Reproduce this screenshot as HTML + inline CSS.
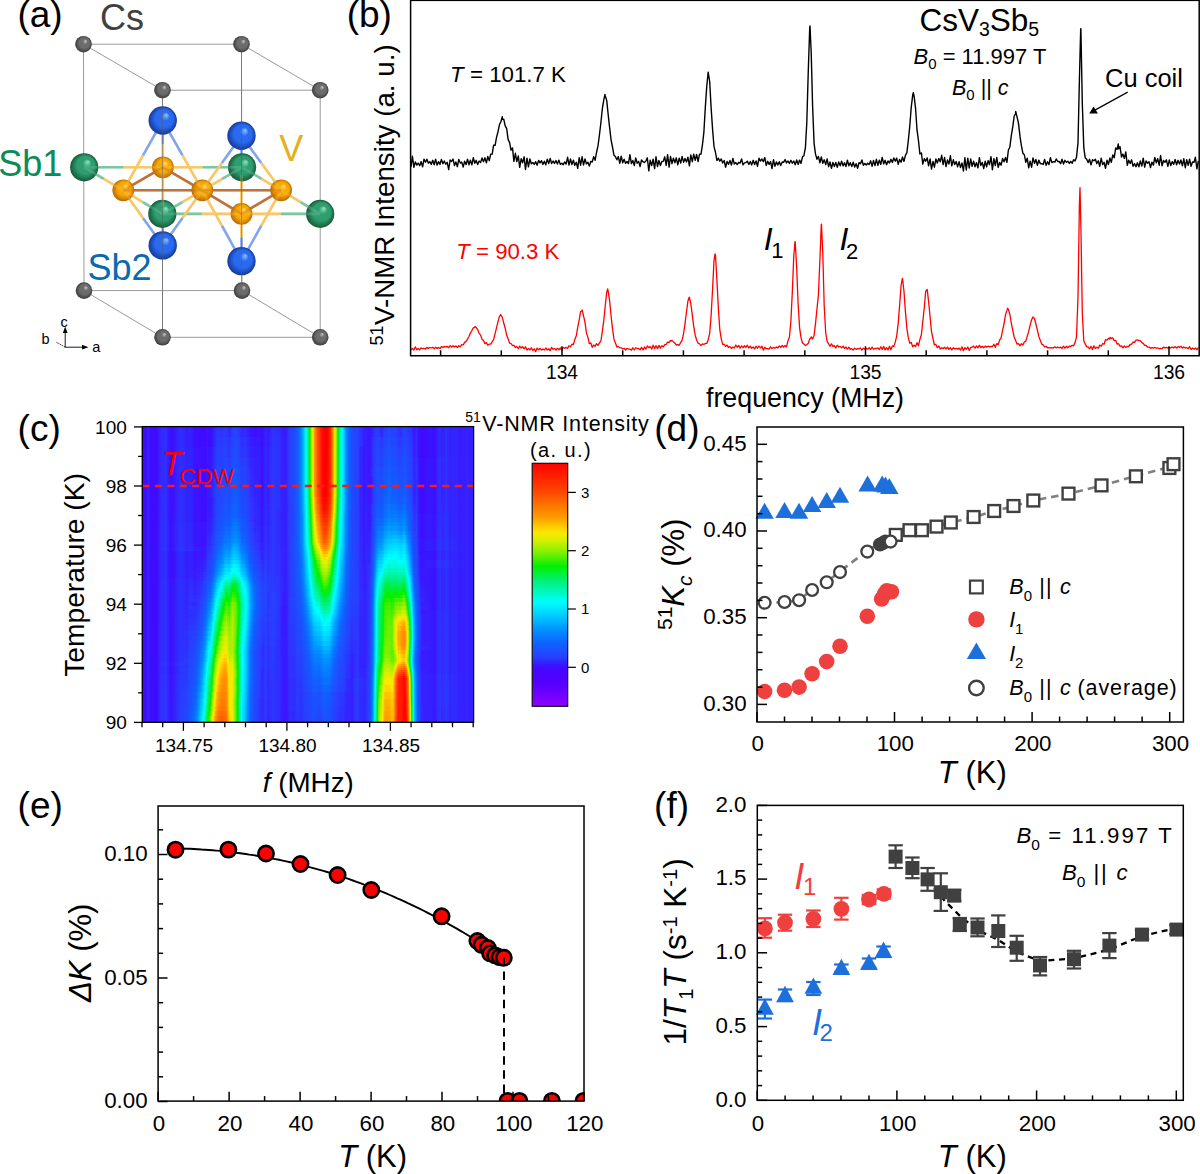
<!DOCTYPE html><html><head><meta charset="utf-8"><style>html,body{margin:0;padding:0;background:#fff;overflow:hidden;}svg{display:block;}</style></head><body><svg width="1200" height="1174" viewBox="0 0 1200 1174" font-family='"Liberation Sans", sans-serif'><rect width="1200" height="1174" fill="#fff"/><defs><radialGradient id="gCs" cx="0.5" cy="0.5" r="0.5" fx="0.64" fy="0.3"><stop offset="0" stop-color="#c8c8c8"/><stop offset="0.3" stop-color="#6c6c6c"/><stop offset="0.62" stop-color="#6c6c6c"/><stop offset="1" stop-color="#3c3c3c"/></radialGradient><radialGradient id="gB" cx="0.5" cy="0.5" r="0.5" fx="0.64" fy="0.3"><stop offset="0" stop-color="#8cc4ff"/><stop offset="0.3" stop-color="#2a6af0"/><stop offset="0.62" stop-color="#2a6af0"/><stop offset="1" stop-color="#163a98"/></radialGradient><radialGradient id="gG" cx="0.5" cy="0.5" r="0.5" fx="0.64" fy="0.3"><stop offset="0" stop-color="#90e8c0"/><stop offset="0.3" stop-color="#2e9e6e"/><stop offset="0.62" stop-color="#2e9e6e"/><stop offset="1" stop-color="#165a3a"/></radialGradient><radialGradient id="gO" cx="0.5" cy="0.5" r="0.5" fx="0.64" fy="0.3"><stop offset="0" stop-color="#ffe070"/><stop offset="0.3" stop-color="#f8a800"/><stop offset="0.62" stop-color="#f8a800"/><stop offset="1" stop-color="#b86a00"/></radialGradient><linearGradient id="h0"><stop offset="0.000" stop-color="#2c2c2c"/><stop offset="0.200" stop-color="#2c2c2c"/><stop offset="0.282" stop-color="#343434"/><stop offset="0.345" stop-color="#2d2d2d"/><stop offset="0.391" stop-color="#2c2c2c"/><stop offset="0.430" stop-color="#2e2e2e"/><stop offset="0.452" stop-color="#333333"/><stop offset="0.464" stop-color="#393939"/><stop offset="0.473" stop-color="#424242"/><stop offset="0.488" stop-color="#5d5d5d"/><stop offset="0.494" stop-color="#6c6c6c"/><stop offset="0.503" stop-color="#888888"/><stop offset="0.521" stop-color="#cacaca"/><stop offset="0.530" stop-color="#e9e9e9"/><stop offset="0.539" stop-color="#fefefe"/><stop offset="0.542" stop-color="#ffffff"/><stop offset="0.558" stop-color="#ffffff"/><stop offset="0.561" stop-color="#fbfbfb"/><stop offset="0.570" stop-color="#e4e4e4"/><stop offset="0.597" stop-color="#838383"/><stop offset="0.609" stop-color="#606060"/><stop offset="0.615" stop-color="#535353"/><stop offset="0.624" stop-color="#444444"/><stop offset="0.642" stop-color="#353535"/><stop offset="0.679" stop-color="#2e2e2e"/><stop offset="0.742" stop-color="#343434"/><stop offset="0.788" stop-color="#333333"/><stop offset="0.836" stop-color="#2c2c2c"/><stop offset="1.000" stop-color="#2c2c2c"/></linearGradient><linearGradient id="h1"><stop offset="0.000" stop-color="#2c2c2c"/><stop offset="0.200" stop-color="#2c2c2c"/><stop offset="0.279" stop-color="#363636"/><stop offset="0.370" stop-color="#2c2c2c"/><stop offset="0.424" stop-color="#2e2e2e"/><stop offset="0.452" stop-color="#333333"/><stop offset="0.464" stop-color="#393939"/><stop offset="0.473" stop-color="#424242"/><stop offset="0.488" stop-color="#5c5c5c"/><stop offset="0.494" stop-color="#6c6c6c"/><stop offset="0.503" stop-color="#888888"/><stop offset="0.521" stop-color="#cacaca"/><stop offset="0.530" stop-color="#e8e8e8"/><stop offset="0.539" stop-color="#fefefe"/><stop offset="0.542" stop-color="#ffffff"/><stop offset="0.558" stop-color="#ffffff"/><stop offset="0.561" stop-color="#fbfbfb"/><stop offset="0.570" stop-color="#e4e4e4"/><stop offset="0.597" stop-color="#838383"/><stop offset="0.609" stop-color="#606060"/><stop offset="0.615" stop-color="#535353"/><stop offset="0.624" stop-color="#444444"/><stop offset="0.642" stop-color="#353535"/><stop offset="0.679" stop-color="#2e2e2e"/><stop offset="0.721" stop-color="#363636"/><stop offset="0.742" stop-color="#363636"/><stop offset="0.788" stop-color="#353535"/><stop offset="0.836" stop-color="#2c2c2c"/><stop offset="1.000" stop-color="#2c2c2c"/></linearGradient><linearGradient id="h2"><stop offset="0.000" stop-color="#2c2c2c"/><stop offset="0.200" stop-color="#2d2d2d"/><stop offset="0.279" stop-color="#373737"/><stop offset="0.367" stop-color="#2d2d2d"/><stop offset="0.424" stop-color="#2e2e2e"/><stop offset="0.452" stop-color="#333333"/><stop offset="0.464" stop-color="#393939"/><stop offset="0.473" stop-color="#424242"/><stop offset="0.488" stop-color="#5c5c5c"/><stop offset="0.494" stop-color="#6c6c6c"/><stop offset="0.503" stop-color="#888888"/><stop offset="0.521" stop-color="#cacaca"/><stop offset="0.530" stop-color="#e8e8e8"/><stop offset="0.539" stop-color="#fdfdfd"/><stop offset="0.542" stop-color="#ffffff"/><stop offset="0.558" stop-color="#ffffff"/><stop offset="0.561" stop-color="#fafafa"/><stop offset="0.570" stop-color="#e3e3e3"/><stop offset="0.597" stop-color="#838383"/><stop offset="0.609" stop-color="#606060"/><stop offset="0.615" stop-color="#535353"/><stop offset="0.624" stop-color="#444444"/><stop offset="0.642" stop-color="#353535"/><stop offset="0.658" stop-color="#303030"/><stop offset="0.682" stop-color="#2e2e2e"/><stop offset="0.721" stop-color="#383838"/><stop offset="0.745" stop-color="#383838"/><stop offset="0.788" stop-color="#373737"/><stop offset="0.836" stop-color="#2c2c2c"/><stop offset="1.000" stop-color="#2c2c2c"/></linearGradient><linearGradient id="h3"><stop offset="0.000" stop-color="#2c2c2c"/><stop offset="0.197" stop-color="#2d2d2d"/><stop offset="0.279" stop-color="#393939"/><stop offset="0.367" stop-color="#2d2d2d"/><stop offset="0.424" stop-color="#2e2e2e"/><stop offset="0.452" stop-color="#333333"/><stop offset="0.464" stop-color="#393939"/><stop offset="0.473" stop-color="#424242"/><stop offset="0.488" stop-color="#5c5c5c"/><stop offset="0.494" stop-color="#6b6b6b"/><stop offset="0.503" stop-color="#878787"/><stop offset="0.521" stop-color="#cacaca"/><stop offset="0.530" stop-color="#e8e8e8"/><stop offset="0.536" stop-color="#f7f7f7"/><stop offset="0.542" stop-color="#ffffff"/><stop offset="0.558" stop-color="#ffffff"/><stop offset="0.561" stop-color="#fafafa"/><stop offset="0.570" stop-color="#e3e3e3"/><stop offset="0.597" stop-color="#828282"/><stop offset="0.609" stop-color="#606060"/><stop offset="0.615" stop-color="#535353"/><stop offset="0.624" stop-color="#444444"/><stop offset="0.642" stop-color="#353535"/><stop offset="0.661" stop-color="#2f2f2f"/><stop offset="0.685" stop-color="#2e2e2e"/><stop offset="0.721" stop-color="#393939"/><stop offset="0.745" stop-color="#3a3a3a"/><stop offset="0.788" stop-color="#393939"/><stop offset="0.836" stop-color="#2d2d2d"/><stop offset="1.000" stop-color="#2c2c2c"/></linearGradient><linearGradient id="h4"><stop offset="0.000" stop-color="#2c2c2c"/><stop offset="0.197" stop-color="#2d2d2d"/><stop offset="0.279" stop-color="#3b3b3b"/><stop offset="0.364" stop-color="#2d2d2d"/><stop offset="0.421" stop-color="#2e2e2e"/><stop offset="0.452" stop-color="#333333"/><stop offset="0.464" stop-color="#393939"/><stop offset="0.473" stop-color="#424242"/><stop offset="0.488" stop-color="#5c5c5c"/><stop offset="0.494" stop-color="#6b6b6b"/><stop offset="0.503" stop-color="#878787"/><stop offset="0.521" stop-color="#c9c9c9"/><stop offset="0.530" stop-color="#e7e7e7"/><stop offset="0.536" stop-color="#f7f7f7"/><stop offset="0.542" stop-color="#ffffff"/><stop offset="0.558" stop-color="#ffffff"/><stop offset="0.561" stop-color="#fafafa"/><stop offset="0.570" stop-color="#e3e3e3"/><stop offset="0.597" stop-color="#828282"/><stop offset="0.609" stop-color="#606060"/><stop offset="0.615" stop-color="#535353"/><stop offset="0.624" stop-color="#444444"/><stop offset="0.642" stop-color="#353535"/><stop offset="0.661" stop-color="#2f2f2f"/><stop offset="0.682" stop-color="#2e2e2e"/><stop offset="0.724" stop-color="#3c3c3c"/><stop offset="0.779" stop-color="#3c3c3c"/><stop offset="0.836" stop-color="#2d2d2d"/><stop offset="1.000" stop-color="#2c2c2c"/></linearGradient><linearGradient id="h5"><stop offset="0.000" stop-color="#2c2c2c"/><stop offset="0.197" stop-color="#2d2d2d"/><stop offset="0.279" stop-color="#3c3c3c"/><stop offset="0.364" stop-color="#2d2d2d"/><stop offset="0.421" stop-color="#2e2e2e"/><stop offset="0.452" stop-color="#333333"/><stop offset="0.464" stop-color="#393939"/><stop offset="0.473" stop-color="#424242"/><stop offset="0.488" stop-color="#5c5c5c"/><stop offset="0.494" stop-color="#6b6b6b"/><stop offset="0.503" stop-color="#878787"/><stop offset="0.521" stop-color="#c9c9c9"/><stop offset="0.530" stop-color="#e7e7e7"/><stop offset="0.536" stop-color="#f6f6f6"/><stop offset="0.542" stop-color="#ffffff"/><stop offset="0.558" stop-color="#fefefe"/><stop offset="0.561" stop-color="#f9f9f9"/><stop offset="0.570" stop-color="#e2e2e2"/><stop offset="0.597" stop-color="#828282"/><stop offset="0.609" stop-color="#606060"/><stop offset="0.615" stop-color="#535353"/><stop offset="0.624" stop-color="#444444"/><stop offset="0.642" stop-color="#353535"/><stop offset="0.661" stop-color="#2f2f2f"/><stop offset="0.682" stop-color="#2e2e2e"/><stop offset="0.694" stop-color="#303030"/><stop offset="0.724" stop-color="#3e3e3e"/><stop offset="0.779" stop-color="#3e3e3e"/><stop offset="0.836" stop-color="#2d2d2d"/><stop offset="1.000" stop-color="#2c2c2c"/></linearGradient><linearGradient id="h6"><stop offset="0.000" stop-color="#2c2c2c"/><stop offset="0.194" stop-color="#2d2d2d"/><stop offset="0.279" stop-color="#3e3e3e"/><stop offset="0.364" stop-color="#2d2d2d"/><stop offset="0.421" stop-color="#2e2e2e"/><stop offset="0.452" stop-color="#333333"/><stop offset="0.464" stop-color="#393939"/><stop offset="0.473" stop-color="#424242"/><stop offset="0.488" stop-color="#5c5c5c"/><stop offset="0.494" stop-color="#6b6b6b"/><stop offset="0.503" stop-color="#878787"/><stop offset="0.521" stop-color="#c8c8c8"/><stop offset="0.530" stop-color="#e6e6e6"/><stop offset="0.539" stop-color="#fbfbfb"/><stop offset="0.545" stop-color="#ffffff"/><stop offset="0.558" stop-color="#fdfdfd"/><stop offset="0.564" stop-color="#f2f2f2"/><stop offset="0.573" stop-color="#d8d8d8"/><stop offset="0.597" stop-color="#828282"/><stop offset="0.606" stop-color="#676767"/><stop offset="0.612" stop-color="#595959"/><stop offset="0.627" stop-color="#404040"/><stop offset="0.642" stop-color="#353535"/><stop offset="0.661" stop-color="#2f2f2f"/><stop offset="0.682" stop-color="#2e2e2e"/><stop offset="0.694" stop-color="#313131"/><stop offset="0.724" stop-color="#404040"/><stop offset="0.779" stop-color="#404040"/><stop offset="0.791" stop-color="#3e3e3e"/><stop offset="0.818" stop-color="#313131"/><stop offset="0.836" stop-color="#2d2d2d"/><stop offset="1.000" stop-color="#2c2c2c"/></linearGradient><linearGradient id="h7"><stop offset="0.000" stop-color="#2c2c2c"/><stop offset="0.194" stop-color="#2d2d2d"/><stop offset="0.218" stop-color="#303030"/><stop offset="0.279" stop-color="#404040"/><stop offset="0.364" stop-color="#2d2d2d"/><stop offset="0.421" stop-color="#2e2e2e"/><stop offset="0.452" stop-color="#333333"/><stop offset="0.464" stop-color="#393939"/><stop offset="0.473" stop-color="#424242"/><stop offset="0.488" stop-color="#5b5b5b"/><stop offset="0.503" stop-color="#858585"/><stop offset="0.530" stop-color="#e2e2e2"/><stop offset="0.539" stop-color="#f7f7f7"/><stop offset="0.548" stop-color="#fefefe"/><stop offset="0.558" stop-color="#f9f9f9"/><stop offset="0.567" stop-color="#e6e6e6"/><stop offset="0.576" stop-color="#cacaca"/><stop offset="0.597" stop-color="#808080"/><stop offset="0.606" stop-color="#666666"/><stop offset="0.612" stop-color="#585858"/><stop offset="0.627" stop-color="#404040"/><stop offset="0.642" stop-color="#353535"/><stop offset="0.661" stop-color="#2f2f2f"/><stop offset="0.682" stop-color="#2e2e2e"/><stop offset="0.694" stop-color="#313131"/><stop offset="0.724" stop-color="#414141"/><stop offset="0.779" stop-color="#424242"/><stop offset="0.791" stop-color="#404040"/><stop offset="0.818" stop-color="#323232"/><stop offset="0.836" stop-color="#2d2d2d"/><stop offset="1.000" stop-color="#2c2c2c"/></linearGradient><linearGradient id="h8"><stop offset="0.000" stop-color="#2c2c2c"/><stop offset="0.194" stop-color="#2d2d2d"/><stop offset="0.218" stop-color="#313131"/><stop offset="0.261" stop-color="#3e3e3e"/><stop offset="0.279" stop-color="#414141"/><stop offset="0.364" stop-color="#2d2d2d"/><stop offset="0.421" stop-color="#2e2e2e"/><stop offset="0.452" stop-color="#323232"/><stop offset="0.464" stop-color="#393939"/><stop offset="0.473" stop-color="#414141"/><stop offset="0.488" stop-color="#5a5a5a"/><stop offset="0.503" stop-color="#838383"/><stop offset="0.530" stop-color="#dedede"/><stop offset="0.539" stop-color="#f2f2f2"/><stop offset="0.548" stop-color="#fbfbfb"/><stop offset="0.558" stop-color="#f5f5f5"/><stop offset="0.567" stop-color="#e2e2e2"/><stop offset="0.576" stop-color="#c7c7c7"/><stop offset="0.597" stop-color="#7e7e7e"/><stop offset="0.612" stop-color="#575757"/><stop offset="0.627" stop-color="#404040"/><stop offset="0.642" stop-color="#343434"/><stop offset="0.661" stop-color="#2f2f2f"/><stop offset="0.685" stop-color="#2f2f2f"/><stop offset="0.724" stop-color="#434343"/><stop offset="0.779" stop-color="#464646"/><stop offset="0.791" stop-color="#434343"/><stop offset="0.818" stop-color="#333333"/><stop offset="0.836" stop-color="#2d2d2d"/><stop offset="1.000" stop-color="#2c2c2c"/></linearGradient><linearGradient id="h9"><stop offset="0.000" stop-color="#2c2c2c"/><stop offset="0.191" stop-color="#2d2d2d"/><stop offset="0.218" stop-color="#313131"/><stop offset="0.261" stop-color="#3f3f3f"/><stop offset="0.279" stop-color="#414141"/><stop offset="0.361" stop-color="#2e2e2e"/><stop offset="0.418" stop-color="#2d2d2d"/><stop offset="0.452" stop-color="#323232"/><stop offset="0.464" stop-color="#383838"/><stop offset="0.473" stop-color="#414141"/><stop offset="0.488" stop-color="#595959"/><stop offset="0.503" stop-color="#818181"/><stop offset="0.530" stop-color="#dbdbdb"/><stop offset="0.539" stop-color="#efefef"/><stop offset="0.548" stop-color="#f6f6f6"/><stop offset="0.558" stop-color="#f1f1f1"/><stop offset="0.567" stop-color="#dfdfdf"/><stop offset="0.576" stop-color="#c4c4c4"/><stop offset="0.597" stop-color="#7d7d7d"/><stop offset="0.612" stop-color="#565656"/><stop offset="0.627" stop-color="#3f3f3f"/><stop offset="0.642" stop-color="#343434"/><stop offset="0.661" stop-color="#2f2f2f"/><stop offset="0.685" stop-color="#2f2f2f"/><stop offset="0.724" stop-color="#444444"/><stop offset="0.779" stop-color="#494949"/><stop offset="0.791" stop-color="#464646"/><stop offset="0.818" stop-color="#343434"/><stop offset="0.836" stop-color="#2d2d2d"/><stop offset="1.000" stop-color="#2c2c2c"/></linearGradient><linearGradient id="h10"><stop offset="0.000" stop-color="#2c2c2c"/><stop offset="0.191" stop-color="#2d2d2d"/><stop offset="0.218" stop-color="#313131"/><stop offset="0.261" stop-color="#404040"/><stop offset="0.279" stop-color="#424242"/><stop offset="0.361" stop-color="#2e2e2e"/><stop offset="0.418" stop-color="#2d2d2d"/><stop offset="0.452" stop-color="#323232"/><stop offset="0.464" stop-color="#383838"/><stop offset="0.473" stop-color="#404040"/><stop offset="0.488" stop-color="#585858"/><stop offset="0.503" stop-color="#7f7f7f"/><stop offset="0.530" stop-color="#d7d7d7"/><stop offset="0.539" stop-color="#eaeaea"/><stop offset="0.548" stop-color="#f2f2f2"/><stop offset="0.558" stop-color="#ededed"/><stop offset="0.567" stop-color="#dbdbdb"/><stop offset="0.576" stop-color="#c1c1c1"/><stop offset="0.597" stop-color="#7b7b7b"/><stop offset="0.612" stop-color="#555555"/><stop offset="0.627" stop-color="#3f3f3f"/><stop offset="0.642" stop-color="#343434"/><stop offset="0.664" stop-color="#2f2f2f"/><stop offset="0.685" stop-color="#2f2f2f"/><stop offset="0.697" stop-color="#343434"/><stop offset="0.721" stop-color="#444444"/><stop offset="0.779" stop-color="#4c4c4c"/><stop offset="0.791" stop-color="#494949"/><stop offset="0.818" stop-color="#343434"/><stop offset="0.836" stop-color="#2e2e2e"/><stop offset="1.000" stop-color="#2c2c2c"/></linearGradient><linearGradient id="h11"><stop offset="0.000" stop-color="#2c2c2c"/><stop offset="0.191" stop-color="#2d2d2d"/><stop offset="0.218" stop-color="#323232"/><stop offset="0.261" stop-color="#414141"/><stop offset="0.279" stop-color="#444444"/><stop offset="0.294" stop-color="#424242"/><stop offset="0.336" stop-color="#333333"/><stop offset="0.361" stop-color="#2e2e2e"/><stop offset="0.418" stop-color="#2d2d2d"/><stop offset="0.452" stop-color="#323232"/><stop offset="0.470" stop-color="#3d3d3d"/><stop offset="0.485" stop-color="#525252"/><stop offset="0.500" stop-color="#767676"/><stop offset="0.530" stop-color="#d4d4d4"/><stop offset="0.539" stop-color="#e6e6e6"/><stop offset="0.548" stop-color="#eeeeee"/><stop offset="0.558" stop-color="#e8e8e8"/><stop offset="0.567" stop-color="#d7d7d7"/><stop offset="0.576" stop-color="#bebebe"/><stop offset="0.597" stop-color="#7a7a7a"/><stop offset="0.612" stop-color="#555555"/><stop offset="0.627" stop-color="#3f3f3f"/><stop offset="0.642" stop-color="#343434"/><stop offset="0.664" stop-color="#2f2f2f"/><stop offset="0.685" stop-color="#2f2f2f"/><stop offset="0.694" stop-color="#333333"/><stop offset="0.715" stop-color="#434343"/><stop offset="0.724" stop-color="#474747"/><stop offset="0.779" stop-color="#4e4e4e"/><stop offset="0.791" stop-color="#4b4b4b"/><stop offset="0.818" stop-color="#353535"/><stop offset="0.836" stop-color="#2e2e2e"/><stop offset="1.000" stop-color="#2c2c2c"/></linearGradient><linearGradient id="h12"><stop offset="0.000" stop-color="#2c2c2c"/><stop offset="0.191" stop-color="#2e2e2e"/><stop offset="0.215" stop-color="#323232"/><stop offset="0.261" stop-color="#434343"/><stop offset="0.279" stop-color="#464646"/><stop offset="0.294" stop-color="#444444"/><stop offset="0.336" stop-color="#343434"/><stop offset="0.361" stop-color="#2e2e2e"/><stop offset="0.415" stop-color="#2d2d2d"/><stop offset="0.452" stop-color="#323232"/><stop offset="0.470" stop-color="#3d3d3d"/><stop offset="0.485" stop-color="#525252"/><stop offset="0.500" stop-color="#757575"/><stop offset="0.530" stop-color="#d0d0d0"/><stop offset="0.539" stop-color="#e2e2e2"/><stop offset="0.548" stop-color="#e9e9e9"/><stop offset="0.558" stop-color="#e4e4e4"/><stop offset="0.567" stop-color="#d4d4d4"/><stop offset="0.576" stop-color="#bbbbbb"/><stop offset="0.597" stop-color="#797979"/><stop offset="0.612" stop-color="#555555"/><stop offset="0.627" stop-color="#3f3f3f"/><stop offset="0.642" stop-color="#343434"/><stop offset="0.664" stop-color="#2f2f2f"/><stop offset="0.685" stop-color="#2f2f2f"/><stop offset="0.694" stop-color="#333333"/><stop offset="0.721" stop-color="#494949"/><stop offset="0.776" stop-color="#515151"/><stop offset="0.791" stop-color="#4d4d4d"/><stop offset="0.818" stop-color="#363636"/><stop offset="0.836" stop-color="#2e2e2e"/><stop offset="1.000" stop-color="#2c2c2c"/></linearGradient><linearGradient id="h13"><stop offset="0.000" stop-color="#2c2c2c"/><stop offset="0.191" stop-color="#2e2e2e"/><stop offset="0.215" stop-color="#323232"/><stop offset="0.261" stop-color="#464646"/><stop offset="0.279" stop-color="#494949"/><stop offset="0.294" stop-color="#464646"/><stop offset="0.336" stop-color="#343434"/><stop offset="0.361" stop-color="#2f2f2f"/><stop offset="0.415" stop-color="#2d2d2d"/><stop offset="0.452" stop-color="#323232"/><stop offset="0.470" stop-color="#3d3d3d"/><stop offset="0.485" stop-color="#525252"/><stop offset="0.500" stop-color="#747474"/><stop offset="0.530" stop-color="#cdcdcd"/><stop offset="0.539" stop-color="#dedede"/><stop offset="0.548" stop-color="#e5e5e5"/><stop offset="0.558" stop-color="#e0e0e0"/><stop offset="0.567" stop-color="#d0d0d0"/><stop offset="0.576" stop-color="#b8b8b8"/><stop offset="0.597" stop-color="#787878"/><stop offset="0.612" stop-color="#555555"/><stop offset="0.627" stop-color="#3f3f3f"/><stop offset="0.645" stop-color="#333333"/><stop offset="0.667" stop-color="#2f2f2f"/><stop offset="0.685" stop-color="#2f2f2f"/><stop offset="0.694" stop-color="#343434"/><stop offset="0.715" stop-color="#484848"/><stop offset="0.724" stop-color="#4d4d4d"/><stop offset="0.776" stop-color="#545454"/><stop offset="0.791" stop-color="#505050"/><stop offset="0.818" stop-color="#363636"/><stop offset="0.836" stop-color="#2e2e2e"/><stop offset="1.000" stop-color="#2c2c2c"/></linearGradient><linearGradient id="h14"><stop offset="0.000" stop-color="#2c2c2c"/><stop offset="0.191" stop-color="#2e2e2e"/><stop offset="0.215" stop-color="#333333"/><stop offset="0.261" stop-color="#484848"/><stop offset="0.279" stop-color="#4b4b4b"/><stop offset="0.294" stop-color="#494949"/><stop offset="0.336" stop-color="#353535"/><stop offset="0.361" stop-color="#2f2f2f"/><stop offset="0.415" stop-color="#2d2d2d"/><stop offset="0.452" stop-color="#323232"/><stop offset="0.470" stop-color="#3d3d3d"/><stop offset="0.485" stop-color="#525252"/><stop offset="0.500" stop-color="#737373"/><stop offset="0.530" stop-color="#cacaca"/><stop offset="0.539" stop-color="#dadada"/><stop offset="0.548" stop-color="#e1e1e1"/><stop offset="0.558" stop-color="#dcdcdc"/><stop offset="0.567" stop-color="#cdcdcd"/><stop offset="0.576" stop-color="#b6b6b6"/><stop offset="0.597" stop-color="#777777"/><stop offset="0.612" stop-color="#545454"/><stop offset="0.627" stop-color="#3f3f3f"/><stop offset="0.645" stop-color="#333333"/><stop offset="0.667" stop-color="#2f2f2f"/><stop offset="0.685" stop-color="#303030"/><stop offset="0.694" stop-color="#343434"/><stop offset="0.715" stop-color="#4b4b4b"/><stop offset="0.724" stop-color="#515151"/><stop offset="0.776" stop-color="#585858"/><stop offset="0.791" stop-color="#545454"/><stop offset="0.818" stop-color="#383838"/><stop offset="0.836" stop-color="#2e2e2e"/><stop offset="1.000" stop-color="#2c2c2c"/></linearGradient><linearGradient id="h15"><stop offset="0.000" stop-color="#2c2c2c"/><stop offset="0.191" stop-color="#2e2e2e"/><stop offset="0.215" stop-color="#343434"/><stop offset="0.261" stop-color="#4a4a4a"/><stop offset="0.279" stop-color="#4d4d4d"/><stop offset="0.294" stop-color="#4a4a4a"/><stop offset="0.336" stop-color="#363636"/><stop offset="0.361" stop-color="#2f2f2f"/><stop offset="0.412" stop-color="#2d2d2d"/><stop offset="0.448" stop-color="#313131"/><stop offset="0.470" stop-color="#3d3d3d"/><stop offset="0.485" stop-color="#525252"/><stop offset="0.500" stop-color="#737373"/><stop offset="0.530" stop-color="#c7c7c7"/><stop offset="0.539" stop-color="#d7d7d7"/><stop offset="0.548" stop-color="#dedede"/><stop offset="0.558" stop-color="#d9d9d9"/><stop offset="0.567" stop-color="#cacaca"/><stop offset="0.576" stop-color="#b4b4b4"/><stop offset="0.600" stop-color="#6f6f6f"/><stop offset="0.612" stop-color="#545454"/><stop offset="0.627" stop-color="#3f3f3f"/><stop offset="0.645" stop-color="#333333"/><stop offset="0.667" stop-color="#2f2f2f"/><stop offset="0.685" stop-color="#303030"/><stop offset="0.694" stop-color="#353535"/><stop offset="0.721" stop-color="#525252"/><stop offset="0.776" stop-color="#5d5d5d"/><stop offset="0.791" stop-color="#595959"/><stop offset="0.818" stop-color="#393939"/><stop offset="0.836" stop-color="#2e2e2e"/><stop offset="1.000" stop-color="#2c2c2c"/></linearGradient><linearGradient id="h16"><stop offset="0.000" stop-color="#2c2c2c"/><stop offset="0.188" stop-color="#2e2e2e"/><stop offset="0.215" stop-color="#353535"/><stop offset="0.261" stop-color="#4c4c4c"/><stop offset="0.279" stop-color="#505050"/><stop offset="0.294" stop-color="#4d4d4d"/><stop offset="0.336" stop-color="#363636"/><stop offset="0.361" stop-color="#2f2f2f"/><stop offset="0.409" stop-color="#2d2d2d"/><stop offset="0.448" stop-color="#313131"/><stop offset="0.470" stop-color="#3e3e3e"/><stop offset="0.485" stop-color="#515151"/><stop offset="0.500" stop-color="#727272"/><stop offset="0.530" stop-color="#c4c4c4"/><stop offset="0.539" stop-color="#d4d4d4"/><stop offset="0.548" stop-color="#dadada"/><stop offset="0.558" stop-color="#d5d5d5"/><stop offset="0.567" stop-color="#c7c7c7"/><stop offset="0.576" stop-color="#b1b1b1"/><stop offset="0.600" stop-color="#6e6e6e"/><stop offset="0.612" stop-color="#545454"/><stop offset="0.627" stop-color="#3f3f3f"/><stop offset="0.645" stop-color="#333333"/><stop offset="0.667" stop-color="#2f2f2f"/><stop offset="0.685" stop-color="#303030"/><stop offset="0.694" stop-color="#363636"/><stop offset="0.721" stop-color="#555555"/><stop offset="0.776" stop-color="#626262"/><stop offset="0.791" stop-color="#5d5d5d"/><stop offset="0.818" stop-color="#3a3a3a"/><stop offset="0.836" stop-color="#2f2f2f"/><stop offset="1.000" stop-color="#2c2c2c"/></linearGradient><linearGradient id="h17"><stop offset="0.000" stop-color="#2c2c2c"/><stop offset="0.188" stop-color="#2e2e2e"/><stop offset="0.215" stop-color="#353535"/><stop offset="0.261" stop-color="#4f4f4f"/><stop offset="0.279" stop-color="#535353"/><stop offset="0.294" stop-color="#4f4f4f"/><stop offset="0.336" stop-color="#373737"/><stop offset="0.361" stop-color="#303030"/><stop offset="0.409" stop-color="#2d2d2d"/><stop offset="0.448" stop-color="#313131"/><stop offset="0.470" stop-color="#3d3d3d"/><stop offset="0.485" stop-color="#515151"/><stop offset="0.500" stop-color="#717171"/><stop offset="0.530" stop-color="#c0c0c0"/><stop offset="0.539" stop-color="#cfcfcf"/><stop offset="0.548" stop-color="#d5d5d5"/><stop offset="0.558" stop-color="#d1d1d1"/><stop offset="0.567" stop-color="#c3c3c3"/><stop offset="0.576" stop-color="#aeaeae"/><stop offset="0.600" stop-color="#6d6d6d"/><stop offset="0.615" stop-color="#4f4f4f"/><stop offset="0.630" stop-color="#3c3c3c"/><stop offset="0.645" stop-color="#333333"/><stop offset="0.667" stop-color="#2f2f2f"/><stop offset="0.685" stop-color="#303030"/><stop offset="0.694" stop-color="#363636"/><stop offset="0.712" stop-color="#4e4e4e"/><stop offset="0.721" stop-color="#575757"/><stop offset="0.776" stop-color="#666666"/><stop offset="0.791" stop-color="#616161"/><stop offset="0.818" stop-color="#3b3b3b"/><stop offset="0.827" stop-color="#333333"/><stop offset="0.836" stop-color="#2f2f2f"/><stop offset="1.000" stop-color="#2c2c2c"/></linearGradient><linearGradient id="h18"><stop offset="0.000" stop-color="#2c2c2c"/><stop offset="0.188" stop-color="#2e2e2e"/><stop offset="0.215" stop-color="#363636"/><stop offset="0.261" stop-color="#515151"/><stop offset="0.279" stop-color="#555555"/><stop offset="0.294" stop-color="#515151"/><stop offset="0.336" stop-color="#383838"/><stop offset="0.361" stop-color="#303030"/><stop offset="0.409" stop-color="#2d2d2d"/><stop offset="0.448" stop-color="#313131"/><stop offset="0.470" stop-color="#3d3d3d"/><stop offset="0.485" stop-color="#505050"/><stop offset="0.500" stop-color="#6f6f6f"/><stop offset="0.530" stop-color="#bcbcbc"/><stop offset="0.539" stop-color="#cbcbcb"/><stop offset="0.548" stop-color="#d1d1d1"/><stop offset="0.558" stop-color="#cdcdcd"/><stop offset="0.567" stop-color="#bfbfbf"/><stop offset="0.576" stop-color="#ababab"/><stop offset="0.600" stop-color="#6c6c6c"/><stop offset="0.615" stop-color="#4e4e4e"/><stop offset="0.630" stop-color="#3c3c3c"/><stop offset="0.645" stop-color="#333333"/><stop offset="0.667" stop-color="#2f2f2f"/><stop offset="0.685" stop-color="#303030"/><stop offset="0.694" stop-color="#373737"/><stop offset="0.712" stop-color="#4f4f4f"/><stop offset="0.721" stop-color="#595959"/><stop offset="0.776" stop-color="#686868"/><stop offset="0.791" stop-color="#636363"/><stop offset="0.818" stop-color="#3c3c3c"/><stop offset="0.827" stop-color="#333333"/><stop offset="0.836" stop-color="#2f2f2f"/><stop offset="1.000" stop-color="#2c2c2c"/></linearGradient><linearGradient id="h19"><stop offset="0.000" stop-color="#2c2c2c"/><stop offset="0.188" stop-color="#2f2f2f"/><stop offset="0.215" stop-color="#373737"/><stop offset="0.258" stop-color="#515151"/><stop offset="0.276" stop-color="#575757"/><stop offset="0.294" stop-color="#535353"/><stop offset="0.336" stop-color="#383838"/><stop offset="0.361" stop-color="#303030"/><stop offset="0.406" stop-color="#2d2d2d"/><stop offset="0.448" stop-color="#313131"/><stop offset="0.470" stop-color="#3d3d3d"/><stop offset="0.485" stop-color="#505050"/><stop offset="0.500" stop-color="#6e6e6e"/><stop offset="0.530" stop-color="#b9b9b9"/><stop offset="0.539" stop-color="#c7c7c7"/><stop offset="0.548" stop-color="#cdcdcd"/><stop offset="0.558" stop-color="#c9c9c9"/><stop offset="0.567" stop-color="#bcbcbc"/><stop offset="0.576" stop-color="#a8a8a8"/><stop offset="0.600" stop-color="#6a6a6a"/><stop offset="0.615" stop-color="#4d4d4d"/><stop offset="0.630" stop-color="#3c3c3c"/><stop offset="0.645" stop-color="#333333"/><stop offset="0.667" stop-color="#2f2f2f"/><stop offset="0.685" stop-color="#313131"/><stop offset="0.694" stop-color="#373737"/><stop offset="0.712" stop-color="#515151"/><stop offset="0.721" stop-color="#5a5a5a"/><stop offset="0.776" stop-color="#6a6a6a"/><stop offset="0.791" stop-color="#646464"/><stop offset="0.821" stop-color="#393939"/><stop offset="0.836" stop-color="#2f2f2f"/><stop offset="1.000" stop-color="#2c2c2c"/></linearGradient><linearGradient id="h20"><stop offset="0.000" stop-color="#2c2c2c"/><stop offset="0.188" stop-color="#2f2f2f"/><stop offset="0.215" stop-color="#373737"/><stop offset="0.258" stop-color="#535353"/><stop offset="0.276" stop-color="#585858"/><stop offset="0.294" stop-color="#545454"/><stop offset="0.336" stop-color="#393939"/><stop offset="0.361" stop-color="#303030"/><stop offset="0.406" stop-color="#2d2d2d"/><stop offset="0.448" stop-color="#313131"/><stop offset="0.470" stop-color="#3d3d3d"/><stop offset="0.485" stop-color="#4f4f4f"/><stop offset="0.500" stop-color="#6c6c6c"/><stop offset="0.530" stop-color="#b5b5b5"/><stop offset="0.539" stop-color="#c3c3c3"/><stop offset="0.548" stop-color="#c8c8c8"/><stop offset="0.558" stop-color="#c5c5c5"/><stop offset="0.567" stop-color="#b8b8b8"/><stop offset="0.576" stop-color="#a5a5a5"/><stop offset="0.600" stop-color="#696969"/><stop offset="0.615" stop-color="#4d4d4d"/><stop offset="0.630" stop-color="#3c3c3c"/><stop offset="0.645" stop-color="#333333"/><stop offset="0.667" stop-color="#2f2f2f"/><stop offset="0.685" stop-color="#313131"/><stop offset="0.694" stop-color="#373737"/><stop offset="0.712" stop-color="#525252"/><stop offset="0.721" stop-color="#5c5c5c"/><stop offset="0.776" stop-color="#6b6b6b"/><stop offset="0.791" stop-color="#656565"/><stop offset="0.821" stop-color="#393939"/><stop offset="0.836" stop-color="#2f2f2f"/><stop offset="1.000" stop-color="#2c2c2c"/></linearGradient><linearGradient id="h21"><stop offset="0.000" stop-color="#2c2c2c"/><stop offset="0.145" stop-color="#2c2c2c"/><stop offset="0.188" stop-color="#2f2f2f"/><stop offset="0.215" stop-color="#383838"/><stop offset="0.258" stop-color="#555555"/><stop offset="0.276" stop-color="#5b5b5b"/><stop offset="0.294" stop-color="#565656"/><stop offset="0.336" stop-color="#3a3a3a"/><stop offset="0.361" stop-color="#313131"/><stop offset="0.406" stop-color="#2d2d2d"/><stop offset="0.448" stop-color="#313131"/><stop offset="0.470" stop-color="#3c3c3c"/><stop offset="0.485" stop-color="#4e4e4e"/><stop offset="0.500" stop-color="#6b6b6b"/><stop offset="0.530" stop-color="#b1b1b1"/><stop offset="0.539" stop-color="#bebebe"/><stop offset="0.548" stop-color="#c3c3c3"/><stop offset="0.558" stop-color="#c0c0c0"/><stop offset="0.567" stop-color="#b3b3b3"/><stop offset="0.576" stop-color="#a1a1a1"/><stop offset="0.600" stop-color="#686868"/><stop offset="0.615" stop-color="#4c4c4c"/><stop offset="0.630" stop-color="#3b3b3b"/><stop offset="0.645" stop-color="#333333"/><stop offset="0.670" stop-color="#2f2f2f"/><stop offset="0.685" stop-color="#313131"/><stop offset="0.694" stop-color="#383838"/><stop offset="0.712" stop-color="#545454"/><stop offset="0.721" stop-color="#5f5f5f"/><stop offset="0.776" stop-color="#6d6d6d"/><stop offset="0.791" stop-color="#676767"/><stop offset="0.821" stop-color="#3a3a3a"/><stop offset="0.836" stop-color="#2f2f2f"/><stop offset="0.864" stop-color="#2d2d2d"/><stop offset="1.000" stop-color="#2c2c2c"/></linearGradient><linearGradient id="h22"><stop offset="0.000" stop-color="#2c2c2c"/><stop offset="0.145" stop-color="#2c2c2c"/><stop offset="0.188" stop-color="#2f2f2f"/><stop offset="0.212" stop-color="#383838"/><stop offset="0.258" stop-color="#575757"/><stop offset="0.276" stop-color="#5d5d5d"/><stop offset="0.294" stop-color="#595959"/><stop offset="0.336" stop-color="#3b3b3b"/><stop offset="0.361" stop-color="#313131"/><stop offset="0.403" stop-color="#2d2d2d"/><stop offset="0.448" stop-color="#313131"/><stop offset="0.467" stop-color="#3a3a3a"/><stop offset="0.482" stop-color="#494949"/><stop offset="0.497" stop-color="#636363"/><stop offset="0.530" stop-color="#acacac"/><stop offset="0.539" stop-color="#b9b9b9"/><stop offset="0.548" stop-color="#bebebe"/><stop offset="0.558" stop-color="#bababa"/><stop offset="0.567" stop-color="#afafaf"/><stop offset="0.576" stop-color="#9d9d9d"/><stop offset="0.600" stop-color="#666666"/><stop offset="0.615" stop-color="#4b4b4b"/><stop offset="0.630" stop-color="#3b3b3b"/><stop offset="0.645" stop-color="#333333"/><stop offset="0.670" stop-color="#2f2f2f"/><stop offset="0.685" stop-color="#313131"/><stop offset="0.694" stop-color="#393939"/><stop offset="0.715" stop-color="#5b5b5b"/><stop offset="0.724" stop-color="#646464"/><stop offset="0.776" stop-color="#6f6f6f"/><stop offset="0.791" stop-color="#696969"/><stop offset="0.800" stop-color="#5d5d5d"/><stop offset="0.821" stop-color="#3b3b3b"/><stop offset="0.836" stop-color="#303030"/><stop offset="0.864" stop-color="#2d2d2d"/><stop offset="1.000" stop-color="#2c2c2c"/></linearGradient><linearGradient id="h23"><stop offset="0.000" stop-color="#2c2c2c"/><stop offset="0.142" stop-color="#2c2c2c"/><stop offset="0.185" stop-color="#2f2f2f"/><stop offset="0.212" stop-color="#383838"/><stop offset="0.258" stop-color="#5a5a5a"/><stop offset="0.276" stop-color="#606060"/><stop offset="0.294" stop-color="#5b5b5b"/><stop offset="0.336" stop-color="#3c3c3c"/><stop offset="0.361" stop-color="#313131"/><stop offset="0.403" stop-color="#2d2d2d"/><stop offset="0.448" stop-color="#313131"/><stop offset="0.467" stop-color="#393939"/><stop offset="0.482" stop-color="#484848"/><stop offset="0.497" stop-color="#616161"/><stop offset="0.530" stop-color="#a8a8a8"/><stop offset="0.539" stop-color="#b4b4b4"/><stop offset="0.548" stop-color="#b9b9b9"/><stop offset="0.558" stop-color="#b5b5b5"/><stop offset="0.567" stop-color="#aaaaaa"/><stop offset="0.576" stop-color="#999999"/><stop offset="0.600" stop-color="#646464"/><stop offset="0.615" stop-color="#4b4b4b"/><stop offset="0.630" stop-color="#3b3b3b"/><stop offset="0.645" stop-color="#333333"/><stop offset="0.670" stop-color="#2f2f2f"/><stop offset="0.685" stop-color="#313131"/><stop offset="0.694" stop-color="#393939"/><stop offset="0.715" stop-color="#5e5e5e"/><stop offset="0.724" stop-color="#676767"/><stop offset="0.776" stop-color="#717171"/><stop offset="0.791" stop-color="#6b6b6b"/><stop offset="0.800" stop-color="#5f5f5f"/><stop offset="0.821" stop-color="#3b3b3b"/><stop offset="0.836" stop-color="#303030"/><stop offset="0.864" stop-color="#2d2d2d"/><stop offset="1.000" stop-color="#2c2c2c"/></linearGradient><linearGradient id="h24"><stop offset="0.000" stop-color="#2c2c2c"/><stop offset="0.142" stop-color="#2c2c2c"/><stop offset="0.185" stop-color="#303030"/><stop offset="0.212" stop-color="#3a3a3a"/><stop offset="0.258" stop-color="#5d5d5d"/><stop offset="0.276" stop-color="#646464"/><stop offset="0.294" stop-color="#5f5f5f"/><stop offset="0.336" stop-color="#3d3d3d"/><stop offset="0.361" stop-color="#323232"/><stop offset="0.403" stop-color="#2d2d2d"/><stop offset="0.448" stop-color="#313131"/><stop offset="0.467" stop-color="#393939"/><stop offset="0.482" stop-color="#484848"/><stop offset="0.497" stop-color="#606060"/><stop offset="0.530" stop-color="#a3a3a3"/><stop offset="0.539" stop-color="#afafaf"/><stop offset="0.548" stop-color="#b4b4b4"/><stop offset="0.558" stop-color="#b0b0b0"/><stop offset="0.567" stop-color="#a6a6a6"/><stop offset="0.576" stop-color="#969696"/><stop offset="0.600" stop-color="#636363"/><stop offset="0.615" stop-color="#4a4a4a"/><stop offset="0.630" stop-color="#3b3b3b"/><stop offset="0.648" stop-color="#323232"/><stop offset="0.670" stop-color="#2f2f2f"/><stop offset="0.685" stop-color="#313131"/><stop offset="0.694" stop-color="#3a3a3a"/><stop offset="0.715" stop-color="#616161"/><stop offset="0.724" stop-color="#6a6a6a"/><stop offset="0.776" stop-color="#747474"/><stop offset="0.791" stop-color="#6e6e6e"/><stop offset="0.800" stop-color="#626262"/><stop offset="0.821" stop-color="#3c3c3c"/><stop offset="0.830" stop-color="#333333"/><stop offset="0.839" stop-color="#2f2f2f"/><stop offset="1.000" stop-color="#2c2c2c"/></linearGradient><linearGradient id="h25"><stop offset="0.000" stop-color="#2c2c2c"/><stop offset="0.142" stop-color="#2c2c2c"/><stop offset="0.185" stop-color="#303030"/><stop offset="0.212" stop-color="#3c3c3c"/><stop offset="0.258" stop-color="#626262"/><stop offset="0.276" stop-color="#696969"/><stop offset="0.294" stop-color="#646464"/><stop offset="0.336" stop-color="#3f3f3f"/><stop offset="0.361" stop-color="#333333"/><stop offset="0.397" stop-color="#2d2d2d"/><stop offset="0.445" stop-color="#303030"/><stop offset="0.467" stop-color="#393939"/><stop offset="0.482" stop-color="#474747"/><stop offset="0.497" stop-color="#5f5f5f"/><stop offset="0.530" stop-color="#a0a0a0"/><stop offset="0.539" stop-color="#ababab"/><stop offset="0.548" stop-color="#afafaf"/><stop offset="0.558" stop-color="#acacac"/><stop offset="0.567" stop-color="#a2a2a2"/><stop offset="0.576" stop-color="#929292"/><stop offset="0.600" stop-color="#616161"/><stop offset="0.615" stop-color="#494949"/><stop offset="0.630" stop-color="#3b3b3b"/><stop offset="0.648" stop-color="#323232"/><stop offset="0.673" stop-color="#2f2f2f"/><stop offset="0.688" stop-color="#343434"/><stop offset="0.697" stop-color="#404040"/><stop offset="0.715" stop-color="#646464"/><stop offset="0.727" stop-color="#707070"/><stop offset="0.758" stop-color="#727272"/><stop offset="0.779" stop-color="#787878"/><stop offset="0.788" stop-color="#757575"/><stop offset="0.794" stop-color="#6f6f6f"/><stop offset="0.821" stop-color="#3e3e3e"/><stop offset="0.830" stop-color="#343434"/><stop offset="0.839" stop-color="#2f2f2f"/><stop offset="1.000" stop-color="#2c2c2c"/></linearGradient><linearGradient id="h26"><stop offset="0.000" stop-color="#2c2c2c"/><stop offset="0.142" stop-color="#2c2c2c"/><stop offset="0.185" stop-color="#313131"/><stop offset="0.209" stop-color="#3b3b3b"/><stop offset="0.258" stop-color="#676767"/><stop offset="0.276" stop-color="#6e6e6e"/><stop offset="0.294" stop-color="#686868"/><stop offset="0.336" stop-color="#414141"/><stop offset="0.361" stop-color="#333333"/><stop offset="0.397" stop-color="#2d2d2d"/><stop offset="0.445" stop-color="#303030"/><stop offset="0.467" stop-color="#393939"/><stop offset="0.482" stop-color="#474747"/><stop offset="0.497" stop-color="#5d5d5d"/><stop offset="0.530" stop-color="#9c9c9c"/><stop offset="0.539" stop-color="#a7a7a7"/><stop offset="0.548" stop-color="#ababab"/><stop offset="0.558" stop-color="#a8a8a8"/><stop offset="0.567" stop-color="#9e9e9e"/><stop offset="0.576" stop-color="#8f8f8f"/><stop offset="0.600" stop-color="#606060"/><stop offset="0.615" stop-color="#494949"/><stop offset="0.630" stop-color="#3a3a3a"/><stop offset="0.648" stop-color="#323232"/><stop offset="0.673" stop-color="#2f2f2f"/><stop offset="0.688" stop-color="#343434"/><stop offset="0.697" stop-color="#414141"/><stop offset="0.715" stop-color="#686868"/><stop offset="0.721" stop-color="#707070"/><stop offset="0.727" stop-color="#757575"/><stop offset="0.758" stop-color="#767676"/><stop offset="0.779" stop-color="#7c7c7c"/><stop offset="0.788" stop-color="#797979"/><stop offset="0.794" stop-color="#737373"/><stop offset="0.821" stop-color="#3f3f3f"/><stop offset="0.830" stop-color="#353535"/><stop offset="0.839" stop-color="#303030"/><stop offset="0.870" stop-color="#2d2d2d"/><stop offset="1.000" stop-color="#2c2c2c"/></linearGradient><linearGradient id="h27"><stop offset="0.000" stop-color="#2c2c2c"/><stop offset="0.139" stop-color="#2c2c2c"/><stop offset="0.182" stop-color="#313131"/><stop offset="0.209" stop-color="#3d3d3d"/><stop offset="0.258" stop-color="#6b6b6b"/><stop offset="0.276" stop-color="#737373"/><stop offset="0.294" stop-color="#6c6c6c"/><stop offset="0.336" stop-color="#434343"/><stop offset="0.361" stop-color="#343434"/><stop offset="0.397" stop-color="#2d2d2d"/><stop offset="0.445" stop-color="#303030"/><stop offset="0.467" stop-color="#393939"/><stop offset="0.482" stop-color="#464646"/><stop offset="0.497" stop-color="#5c5c5c"/><stop offset="0.530" stop-color="#999999"/><stop offset="0.539" stop-color="#a3a3a3"/><stop offset="0.548" stop-color="#a7a7a7"/><stop offset="0.558" stop-color="#a4a4a4"/><stop offset="0.567" stop-color="#9b9b9b"/><stop offset="0.576" stop-color="#8d8d8d"/><stop offset="0.600" stop-color="#5f5f5f"/><stop offset="0.615" stop-color="#494949"/><stop offset="0.630" stop-color="#3a3a3a"/><stop offset="0.648" stop-color="#323232"/><stop offset="0.676" stop-color="#2f2f2f"/><stop offset="0.688" stop-color="#353535"/><stop offset="0.697" stop-color="#424242"/><stop offset="0.715" stop-color="#6b6b6b"/><stop offset="0.721" stop-color="#747474"/><stop offset="0.727" stop-color="#797979"/><stop offset="0.758" stop-color="#7a7a7a"/><stop offset="0.779" stop-color="#808080"/><stop offset="0.788" stop-color="#7d7d7d"/><stop offset="0.794" stop-color="#777777"/><stop offset="0.821" stop-color="#414141"/><stop offset="0.830" stop-color="#353535"/><stop offset="0.839" stop-color="#303030"/><stop offset="0.870" stop-color="#2d2d2d"/><stop offset="1.000" stop-color="#2c2c2c"/></linearGradient><linearGradient id="h28"><stop offset="0.000" stop-color="#2c2c2c"/><stop offset="0.139" stop-color="#2c2c2c"/><stop offset="0.182" stop-color="#313131"/><stop offset="0.209" stop-color="#3e3e3e"/><stop offset="0.255" stop-color="#6d6d6d"/><stop offset="0.267" stop-color="#757575"/><stop offset="0.276" stop-color="#777777"/><stop offset="0.294" stop-color="#707070"/><stop offset="0.336" stop-color="#444444"/><stop offset="0.361" stop-color="#353535"/><stop offset="0.397" stop-color="#2e2e2e"/><stop offset="0.445" stop-color="#303030"/><stop offset="0.467" stop-color="#393939"/><stop offset="0.482" stop-color="#464646"/><stop offset="0.497" stop-color="#5b5b5b"/><stop offset="0.530" stop-color="#969696"/><stop offset="0.539" stop-color="#a0a0a0"/><stop offset="0.548" stop-color="#a4a4a4"/><stop offset="0.558" stop-color="#a2a2a2"/><stop offset="0.570" stop-color="#949494"/><stop offset="0.600" stop-color="#5e5e5e"/><stop offset="0.615" stop-color="#484848"/><stop offset="0.630" stop-color="#3a3a3a"/><stop offset="0.648" stop-color="#323232"/><stop offset="0.676" stop-color="#2f2f2f"/><stop offset="0.688" stop-color="#353535"/><stop offset="0.697" stop-color="#434343"/><stop offset="0.715" stop-color="#6e6e6e"/><stop offset="0.721" stop-color="#777777"/><stop offset="0.727" stop-color="#7c7c7c"/><stop offset="0.758" stop-color="#7d7d7d"/><stop offset="0.779" stop-color="#838383"/><stop offset="0.788" stop-color="#808080"/><stop offset="0.794" stop-color="#7a7a7a"/><stop offset="0.800" stop-color="#6f6f6f"/><stop offset="0.821" stop-color="#424242"/><stop offset="0.830" stop-color="#363636"/><stop offset="0.839" stop-color="#303030"/><stop offset="0.870" stop-color="#2d2d2d"/><stop offset="1.000" stop-color="#2c2c2c"/></linearGradient><linearGradient id="h29"><stop offset="0.000" stop-color="#2c2c2c"/><stop offset="0.139" stop-color="#2c2c2c"/><stop offset="0.182" stop-color="#323232"/><stop offset="0.209" stop-color="#404040"/><stop offset="0.255" stop-color="#727272"/><stop offset="0.267" stop-color="#7a7a7a"/><stop offset="0.276" stop-color="#7c7c7c"/><stop offset="0.294" stop-color="#757575"/><stop offset="0.336" stop-color="#464646"/><stop offset="0.361" stop-color="#353535"/><stop offset="0.397" stop-color="#2e2e2e"/><stop offset="0.445" stop-color="#303030"/><stop offset="0.467" stop-color="#383838"/><stop offset="0.482" stop-color="#464646"/><stop offset="0.497" stop-color="#5b5b5b"/><stop offset="0.530" stop-color="#949494"/><stop offset="0.539" stop-color="#9e9e9e"/><stop offset="0.548" stop-color="#a2a2a2"/><stop offset="0.558" stop-color="#9f9f9f"/><stop offset="0.570" stop-color="#929292"/><stop offset="0.600" stop-color="#5d5d5d"/><stop offset="0.615" stop-color="#484848"/><stop offset="0.630" stop-color="#3a3a3a"/><stop offset="0.648" stop-color="#323232"/><stop offset="0.676" stop-color="#2f2f2f"/><stop offset="0.688" stop-color="#353535"/><stop offset="0.697" stop-color="#444444"/><stop offset="0.715" stop-color="#707070"/><stop offset="0.721" stop-color="#7a7a7a"/><stop offset="0.727" stop-color="#7f7f7f"/><stop offset="0.758" stop-color="#7f7f7f"/><stop offset="0.779" stop-color="#858585"/><stop offset="0.788" stop-color="#838383"/><stop offset="0.794" stop-color="#7c7c7c"/><stop offset="0.800" stop-color="#727272"/><stop offset="0.821" stop-color="#434343"/><stop offset="0.830" stop-color="#363636"/><stop offset="0.839" stop-color="#303030"/><stop offset="0.867" stop-color="#2d2d2d"/><stop offset="1.000" stop-color="#2c2c2c"/></linearGradient><linearGradient id="h30"><stop offset="0.000" stop-color="#2c2c2c"/><stop offset="0.139" stop-color="#2d2d2d"/><stop offset="0.182" stop-color="#323232"/><stop offset="0.197" stop-color="#393939"/><stop offset="0.212" stop-color="#454545"/><stop offset="0.258" stop-color="#797979"/><stop offset="0.267" stop-color="#7f7f7f"/><stop offset="0.276" stop-color="#818181"/><stop offset="0.294" stop-color="#797979"/><stop offset="0.336" stop-color="#474747"/><stop offset="0.361" stop-color="#363636"/><stop offset="0.397" stop-color="#2e2e2e"/><stop offset="0.445" stop-color="#303030"/><stop offset="0.467" stop-color="#383838"/><stop offset="0.482" stop-color="#454545"/><stop offset="0.497" stop-color="#5a5a5a"/><stop offset="0.530" stop-color="#939393"/><stop offset="0.539" stop-color="#9c9c9c"/><stop offset="0.548" stop-color="#a0a0a0"/><stop offset="0.558" stop-color="#9d9d9d"/><stop offset="0.570" stop-color="#919191"/><stop offset="0.600" stop-color="#5c5c5c"/><stop offset="0.615" stop-color="#474747"/><stop offset="0.630" stop-color="#3a3a3a"/><stop offset="0.648" stop-color="#323232"/><stop offset="0.676" stop-color="#2f2f2f"/><stop offset="0.688" stop-color="#363636"/><stop offset="0.697" stop-color="#444444"/><stop offset="0.715" stop-color="#727272"/><stop offset="0.721" stop-color="#7c7c7c"/><stop offset="0.727" stop-color="#818181"/><stop offset="0.758" stop-color="#818181"/><stop offset="0.779" stop-color="#888888"/><stop offset="0.788" stop-color="#858585"/><stop offset="0.794" stop-color="#7f7f7f"/><stop offset="0.800" stop-color="#747474"/><stop offset="0.821" stop-color="#444444"/><stop offset="0.830" stop-color="#373737"/><stop offset="0.839" stop-color="#303030"/><stop offset="0.867" stop-color="#2d2d2d"/><stop offset="1.000" stop-color="#2c2c2c"/></linearGradient><linearGradient id="h31"><stop offset="0.000" stop-color="#2c2c2c"/><stop offset="0.136" stop-color="#2d2d2d"/><stop offset="0.179" stop-color="#323232"/><stop offset="0.206" stop-color="#414141"/><stop offset="0.221" stop-color="#515151"/><stop offset="0.255" stop-color="#7b7b7b"/><stop offset="0.267" stop-color="#848484"/><stop offset="0.276" stop-color="#868686"/><stop offset="0.285" stop-color="#848484"/><stop offset="0.294" stop-color="#7d7d7d"/><stop offset="0.336" stop-color="#494949"/><stop offset="0.361" stop-color="#363636"/><stop offset="0.394" stop-color="#2e2e2e"/><stop offset="0.445" stop-color="#303030"/><stop offset="0.467" stop-color="#383838"/><stop offset="0.482" stop-color="#454545"/><stop offset="0.497" stop-color="#595959"/><stop offset="0.530" stop-color="#919191"/><stop offset="0.539" stop-color="#9a9a9a"/><stop offset="0.548" stop-color="#9e9e9e"/><stop offset="0.558" stop-color="#9b9b9b"/><stop offset="0.570" stop-color="#8f8f8f"/><stop offset="0.600" stop-color="#5c5c5c"/><stop offset="0.615" stop-color="#474747"/><stop offset="0.630" stop-color="#393939"/><stop offset="0.648" stop-color="#323232"/><stop offset="0.676" stop-color="#2f2f2f"/><stop offset="0.688" stop-color="#363636"/><stop offset="0.697" stop-color="#454545"/><stop offset="0.715" stop-color="#747474"/><stop offset="0.721" stop-color="#7e7e7e"/><stop offset="0.727" stop-color="#848484"/><stop offset="0.742" stop-color="#868686"/><stop offset="0.758" stop-color="#848484"/><stop offset="0.779" stop-color="#8b8b8b"/><stop offset="0.788" stop-color="#888888"/><stop offset="0.794" stop-color="#828282"/><stop offset="0.800" stop-color="#777777"/><stop offset="0.821" stop-color="#454545"/><stop offset="0.830" stop-color="#373737"/><stop offset="0.839" stop-color="#313131"/><stop offset="0.867" stop-color="#2d2d2d"/><stop offset="1.000" stop-color="#2c2c2c"/></linearGradient><linearGradient id="h32"><stop offset="0.000" stop-color="#2c2c2c"/><stop offset="0.136" stop-color="#2d2d2d"/><stop offset="0.179" stop-color="#333333"/><stop offset="0.194" stop-color="#3a3a3a"/><stop offset="0.209" stop-color="#464646"/><stop offset="0.258" stop-color="#848484"/><stop offset="0.267" stop-color="#8a8a8a"/><stop offset="0.276" stop-color="#8c8c8c"/><stop offset="0.285" stop-color="#898989"/><stop offset="0.294" stop-color="#818181"/><stop offset="0.336" stop-color="#4a4a4a"/><stop offset="0.361" stop-color="#373737"/><stop offset="0.394" stop-color="#2e2e2e"/><stop offset="0.445" stop-color="#303030"/><stop offset="0.467" stop-color="#383838"/><stop offset="0.482" stop-color="#444444"/><stop offset="0.497" stop-color="#585858"/><stop offset="0.530" stop-color="#8e8e8e"/><stop offset="0.539" stop-color="#989898"/><stop offset="0.548" stop-color="#9b9b9b"/><stop offset="0.558" stop-color="#999999"/><stop offset="0.570" stop-color="#8c8c8c"/><stop offset="0.600" stop-color="#5a5a5a"/><stop offset="0.615" stop-color="#464646"/><stop offset="0.630" stop-color="#393939"/><stop offset="0.648" stop-color="#323232"/><stop offset="0.676" stop-color="#2f2f2f"/><stop offset="0.688" stop-color="#363636"/><stop offset="0.697" stop-color="#464646"/><stop offset="0.715" stop-color="#767676"/><stop offset="0.721" stop-color="#818181"/><stop offset="0.727" stop-color="#868686"/><stop offset="0.742" stop-color="#898989"/><stop offset="0.758" stop-color="#868686"/><stop offset="0.779" stop-color="#8e8e8e"/><stop offset="0.788" stop-color="#8c8c8c"/><stop offset="0.794" stop-color="#858585"/><stop offset="0.800" stop-color="#7a7a7a"/><stop offset="0.821" stop-color="#464646"/><stop offset="0.830" stop-color="#383838"/><stop offset="0.839" stop-color="#313131"/><stop offset="0.867" stop-color="#2d2d2d"/><stop offset="1.000" stop-color="#2c2c2c"/></linearGradient><linearGradient id="h33"><stop offset="0.000" stop-color="#2c2c2c"/><stop offset="0.136" stop-color="#2d2d2d"/><stop offset="0.179" stop-color="#333333"/><stop offset="0.194" stop-color="#3b3b3b"/><stop offset="0.206" stop-color="#454545"/><stop offset="0.218" stop-color="#535353"/><stop offset="0.252" stop-color="#818181"/><stop offset="0.264" stop-color="#8c8c8c"/><stop offset="0.273" stop-color="#8f8f8f"/><stop offset="0.282" stop-color="#8d8d8d"/><stop offset="0.294" stop-color="#848484"/><stop offset="0.336" stop-color="#4b4b4b"/><stop offset="0.361" stop-color="#373737"/><stop offset="0.394" stop-color="#2e2e2e"/><stop offset="0.445" stop-color="#303030"/><stop offset="0.467" stop-color="#373737"/><stop offset="0.482" stop-color="#434343"/><stop offset="0.497" stop-color="#575757"/><stop offset="0.530" stop-color="#8b8b8b"/><stop offset="0.539" stop-color="#949494"/><stop offset="0.548" stop-color="#989898"/><stop offset="0.558" stop-color="#959595"/><stop offset="0.570" stop-color="#8a8a8a"/><stop offset="0.600" stop-color="#595959"/><stop offset="0.615" stop-color="#454545"/><stop offset="0.630" stop-color="#393939"/><stop offset="0.648" stop-color="#323232"/><stop offset="0.676" stop-color="#2f2f2f"/><stop offset="0.688" stop-color="#363636"/><stop offset="0.697" stop-color="#474747"/><stop offset="0.715" stop-color="#787878"/><stop offset="0.724" stop-color="#878787"/><stop offset="0.733" stop-color="#8b8b8b"/><stop offset="0.758" stop-color="#898989"/><stop offset="0.779" stop-color="#929292"/><stop offset="0.788" stop-color="#909090"/><stop offset="0.794" stop-color="#898989"/><stop offset="0.800" stop-color="#7d7d7d"/><stop offset="0.818" stop-color="#4e4e4e"/><stop offset="0.824" stop-color="#414141"/><stop offset="0.830" stop-color="#393939"/><stop offset="0.839" stop-color="#313131"/><stop offset="0.867" stop-color="#2d2d2d"/><stop offset="1.000" stop-color="#2c2c2c"/></linearGradient><linearGradient id="h34"><stop offset="0.000" stop-color="#2c2c2c"/><stop offset="0.133" stop-color="#2d2d2d"/><stop offset="0.176" stop-color="#333333"/><stop offset="0.191" stop-color="#3a3a3a"/><stop offset="0.203" stop-color="#444444"/><stop offset="0.218" stop-color="#565656"/><stop offset="0.252" stop-color="#858585"/><stop offset="0.264" stop-color="#909090"/><stop offset="0.273" stop-color="#929292"/><stop offset="0.282" stop-color="#909090"/><stop offset="0.291" stop-color="#898989"/><stop offset="0.336" stop-color="#4c4c4c"/><stop offset="0.361" stop-color="#383838"/><stop offset="0.394" stop-color="#2e2e2e"/><stop offset="0.445" stop-color="#303030"/><stop offset="0.467" stop-color="#373737"/><stop offset="0.482" stop-color="#434343"/><stop offset="0.497" stop-color="#555555"/><stop offset="0.530" stop-color="#888888"/><stop offset="0.539" stop-color="#919191"/><stop offset="0.548" stop-color="#959595"/><stop offset="0.558" stop-color="#929292"/><stop offset="0.567" stop-color="#8a8a8a"/><stop offset="0.606" stop-color="#4f4f4f"/><stop offset="0.624" stop-color="#3c3c3c"/><stop offset="0.645" stop-color="#323232"/><stop offset="0.676" stop-color="#303030"/><stop offset="0.685" stop-color="#343434"/><stop offset="0.694" stop-color="#404040"/><stop offset="0.715" stop-color="#7a7a7a"/><stop offset="0.724" stop-color="#898989"/><stop offset="0.733" stop-color="#8d8d8d"/><stop offset="0.758" stop-color="#8c8c8c"/><stop offset="0.779" stop-color="#969696"/><stop offset="0.788" stop-color="#949494"/><stop offset="0.794" stop-color="#8d8d8d"/><stop offset="0.800" stop-color="#818181"/><stop offset="0.818" stop-color="#505050"/><stop offset="0.824" stop-color="#434343"/><stop offset="0.830" stop-color="#393939"/><stop offset="0.839" stop-color="#323232"/><stop offset="0.867" stop-color="#2d2d2d"/><stop offset="1.000" stop-color="#2c2c2c"/></linearGradient><linearGradient id="h35"><stop offset="0.000" stop-color="#2c2c2c"/><stop offset="0.133" stop-color="#2d2d2d"/><stop offset="0.176" stop-color="#333333"/><stop offset="0.191" stop-color="#3c3c3c"/><stop offset="0.203" stop-color="#464646"/><stop offset="0.218" stop-color="#595959"/><stop offset="0.252" stop-color="#898989"/><stop offset="0.264" stop-color="#939393"/><stop offset="0.273" stop-color="#969696"/><stop offset="0.282" stop-color="#939393"/><stop offset="0.294" stop-color="#898989"/><stop offset="0.330" stop-color="#545454"/><stop offset="0.345" stop-color="#434343"/><stop offset="0.361" stop-color="#383838"/><stop offset="0.379" stop-color="#313131"/><stop offset="0.430" stop-color="#2e2e2e"/><stop offset="0.452" stop-color="#313131"/><stop offset="0.467" stop-color="#373737"/><stop offset="0.479" stop-color="#3f3f3f"/><stop offset="0.491" stop-color="#4c4c4c"/><stop offset="0.530" stop-color="#858585"/><stop offset="0.539" stop-color="#8e8e8e"/><stop offset="0.548" stop-color="#919191"/><stop offset="0.558" stop-color="#8f8f8f"/><stop offset="0.567" stop-color="#878787"/><stop offset="0.606" stop-color="#4e4e4e"/><stop offset="0.624" stop-color="#3c3c3c"/><stop offset="0.645" stop-color="#323232"/><stop offset="0.676" stop-color="#303030"/><stop offset="0.685" stop-color="#343434"/><stop offset="0.694" stop-color="#414141"/><stop offset="0.715" stop-color="#7c7c7c"/><stop offset="0.724" stop-color="#8b8b8b"/><stop offset="0.733" stop-color="#909090"/><stop offset="0.758" stop-color="#8e8e8e"/><stop offset="0.779" stop-color="#9a9a9a"/><stop offset="0.788" stop-color="#989898"/><stop offset="0.794" stop-color="#919191"/><stop offset="0.803" stop-color="#7d7d7d"/><stop offset="0.818" stop-color="#525252"/><stop offset="0.824" stop-color="#444444"/><stop offset="0.830" stop-color="#3a3a3a"/><stop offset="0.839" stop-color="#323232"/><stop offset="0.867" stop-color="#2d2d2d"/><stop offset="1.000" stop-color="#2c2c2c"/></linearGradient><linearGradient id="h36"><stop offset="0.000" stop-color="#2c2c2c"/><stop offset="0.133" stop-color="#2d2d2d"/><stop offset="0.176" stop-color="#343434"/><stop offset="0.191" stop-color="#3d3d3d"/><stop offset="0.206" stop-color="#4b4b4b"/><stop offset="0.255" stop-color="#909090"/><stop offset="0.264" stop-color="#979797"/><stop offset="0.273" stop-color="#999999"/><stop offset="0.282" stop-color="#969696"/><stop offset="0.294" stop-color="#8b8b8b"/><stop offset="0.330" stop-color="#555555"/><stop offset="0.345" stop-color="#444444"/><stop offset="0.361" stop-color="#383838"/><stop offset="0.379" stop-color="#313131"/><stop offset="0.430" stop-color="#2e2e2e"/><stop offset="0.452" stop-color="#313131"/><stop offset="0.467" stop-color="#363636"/><stop offset="0.479" stop-color="#3e3e3e"/><stop offset="0.491" stop-color="#4b4b4b"/><stop offset="0.530" stop-color="#828282"/><stop offset="0.539" stop-color="#8a8a8a"/><stop offset="0.548" stop-color="#8e8e8e"/><stop offset="0.558" stop-color="#8b8b8b"/><stop offset="0.567" stop-color="#848484"/><stop offset="0.606" stop-color="#4d4d4d"/><stop offset="0.624" stop-color="#3b3b3b"/><stop offset="0.645" stop-color="#323232"/><stop offset="0.676" stop-color="#303030"/><stop offset="0.685" stop-color="#343434"/><stop offset="0.694" stop-color="#414141"/><stop offset="0.715" stop-color="#7e7e7e"/><stop offset="0.724" stop-color="#8e8e8e"/><stop offset="0.733" stop-color="#929292"/><stop offset="0.758" stop-color="#919191"/><stop offset="0.779" stop-color="#9e9e9e"/><stop offset="0.788" stop-color="#9c9c9c"/><stop offset="0.794" stop-color="#959595"/><stop offset="0.803" stop-color="#818181"/><stop offset="0.818" stop-color="#545454"/><stop offset="0.824" stop-color="#454545"/><stop offset="0.830" stop-color="#3b3b3b"/><stop offset="0.839" stop-color="#323232"/><stop offset="0.867" stop-color="#2d2d2d"/><stop offset="1.000" stop-color="#2c2c2c"/></linearGradient><linearGradient id="h37"><stop offset="0.000" stop-color="#2c2c2c"/><stop offset="0.130" stop-color="#2d2d2d"/><stop offset="0.173" stop-color="#343434"/><stop offset="0.188" stop-color="#3c3c3c"/><stop offset="0.203" stop-color="#4a4a4a"/><stop offset="0.218" stop-color="#5f5f5f"/><stop offset="0.242" stop-color="#858585"/><stop offset="0.255" stop-color="#949494"/><stop offset="0.264" stop-color="#9b9b9b"/><stop offset="0.273" stop-color="#9d9d9d"/><stop offset="0.282" stop-color="#999999"/><stop offset="0.294" stop-color="#8d8d8d"/><stop offset="0.330" stop-color="#565656"/><stop offset="0.345" stop-color="#444444"/><stop offset="0.361" stop-color="#393939"/><stop offset="0.379" stop-color="#313131"/><stop offset="0.430" stop-color="#2e2e2e"/><stop offset="0.467" stop-color="#363636"/><stop offset="0.491" stop-color="#494949"/><stop offset="0.530" stop-color="#7f7f7f"/><stop offset="0.539" stop-color="#868686"/><stop offset="0.548" stop-color="#898989"/><stop offset="0.558" stop-color="#878787"/><stop offset="0.567" stop-color="#808080"/><stop offset="0.606" stop-color="#4c4c4c"/><stop offset="0.624" stop-color="#3b3b3b"/><stop offset="0.645" stop-color="#323232"/><stop offset="0.676" stop-color="#303030"/><stop offset="0.685" stop-color="#343434"/><stop offset="0.694" stop-color="#424242"/><stop offset="0.715" stop-color="#818181"/><stop offset="0.724" stop-color="#919191"/><stop offset="0.733" stop-color="#959595"/><stop offset="0.758" stop-color="#949494"/><stop offset="0.773" stop-color="#a1a1a1"/><stop offset="0.779" stop-color="#a3a3a3"/><stop offset="0.788" stop-color="#a1a1a1"/><stop offset="0.794" stop-color="#9a9a9a"/><stop offset="0.803" stop-color="#858585"/><stop offset="0.818" stop-color="#565656"/><stop offset="0.824" stop-color="#474747"/><stop offset="0.830" stop-color="#3c3c3c"/><stop offset="0.839" stop-color="#333333"/><stop offset="0.867" stop-color="#2d2d2d"/><stop offset="1.000" stop-color="#2c2c2c"/></linearGradient><linearGradient id="h38"><stop offset="0.000" stop-color="#2c2c2c"/><stop offset="0.130" stop-color="#2d2d2d"/><stop offset="0.155" stop-color="#2f2f2f"/><stop offset="0.173" stop-color="#353535"/><stop offset="0.188" stop-color="#3e3e3e"/><stop offset="0.200" stop-color="#4a4a4a"/><stop offset="0.215" stop-color="#5e5e5e"/><stop offset="0.248" stop-color="#929292"/><stop offset="0.261" stop-color="#9e9e9e"/><stop offset="0.270" stop-color="#a1a1a1"/><stop offset="0.279" stop-color="#9f9f9f"/><stop offset="0.291" stop-color="#949494"/><stop offset="0.330" stop-color="#575757"/><stop offset="0.345" stop-color="#454545"/><stop offset="0.361" stop-color="#393939"/><stop offset="0.379" stop-color="#313131"/><stop offset="0.430" stop-color="#2e2e2e"/><stop offset="0.467" stop-color="#353535"/><stop offset="0.491" stop-color="#484848"/><stop offset="0.530" stop-color="#7a7a7a"/><stop offset="0.539" stop-color="#828282"/><stop offset="0.548" stop-color="#858585"/><stop offset="0.558" stop-color="#838383"/><stop offset="0.567" stop-color="#7c7c7c"/><stop offset="0.606" stop-color="#4a4a4a"/><stop offset="0.624" stop-color="#3a3a3a"/><stop offset="0.648" stop-color="#313131"/><stop offset="0.676" stop-color="#303030"/><stop offset="0.685" stop-color="#343434"/><stop offset="0.694" stop-color="#434343"/><stop offset="0.715" stop-color="#838383"/><stop offset="0.724" stop-color="#949494"/><stop offset="0.733" stop-color="#989898"/><stop offset="0.758" stop-color="#979797"/><stop offset="0.773" stop-color="#a6a6a6"/><stop offset="0.782" stop-color="#a8a8a8"/><stop offset="0.791" stop-color="#a3a3a3"/><stop offset="0.797" stop-color="#999999"/><stop offset="0.803" stop-color="#8a8a8a"/><stop offset="0.818" stop-color="#595959"/><stop offset="0.824" stop-color="#494949"/><stop offset="0.833" stop-color="#393939"/><stop offset="0.842" stop-color="#313131"/><stop offset="0.873" stop-color="#2d2d2d"/><stop offset="1.000" stop-color="#2c2c2c"/></linearGradient><linearGradient id="h39"><stop offset="0.000" stop-color="#2c2c2c"/><stop offset="0.127" stop-color="#2d2d2d"/><stop offset="0.170" stop-color="#343434"/><stop offset="0.185" stop-color="#3d3d3d"/><stop offset="0.200" stop-color="#4c4c4c"/><stop offset="0.215" stop-color="#616161"/><stop offset="0.239" stop-color="#898989"/><stop offset="0.252" stop-color="#999999"/><stop offset="0.261" stop-color="#a1a1a1"/><stop offset="0.270" stop-color="#a3a3a3"/><stop offset="0.279" stop-color="#a0a0a0"/><stop offset="0.291" stop-color="#949494"/><stop offset="0.327" stop-color="#5b5b5b"/><stop offset="0.342" stop-color="#474747"/><stop offset="0.358" stop-color="#3a3a3a"/><stop offset="0.376" stop-color="#323232"/><stop offset="0.427" stop-color="#2d2d2d"/><stop offset="0.467" stop-color="#353535"/><stop offset="0.491" stop-color="#464646"/><stop offset="0.530" stop-color="#767676"/><stop offset="0.539" stop-color="#7d7d7d"/><stop offset="0.548" stop-color="#808080"/><stop offset="0.558" stop-color="#7e7e7e"/><stop offset="0.567" stop-color="#787878"/><stop offset="0.606" stop-color="#484848"/><stop offset="0.624" stop-color="#393939"/><stop offset="0.648" stop-color="#313131"/><stop offset="0.676" stop-color="#303030"/><stop offset="0.685" stop-color="#343434"/><stop offset="0.694" stop-color="#434343"/><stop offset="0.715" stop-color="#848484"/><stop offset="0.724" stop-color="#959595"/><stop offset="0.733" stop-color="#999999"/><stop offset="0.758" stop-color="#999999"/><stop offset="0.773" stop-color="#aaaaaa"/><stop offset="0.782" stop-color="#adadad"/><stop offset="0.791" stop-color="#a8a8a8"/><stop offset="0.797" stop-color="#9e9e9e"/><stop offset="0.803" stop-color="#8e8e8e"/><stop offset="0.818" stop-color="#5b5b5b"/><stop offset="0.824" stop-color="#4a4a4a"/><stop offset="0.833" stop-color="#393939"/><stop offset="0.842" stop-color="#323232"/><stop offset="0.873" stop-color="#2d2d2d"/><stop offset="1.000" stop-color="#2c2c2c"/></linearGradient><linearGradient id="h40"><stop offset="0.000" stop-color="#2c2c2c"/><stop offset="0.127" stop-color="#2d2d2d"/><stop offset="0.152" stop-color="#303030"/><stop offset="0.170" stop-color="#353535"/><stop offset="0.185" stop-color="#3f3f3f"/><stop offset="0.197" stop-color="#4b4b4b"/><stop offset="0.212" stop-color="#5f5f5f"/><stop offset="0.245" stop-color="#959595"/><stop offset="0.258" stop-color="#a1a1a1"/><stop offset="0.267" stop-color="#a5a5a5"/><stop offset="0.276" stop-color="#a3a3a3"/><stop offset="0.288" stop-color="#989898"/><stop offset="0.327" stop-color="#595959"/><stop offset="0.342" stop-color="#464646"/><stop offset="0.358" stop-color="#3a3a3a"/><stop offset="0.376" stop-color="#323232"/><stop offset="0.427" stop-color="#2d2d2d"/><stop offset="0.467" stop-color="#343434"/><stop offset="0.491" stop-color="#454545"/><stop offset="0.530" stop-color="#727272"/><stop offset="0.539" stop-color="#797979"/><stop offset="0.548" stop-color="#7b7b7b"/><stop offset="0.558" stop-color="#7a7a7a"/><stop offset="0.567" stop-color="#747474"/><stop offset="0.606" stop-color="#474747"/><stop offset="0.624" stop-color="#393939"/><stop offset="0.648" stop-color="#313131"/><stop offset="0.676" stop-color="#303030"/><stop offset="0.685" stop-color="#353535"/><stop offset="0.694" stop-color="#434343"/><stop offset="0.715" stop-color="#858585"/><stop offset="0.724" stop-color="#959595"/><stop offset="0.733" stop-color="#9a9a9a"/><stop offset="0.755" stop-color="#9a9a9a"/><stop offset="0.761" stop-color="#9e9e9e"/><stop offset="0.773" stop-color="#afafaf"/><stop offset="0.782" stop-color="#b2b2b2"/><stop offset="0.791" stop-color="#adadad"/><stop offset="0.797" stop-color="#a3a3a3"/><stop offset="0.803" stop-color="#929292"/><stop offset="0.818" stop-color="#5c5c5c"/><stop offset="0.824" stop-color="#4b4b4b"/><stop offset="0.830" stop-color="#3e3e3e"/><stop offset="0.839" stop-color="#333333"/><stop offset="0.848" stop-color="#2f2f2f"/><stop offset="0.867" stop-color="#2e2e2e"/><stop offset="1.000" stop-color="#2c2c2c"/></linearGradient><linearGradient id="h41"><stop offset="0.000" stop-color="#2c2c2c"/><stop offset="0.127" stop-color="#2d2d2d"/><stop offset="0.152" stop-color="#303030"/><stop offset="0.170" stop-color="#363636"/><stop offset="0.185" stop-color="#404040"/><stop offset="0.200" stop-color="#505050"/><stop offset="0.236" stop-color="#8b8b8b"/><stop offset="0.248" stop-color="#9b9b9b"/><stop offset="0.258" stop-color="#a3a3a3"/><stop offset="0.267" stop-color="#a6a6a6"/><stop offset="0.276" stop-color="#a3a3a3"/><stop offset="0.288" stop-color="#989898"/><stop offset="0.324" stop-color="#5d5d5d"/><stop offset="0.342" stop-color="#454545"/><stop offset="0.358" stop-color="#393939"/><stop offset="0.376" stop-color="#313131"/><stop offset="0.427" stop-color="#2d2d2d"/><stop offset="0.467" stop-color="#343434"/><stop offset="0.491" stop-color="#444444"/><stop offset="0.530" stop-color="#6f6f6f"/><stop offset="0.548" stop-color="#787878"/><stop offset="0.567" stop-color="#707070"/><stop offset="0.606" stop-color="#464646"/><stop offset="0.624" stop-color="#383838"/><stop offset="0.648" stop-color="#313131"/><stop offset="0.676" stop-color="#303030"/><stop offset="0.685" stop-color="#353535"/><stop offset="0.694" stop-color="#434343"/><stop offset="0.715" stop-color="#858585"/><stop offset="0.724" stop-color="#959595"/><stop offset="0.733" stop-color="#9a9a9a"/><stop offset="0.755" stop-color="#9b9b9b"/><stop offset="0.761" stop-color="#a1a1a1"/><stop offset="0.773" stop-color="#b4b4b4"/><stop offset="0.782" stop-color="#b7b7b7"/><stop offset="0.791" stop-color="#b3b3b3"/><stop offset="0.797" stop-color="#a7a7a7"/><stop offset="0.803" stop-color="#969696"/><stop offset="0.818" stop-color="#5e5e5e"/><stop offset="0.824" stop-color="#4b4b4b"/><stop offset="0.830" stop-color="#3e3e3e"/><stop offset="0.839" stop-color="#343434"/><stop offset="0.848" stop-color="#303030"/><stop offset="0.867" stop-color="#2e2e2e"/><stop offset="1.000" stop-color="#2c2c2c"/></linearGradient><linearGradient id="h42"><stop offset="0.000" stop-color="#2c2c2c"/><stop offset="0.124" stop-color="#2d2d2d"/><stop offset="0.148" stop-color="#2f2f2f"/><stop offset="0.167" stop-color="#353535"/><stop offset="0.182" stop-color="#3e3e3e"/><stop offset="0.197" stop-color="#4d4d4d"/><stop offset="0.212" stop-color="#636363"/><stop offset="0.236" stop-color="#8c8c8c"/><stop offset="0.248" stop-color="#9d9d9d"/><stop offset="0.258" stop-color="#a5a5a5"/><stop offset="0.267" stop-color="#a7a7a7"/><stop offset="0.276" stop-color="#a4a4a4"/><stop offset="0.288" stop-color="#979797"/><stop offset="0.324" stop-color="#5c5c5c"/><stop offset="0.339" stop-color="#484848"/><stop offset="0.355" stop-color="#3b3b3b"/><stop offset="0.373" stop-color="#323232"/><stop offset="0.424" stop-color="#2d2d2d"/><stop offset="0.467" stop-color="#343434"/><stop offset="0.491" stop-color="#434343"/><stop offset="0.530" stop-color="#6d6d6d"/><stop offset="0.548" stop-color="#767676"/><stop offset="0.567" stop-color="#6e6e6e"/><stop offset="0.606" stop-color="#454545"/><stop offset="0.624" stop-color="#383838"/><stop offset="0.648" stop-color="#303030"/><stop offset="0.676" stop-color="#303030"/><stop offset="0.685" stop-color="#353535"/><stop offset="0.694" stop-color="#434343"/><stop offset="0.715" stop-color="#858585"/><stop offset="0.724" stop-color="#969696"/><stop offset="0.733" stop-color="#9b9b9b"/><stop offset="0.755" stop-color="#9c9c9c"/><stop offset="0.761" stop-color="#a3a3a3"/><stop offset="0.773" stop-color="#b8b8b8"/><stop offset="0.782" stop-color="#bcbcbc"/><stop offset="0.791" stop-color="#b7b7b7"/><stop offset="0.797" stop-color="#ababab"/><stop offset="0.803" stop-color="#999999"/><stop offset="0.818" stop-color="#5f5f5f"/><stop offset="0.824" stop-color="#4c4c4c"/><stop offset="0.830" stop-color="#3f3f3f"/><stop offset="0.839" stop-color="#343434"/><stop offset="0.848" stop-color="#303030"/><stop offset="0.867" stop-color="#2e2e2e"/><stop offset="1.000" stop-color="#2c2c2c"/></linearGradient><linearGradient id="h43"><stop offset="0.000" stop-color="#2c2c2c"/><stop offset="0.124" stop-color="#2d2d2d"/><stop offset="0.148" stop-color="#303030"/><stop offset="0.167" stop-color="#353535"/><stop offset="0.182" stop-color="#3f3f3f"/><stop offset="0.194" stop-color="#4b4b4b"/><stop offset="0.209" stop-color="#606060"/><stop offset="0.242" stop-color="#979797"/><stop offset="0.255" stop-color="#a4a4a4"/><stop offset="0.264" stop-color="#a8a8a8"/><stop offset="0.273" stop-color="#a6a6a6"/><stop offset="0.285" stop-color="#9b9b9b"/><stop offset="0.297" stop-color="#8a8a8a"/><stop offset="0.324" stop-color="#5b5b5b"/><stop offset="0.339" stop-color="#484848"/><stop offset="0.355" stop-color="#3a3a3a"/><stop offset="0.373" stop-color="#323232"/><stop offset="0.424" stop-color="#2d2d2d"/><stop offset="0.467" stop-color="#333333"/><stop offset="0.491" stop-color="#424242"/><stop offset="0.530" stop-color="#6b6b6b"/><stop offset="0.548" stop-color="#737373"/><stop offset="0.567" stop-color="#6c6c6c"/><stop offset="0.606" stop-color="#444444"/><stop offset="0.624" stop-color="#383838"/><stop offset="0.648" stop-color="#303030"/><stop offset="0.676" stop-color="#303030"/><stop offset="0.685" stop-color="#353535"/><stop offset="0.694" stop-color="#444444"/><stop offset="0.700" stop-color="#545454"/><stop offset="0.712" stop-color="#7d7d7d"/><stop offset="0.721" stop-color="#929292"/><stop offset="0.730" stop-color="#9a9a9a"/><stop offset="0.755" stop-color="#9d9d9d"/><stop offset="0.773" stop-color="#bcbcbc"/><stop offset="0.782" stop-color="#c0c0c0"/><stop offset="0.791" stop-color="#bbbbbb"/><stop offset="0.797" stop-color="#afafaf"/><stop offset="0.803" stop-color="#9c9c9c"/><stop offset="0.818" stop-color="#616161"/><stop offset="0.824" stop-color="#4d4d4d"/><stop offset="0.830" stop-color="#3f3f3f"/><stop offset="0.839" stop-color="#343434"/><stop offset="0.848" stop-color="#303030"/><stop offset="0.867" stop-color="#2e2e2e"/><stop offset="1.000" stop-color="#2c2c2c"/></linearGradient><linearGradient id="h44"><stop offset="0.000" stop-color="#2c2c2c"/><stop offset="0.124" stop-color="#2d2d2d"/><stop offset="0.148" stop-color="#303030"/><stop offset="0.167" stop-color="#363636"/><stop offset="0.182" stop-color="#404040"/><stop offset="0.194" stop-color="#4c4c4c"/><stop offset="0.209" stop-color="#626262"/><stop offset="0.242" stop-color="#999999"/><stop offset="0.255" stop-color="#a5a5a5"/><stop offset="0.264" stop-color="#a9a9a9"/><stop offset="0.273" stop-color="#a6a6a6"/><stop offset="0.285" stop-color="#9b9b9b"/><stop offset="0.324" stop-color="#5b5b5b"/><stop offset="0.339" stop-color="#474747"/><stop offset="0.355" stop-color="#3a3a3a"/><stop offset="0.373" stop-color="#323232"/><stop offset="0.424" stop-color="#2d2d2d"/><stop offset="0.467" stop-color="#333333"/><stop offset="0.491" stop-color="#424242"/><stop offset="0.530" stop-color="#696969"/><stop offset="0.548" stop-color="#717171"/><stop offset="0.567" stop-color="#6a6a6a"/><stop offset="0.606" stop-color="#434343"/><stop offset="0.624" stop-color="#373737"/><stop offset="0.648" stop-color="#303030"/><stop offset="0.676" stop-color="#303030"/><stop offset="0.685" stop-color="#353535"/><stop offset="0.694" stop-color="#444444"/><stop offset="0.700" stop-color="#555555"/><stop offset="0.712" stop-color="#7d7d7d"/><stop offset="0.721" stop-color="#929292"/><stop offset="0.730" stop-color="#9a9a9a"/><stop offset="0.755" stop-color="#9e9e9e"/><stop offset="0.773" stop-color="#c0c0c0"/><stop offset="0.782" stop-color="#c4c4c4"/><stop offset="0.791" stop-color="#bfbfbf"/><stop offset="0.797" stop-color="#b3b3b3"/><stop offset="0.803" stop-color="#a0a0a0"/><stop offset="0.818" stop-color="#626262"/><stop offset="0.824" stop-color="#4e4e4e"/><stop offset="0.830" stop-color="#3f3f3f"/><stop offset="0.839" stop-color="#343434"/><stop offset="0.848" stop-color="#303030"/><stop offset="0.867" stop-color="#2e2e2e"/><stop offset="1.000" stop-color="#2c2c2c"/></linearGradient><linearGradient id="h45"><stop offset="0.000" stop-color="#2c2c2c"/><stop offset="0.124" stop-color="#2d2d2d"/><stop offset="0.148" stop-color="#303030"/><stop offset="0.167" stop-color="#363636"/><stop offset="0.182" stop-color="#414141"/><stop offset="0.197" stop-color="#525252"/><stop offset="0.233" stop-color="#8e8e8e"/><stop offset="0.245" stop-color="#9f9f9f"/><stop offset="0.255" stop-color="#a7a7a7"/><stop offset="0.264" stop-color="#aaaaaa"/><stop offset="0.273" stop-color="#a7a7a7"/><stop offset="0.285" stop-color="#9b9b9b"/><stop offset="0.321" stop-color="#5e5e5e"/><stop offset="0.336" stop-color="#494949"/><stop offset="0.355" stop-color="#393939"/><stop offset="0.373" stop-color="#313131"/><stop offset="0.424" stop-color="#2d2d2d"/><stop offset="0.467" stop-color="#333333"/><stop offset="0.491" stop-color="#414141"/><stop offset="0.530" stop-color="#666666"/><stop offset="0.548" stop-color="#6d6d6d"/><stop offset="0.567" stop-color="#676767"/><stop offset="0.606" stop-color="#424242"/><stop offset="0.624" stop-color="#373737"/><stop offset="0.648" stop-color="#303030"/><stop offset="0.676" stop-color="#303030"/><stop offset="0.685" stop-color="#353535"/><stop offset="0.694" stop-color="#444444"/><stop offset="0.700" stop-color="#555555"/><stop offset="0.712" stop-color="#7d7d7d"/><stop offset="0.721" stop-color="#939393"/><stop offset="0.730" stop-color="#9b9b9b"/><stop offset="0.755" stop-color="#9e9e9e"/><stop offset="0.773" stop-color="#c4c4c4"/><stop offset="0.782" stop-color="#c9c9c9"/><stop offset="0.791" stop-color="#c4c4c4"/><stop offset="0.797" stop-color="#b7b7b7"/><stop offset="0.803" stop-color="#a3a3a3"/><stop offset="0.818" stop-color="#636363"/><stop offset="0.824" stop-color="#4e4e4e"/><stop offset="0.830" stop-color="#404040"/><stop offset="0.839" stop-color="#343434"/><stop offset="0.848" stop-color="#303030"/><stop offset="0.867" stop-color="#2e2e2e"/><stop offset="1.000" stop-color="#2c2c2c"/></linearGradient><linearGradient id="h46"><stop offset="0.000" stop-color="#2c2c2c"/><stop offset="0.121" stop-color="#2d2d2d"/><stop offset="0.145" stop-color="#303030"/><stop offset="0.164" stop-color="#363636"/><stop offset="0.179" stop-color="#404040"/><stop offset="0.191" stop-color="#4d4d4d"/><stop offset="0.206" stop-color="#636363"/><stop offset="0.239" stop-color="#9b9b9b"/><stop offset="0.252" stop-color="#a8a8a8"/><stop offset="0.261" stop-color="#acacac"/><stop offset="0.270" stop-color="#aaaaaa"/><stop offset="0.282" stop-color="#9e9e9e"/><stop offset="0.321" stop-color="#5d5d5d"/><stop offset="0.336" stop-color="#484848"/><stop offset="0.352" stop-color="#3b3b3b"/><stop offset="0.370" stop-color="#323232"/><stop offset="0.421" stop-color="#2d2d2d"/><stop offset="0.467" stop-color="#323232"/><stop offset="0.491" stop-color="#3f3f3f"/><stop offset="0.530" stop-color="#626262"/><stop offset="0.548" stop-color="#6a6a6a"/><stop offset="0.567" stop-color="#636363"/><stop offset="0.606" stop-color="#414141"/><stop offset="0.624" stop-color="#363636"/><stop offset="0.648" stop-color="#303030"/><stop offset="0.676" stop-color="#303030"/><stop offset="0.685" stop-color="#353535"/><stop offset="0.694" stop-color="#444444"/><stop offset="0.700" stop-color="#555555"/><stop offset="0.712" stop-color="#7e7e7e"/><stop offset="0.721" stop-color="#939393"/><stop offset="0.730" stop-color="#9b9b9b"/><stop offset="0.755" stop-color="#9f9f9f"/><stop offset="0.758" stop-color="#a3a3a3"/><stop offset="0.773" stop-color="#c7c7c7"/><stop offset="0.782" stop-color="#cdcdcd"/><stop offset="0.791" stop-color="#c8c8c8"/><stop offset="0.797" stop-color="#bbbbbb"/><stop offset="0.803" stop-color="#a6a6a6"/><stop offset="0.818" stop-color="#646464"/><stop offset="0.824" stop-color="#4f4f4f"/><stop offset="0.830" stop-color="#404040"/><stop offset="0.839" stop-color="#343434"/><stop offset="0.848" stop-color="#303030"/><stop offset="0.867" stop-color="#2e2e2e"/><stop offset="1.000" stop-color="#2c2c2c"/></linearGradient><linearGradient id="h47"><stop offset="0.000" stop-color="#2c2c2c"/><stop offset="0.121" stop-color="#2d2d2d"/><stop offset="0.161" stop-color="#353535"/><stop offset="0.176" stop-color="#3f3f3f"/><stop offset="0.191" stop-color="#505050"/><stop offset="0.206" stop-color="#676767"/><stop offset="0.230" stop-color="#929292"/><stop offset="0.242" stop-color="#a3a3a3"/><stop offset="0.252" stop-color="#ababab"/><stop offset="0.261" stop-color="#aeaeae"/><stop offset="0.270" stop-color="#ababab"/><stop offset="0.282" stop-color="#9e9e9e"/><stop offset="0.318" stop-color="#5f5f5f"/><stop offset="0.333" stop-color="#4a4a4a"/><stop offset="0.352" stop-color="#3a3a3a"/><stop offset="0.370" stop-color="#323232"/><stop offset="0.421" stop-color="#2d2d2d"/><stop offset="0.467" stop-color="#323232"/><stop offset="0.491" stop-color="#3e3e3e"/><stop offset="0.530" stop-color="#5f5f5f"/><stop offset="0.548" stop-color="#666666"/><stop offset="0.567" stop-color="#606060"/><stop offset="0.606" stop-color="#404040"/><stop offset="0.624" stop-color="#363636"/><stop offset="0.648" stop-color="#303030"/><stop offset="0.676" stop-color="#303030"/><stop offset="0.685" stop-color="#353535"/><stop offset="0.694" stop-color="#444444"/><stop offset="0.700" stop-color="#555555"/><stop offset="0.712" stop-color="#7e7e7e"/><stop offset="0.721" stop-color="#939393"/><stop offset="0.730" stop-color="#9c9c9c"/><stop offset="0.755" stop-color="#9f9f9f"/><stop offset="0.758" stop-color="#a4a4a4"/><stop offset="0.773" stop-color="#cacaca"/><stop offset="0.782" stop-color="#d1d1d1"/><stop offset="0.791" stop-color="#cccccc"/><stop offset="0.797" stop-color="#bfbfbf"/><stop offset="0.803" stop-color="#aaaaaa"/><stop offset="0.818" stop-color="#656565"/><stop offset="0.824" stop-color="#4f4f4f"/><stop offset="0.830" stop-color="#404040"/><stop offset="0.839" stop-color="#343434"/><stop offset="0.848" stop-color="#303030"/><stop offset="0.867" stop-color="#2e2e2e"/><stop offset="1.000" stop-color="#2c2c2c"/></linearGradient><linearGradient id="h48"><stop offset="0.000" stop-color="#2c2c2c"/><stop offset="0.121" stop-color="#2d2d2d"/><stop offset="0.142" stop-color="#303030"/><stop offset="0.161" stop-color="#373737"/><stop offset="0.176" stop-color="#414141"/><stop offset="0.191" stop-color="#535353"/><stop offset="0.203" stop-color="#666666"/><stop offset="0.227" stop-color="#929292"/><stop offset="0.239" stop-color="#a4a4a4"/><stop offset="0.248" stop-color="#adadad"/><stop offset="0.258" stop-color="#b0b0b0"/><stop offset="0.267" stop-color="#adadad"/><stop offset="0.279" stop-color="#a1a1a1"/><stop offset="0.318" stop-color="#5d5d5d"/><stop offset="0.333" stop-color="#484848"/><stop offset="0.348" stop-color="#3b3b3b"/><stop offset="0.367" stop-color="#323232"/><stop offset="0.412" stop-color="#2d2d2d"/><stop offset="0.464" stop-color="#313131"/><stop offset="0.491" stop-color="#3d3d3d"/><stop offset="0.533" stop-color="#5d5d5d"/><stop offset="0.548" stop-color="#626262"/><stop offset="0.567" stop-color="#5c5c5c"/><stop offset="0.603" stop-color="#404040"/><stop offset="0.624" stop-color="#353535"/><stop offset="0.648" stop-color="#303030"/><stop offset="0.676" stop-color="#303030"/><stop offset="0.685" stop-color="#353535"/><stop offset="0.694" stop-color="#444444"/><stop offset="0.700" stop-color="#565656"/><stop offset="0.712" stop-color="#7f7f7f"/><stop offset="0.721" stop-color="#949494"/><stop offset="0.730" stop-color="#9d9d9d"/><stop offset="0.755" stop-color="#9f9f9f"/><stop offset="0.761" stop-color="#ababab"/><stop offset="0.773" stop-color="#cbcbcb"/><stop offset="0.782" stop-color="#d1d1d1"/><stop offset="0.791" stop-color="#cdcdcd"/><stop offset="0.797" stop-color="#bfbfbf"/><stop offset="0.803" stop-color="#a9a9a9"/><stop offset="0.818" stop-color="#646464"/><stop offset="0.824" stop-color="#4e4e4e"/><stop offset="0.830" stop-color="#3f3f3f"/><stop offset="0.839" stop-color="#343434"/><stop offset="0.848" stop-color="#303030"/><stop offset="0.870" stop-color="#2e2e2e"/><stop offset="1.000" stop-color="#2c2c2c"/></linearGradient><linearGradient id="h49"><stop offset="0.000" stop-color="#2c2c2c"/><stop offset="0.118" stop-color="#2d2d2d"/><stop offset="0.139" stop-color="#303030"/><stop offset="0.158" stop-color="#363636"/><stop offset="0.173" stop-color="#414141"/><stop offset="0.188" stop-color="#525252"/><stop offset="0.236" stop-color="#a4a4a4"/><stop offset="0.248" stop-color="#afafaf"/><stop offset="0.258" stop-color="#b2b2b2"/><stop offset="0.267" stop-color="#aeaeae"/><stop offset="0.279" stop-color="#a0a0a0"/><stop offset="0.315" stop-color="#606060"/><stop offset="0.330" stop-color="#4a4a4a"/><stop offset="0.348" stop-color="#3a3a3a"/><stop offset="0.367" stop-color="#323232"/><stop offset="0.415" stop-color="#2d2d2d"/><stop offset="0.467" stop-color="#313131"/><stop offset="0.491" stop-color="#3b3b3b"/><stop offset="0.533" stop-color="#5a5a5a"/><stop offset="0.548" stop-color="#5e5e5e"/><stop offset="0.567" stop-color="#595959"/><stop offset="0.603" stop-color="#3f3f3f"/><stop offset="0.621" stop-color="#353535"/><stop offset="0.645" stop-color="#303030"/><stop offset="0.676" stop-color="#303030"/><stop offset="0.685" stop-color="#353535"/><stop offset="0.694" stop-color="#454545"/><stop offset="0.700" stop-color="#565656"/><stop offset="0.712" stop-color="#808080"/><stop offset="0.721" stop-color="#969696"/><stop offset="0.730" stop-color="#9e9e9e"/><stop offset="0.755" stop-color="#9f9f9f"/><stop offset="0.761" stop-color="#a9a9a9"/><stop offset="0.773" stop-color="#cacaca"/><stop offset="0.782" stop-color="#d1d1d1"/><stop offset="0.791" stop-color="#cccccc"/><stop offset="0.797" stop-color="#bfbfbf"/><stop offset="0.803" stop-color="#a8a8a8"/><stop offset="0.818" stop-color="#626262"/><stop offset="0.824" stop-color="#4d4d4d"/><stop offset="0.830" stop-color="#3e3e3e"/><stop offset="0.839" stop-color="#333333"/><stop offset="0.848" stop-color="#303030"/><stop offset="0.873" stop-color="#2e2e2e"/><stop offset="1.000" stop-color="#2c2c2c"/></linearGradient><linearGradient id="h50"><stop offset="0.000" stop-color="#2c2c2c"/><stop offset="0.118" stop-color="#2d2d2d"/><stop offset="0.139" stop-color="#303030"/><stop offset="0.158" stop-color="#373737"/><stop offset="0.173" stop-color="#424242"/><stop offset="0.188" stop-color="#555555"/><stop offset="0.224" stop-color="#959595"/><stop offset="0.236" stop-color="#a7a7a7"/><stop offset="0.245" stop-color="#b0b0b0"/><stop offset="0.255" stop-color="#b3b3b3"/><stop offset="0.264" stop-color="#b0b0b0"/><stop offset="0.276" stop-color="#a4a4a4"/><stop offset="0.315" stop-color="#5e5e5e"/><stop offset="0.330" stop-color="#494949"/><stop offset="0.345" stop-color="#3b3b3b"/><stop offset="0.364" stop-color="#323232"/><stop offset="0.406" stop-color="#2d2d2d"/><stop offset="0.464" stop-color="#303030"/><stop offset="0.488" stop-color="#393939"/><stop offset="0.530" stop-color="#555555"/><stop offset="0.548" stop-color="#5a5a5a"/><stop offset="0.567" stop-color="#565656"/><stop offset="0.603" stop-color="#3d3d3d"/><stop offset="0.621" stop-color="#353535"/><stop offset="0.645" stop-color="#303030"/><stop offset="0.676" stop-color="#303030"/><stop offset="0.685" stop-color="#353535"/><stop offset="0.694" stop-color="#454545"/><stop offset="0.700" stop-color="#565656"/><stop offset="0.712" stop-color="#808080"/><stop offset="0.721" stop-color="#979797"/><stop offset="0.727" stop-color="#9e9e9e"/><stop offset="0.733" stop-color="#a0a0a0"/><stop offset="0.755" stop-color="#9e9e9e"/><stop offset="0.761" stop-color="#a7a7a7"/><stop offset="0.773" stop-color="#c7c7c7"/><stop offset="0.782" stop-color="#cecece"/><stop offset="0.791" stop-color="#cacaca"/><stop offset="0.797" stop-color="#bcbcbc"/><stop offset="0.803" stop-color="#a6a6a6"/><stop offset="0.815" stop-color="#6d6d6d"/><stop offset="0.821" stop-color="#555555"/><stop offset="0.830" stop-color="#3d3d3d"/><stop offset="0.839" stop-color="#333333"/><stop offset="0.873" stop-color="#2e2e2e"/><stop offset="1.000" stop-color="#2c2c2c"/></linearGradient><linearGradient id="h51"><stop offset="0.000" stop-color="#2c2c2c"/><stop offset="0.115" stop-color="#2d2d2d"/><stop offset="0.136" stop-color="#303030"/><stop offset="0.155" stop-color="#363636"/><stop offset="0.170" stop-color="#414141"/><stop offset="0.185" stop-color="#535353"/><stop offset="0.233" stop-color="#a7a7a7"/><stop offset="0.245" stop-color="#b3b3b3"/><stop offset="0.255" stop-color="#b5b5b5"/><stop offset="0.264" stop-color="#b1b1b1"/><stop offset="0.276" stop-color="#a3a3a3"/><stop offset="0.312" stop-color="#626262"/><stop offset="0.327" stop-color="#4b4b4b"/><stop offset="0.345" stop-color="#3a3a3a"/><stop offset="0.364" stop-color="#323232"/><stop offset="0.406" stop-color="#2d2d2d"/><stop offset="0.464" stop-color="#303030"/><stop offset="0.488" stop-color="#383838"/><stop offset="0.530" stop-color="#525252"/><stop offset="0.548" stop-color="#575757"/><stop offset="0.567" stop-color="#535353"/><stop offset="0.603" stop-color="#3c3c3c"/><stop offset="0.621" stop-color="#343434"/><stop offset="0.645" stop-color="#303030"/><stop offset="0.676" stop-color="#303030"/><stop offset="0.685" stop-color="#353535"/><stop offset="0.694" stop-color="#454545"/><stop offset="0.700" stop-color="#575757"/><stop offset="0.712" stop-color="#818181"/><stop offset="0.721" stop-color="#979797"/><stop offset="0.727" stop-color="#9e9e9e"/><stop offset="0.733" stop-color="#a1a1a1"/><stop offset="0.755" stop-color="#9d9d9d"/><stop offset="0.758" stop-color="#9f9f9f"/><stop offset="0.761" stop-color="#a4a4a4"/><stop offset="0.773" stop-color="#c3c3c3"/><stop offset="0.782" stop-color="#cacaca"/><stop offset="0.791" stop-color="#c5c5c5"/><stop offset="0.797" stop-color="#b8b8b8"/><stop offset="0.803" stop-color="#a2a2a2"/><stop offset="0.815" stop-color="#6b6b6b"/><stop offset="0.821" stop-color="#535353"/><stop offset="0.827" stop-color="#424242"/><stop offset="0.836" stop-color="#353535"/><stop offset="0.845" stop-color="#303030"/><stop offset="0.864" stop-color="#2e2e2e"/><stop offset="1.000" stop-color="#2c2c2c"/></linearGradient><linearGradient id="h52"><stop offset="0.000" stop-color="#2c2c2c"/><stop offset="0.115" stop-color="#2d2d2d"/><stop offset="0.136" stop-color="#303030"/><stop offset="0.155" stop-color="#373737"/><stop offset="0.170" stop-color="#434343"/><stop offset="0.185" stop-color="#555555"/><stop offset="0.197" stop-color="#696969"/><stop offset="0.224" stop-color="#9d9d9d"/><stop offset="0.233" stop-color="#ababab"/><stop offset="0.242" stop-color="#b5b5b5"/><stop offset="0.252" stop-color="#b9b9b9"/><stop offset="0.261" stop-color="#b6b6b6"/><stop offset="0.273" stop-color="#aaaaaa"/><stop offset="0.285" stop-color="#969696"/><stop offset="0.312" stop-color="#626262"/><stop offset="0.327" stop-color="#4b4b4b"/><stop offset="0.345" stop-color="#3a3a3a"/><stop offset="0.364" stop-color="#323232"/><stop offset="0.409" stop-color="#2d2d2d"/><stop offset="0.467" stop-color="#303030"/><stop offset="0.491" stop-color="#383838"/><stop offset="0.533" stop-color="#515151"/><stop offset="0.548" stop-color="#545454"/><stop offset="0.567" stop-color="#505050"/><stop offset="0.603" stop-color="#3b3b3b"/><stop offset="0.621" stop-color="#333333"/><stop offset="0.645" stop-color="#2f2f2f"/><stop offset="0.676" stop-color="#303030"/><stop offset="0.685" stop-color="#353535"/><stop offset="0.694" stop-color="#454545"/><stop offset="0.700" stop-color="#575757"/><stop offset="0.712" stop-color="#828282"/><stop offset="0.721" stop-color="#989898"/><stop offset="0.727" stop-color="#9f9f9f"/><stop offset="0.733" stop-color="#a2a2a2"/><stop offset="0.758" stop-color="#9d9d9d"/><stop offset="0.761" stop-color="#a1a1a1"/><stop offset="0.773" stop-color="#bebebe"/><stop offset="0.782" stop-color="#c6c6c6"/><stop offset="0.791" stop-color="#c1c1c1"/><stop offset="0.797" stop-color="#b4b4b4"/><stop offset="0.803" stop-color="#9f9f9f"/><stop offset="0.815" stop-color="#686868"/><stop offset="0.821" stop-color="#515151"/><stop offset="0.827" stop-color="#414141"/><stop offset="0.836" stop-color="#343434"/><stop offset="0.845" stop-color="#303030"/><stop offset="0.864" stop-color="#2e2e2e"/><stop offset="1.000" stop-color="#2c2c2c"/></linearGradient><linearGradient id="h53"><stop offset="0.000" stop-color="#2c2c2c"/><stop offset="0.115" stop-color="#2d2d2d"/><stop offset="0.136" stop-color="#313131"/><stop offset="0.155" stop-color="#383838"/><stop offset="0.170" stop-color="#444444"/><stop offset="0.185" stop-color="#575757"/><stop offset="0.197" stop-color="#6c6c6c"/><stop offset="0.221" stop-color="#9c9c9c"/><stop offset="0.233" stop-color="#b0b0b0"/><stop offset="0.242" stop-color="#b9b9b9"/><stop offset="0.252" stop-color="#bcbcbc"/><stop offset="0.261" stop-color="#b9b9b9"/><stop offset="0.273" stop-color="#acacac"/><stop offset="0.312" stop-color="#626262"/><stop offset="0.327" stop-color="#4b4b4b"/><stop offset="0.342" stop-color="#3c3c3c"/><stop offset="0.361" stop-color="#333333"/><stop offset="0.400" stop-color="#2d2d2d"/><stop offset="0.464" stop-color="#2f2f2f"/><stop offset="0.488" stop-color="#363636"/><stop offset="0.530" stop-color="#4d4d4d"/><stop offset="0.548" stop-color="#515151"/><stop offset="0.567" stop-color="#4d4d4d"/><stop offset="0.603" stop-color="#3a3a3a"/><stop offset="0.621" stop-color="#333333"/><stop offset="0.645" stop-color="#2f2f2f"/><stop offset="0.676" stop-color="#303030"/><stop offset="0.685" stop-color="#353535"/><stop offset="0.694" stop-color="#454545"/><stop offset="0.700" stop-color="#575757"/><stop offset="0.715" stop-color="#8c8c8c"/><stop offset="0.724" stop-color="#9e9e9e"/><stop offset="0.730" stop-color="#a3a3a3"/><stop offset="0.739" stop-color="#a4a4a4"/><stop offset="0.758" stop-color="#9d9d9d"/><stop offset="0.764" stop-color="#a5a5a5"/><stop offset="0.773" stop-color="#bbbbbb"/><stop offset="0.782" stop-color="#c2c2c2"/><stop offset="0.791" stop-color="#bebebe"/><stop offset="0.797" stop-color="#b1b1b1"/><stop offset="0.803" stop-color="#9c9c9c"/><stop offset="0.815" stop-color="#666666"/><stop offset="0.821" stop-color="#4f4f4f"/><stop offset="0.827" stop-color="#3f3f3f"/><stop offset="0.836" stop-color="#343434"/><stop offset="0.845" stop-color="#303030"/><stop offset="0.864" stop-color="#2e2e2e"/><stop offset="1.000" stop-color="#2c2c2c"/></linearGradient><linearGradient id="h54"><stop offset="0.000" stop-color="#2c2c2c"/><stop offset="0.115" stop-color="#2e2e2e"/><stop offset="0.136" stop-color="#313131"/><stop offset="0.155" stop-color="#393939"/><stop offset="0.170" stop-color="#454545"/><stop offset="0.185" stop-color="#595959"/><stop offset="0.221" stop-color="#9f9f9f"/><stop offset="0.233" stop-color="#b3b3b3"/><stop offset="0.242" stop-color="#bcbcbc"/><stop offset="0.252" stop-color="#bfbfbf"/><stop offset="0.261" stop-color="#bcbcbc"/><stop offset="0.273" stop-color="#aeaeae"/><stop offset="0.309" stop-color="#686868"/><stop offset="0.327" stop-color="#4b4b4b"/><stop offset="0.342" stop-color="#3c3c3c"/><stop offset="0.361" stop-color="#333333"/><stop offset="0.400" stop-color="#2d2d2d"/><stop offset="0.464" stop-color="#2f2f2f"/><stop offset="0.488" stop-color="#353535"/><stop offset="0.530" stop-color="#4b4b4b"/><stop offset="0.548" stop-color="#505050"/><stop offset="0.567" stop-color="#4c4c4c"/><stop offset="0.603" stop-color="#393939"/><stop offset="0.621" stop-color="#333333"/><stop offset="0.648" stop-color="#2f2f2f"/><stop offset="0.676" stop-color="#303030"/><stop offset="0.685" stop-color="#353535"/><stop offset="0.694" stop-color="#464646"/><stop offset="0.700" stop-color="#585858"/><stop offset="0.715" stop-color="#8e8e8e"/><stop offset="0.724" stop-color="#a1a1a1"/><stop offset="0.730" stop-color="#a5a5a5"/><stop offset="0.739" stop-color="#a6a6a6"/><stop offset="0.758" stop-color="#a0a0a0"/><stop offset="0.764" stop-color="#aaaaaa"/><stop offset="0.773" stop-color="#c1c1c1"/><stop offset="0.782" stop-color="#c9c9c9"/><stop offset="0.791" stop-color="#c5c5c5"/><stop offset="0.797" stop-color="#b7b7b7"/><stop offset="0.803" stop-color="#a0a0a0"/><stop offset="0.815" stop-color="#676767"/><stop offset="0.821" stop-color="#505050"/><stop offset="0.827" stop-color="#404040"/><stop offset="0.836" stop-color="#343434"/><stop offset="0.845" stop-color="#303030"/><stop offset="0.867" stop-color="#2e2e2e"/><stop offset="1.000" stop-color="#2c2c2c"/></linearGradient><linearGradient id="h55"><stop offset="0.000" stop-color="#2c2c2c"/><stop offset="0.115" stop-color="#2e2e2e"/><stop offset="0.136" stop-color="#313131"/><stop offset="0.155" stop-color="#393939"/><stop offset="0.170" stop-color="#464646"/><stop offset="0.185" stop-color="#5a5a5a"/><stop offset="0.230" stop-color="#b1b1b1"/><stop offset="0.242" stop-color="#bebebe"/><stop offset="0.252" stop-color="#c1c1c1"/><stop offset="0.261" stop-color="#bdbdbd"/><stop offset="0.273" stop-color="#afafaf"/><stop offset="0.309" stop-color="#686868"/><stop offset="0.324" stop-color="#4f4f4f"/><stop offset="0.342" stop-color="#3c3c3c"/><stop offset="0.361" stop-color="#333333"/><stop offset="0.400" stop-color="#2d2d2d"/><stop offset="0.464" stop-color="#2f2f2f"/><stop offset="0.488" stop-color="#353535"/><stop offset="0.530" stop-color="#4a4a4a"/><stop offset="0.548" stop-color="#4f4f4f"/><stop offset="0.567" stop-color="#4b4b4b"/><stop offset="0.621" stop-color="#323232"/><stop offset="0.648" stop-color="#2f2f2f"/><stop offset="0.676" stop-color="#303030"/><stop offset="0.685" stop-color="#363636"/><stop offset="0.694" stop-color="#464646"/><stop offset="0.700" stop-color="#595959"/><stop offset="0.712" stop-color="#868686"/><stop offset="0.721" stop-color="#9e9e9e"/><stop offset="0.727" stop-color="#a5a5a5"/><stop offset="0.733" stop-color="#a8a8a8"/><stop offset="0.742" stop-color="#a8a8a8"/><stop offset="0.758" stop-color="#a3a3a3"/><stop offset="0.761" stop-color="#a7a7a7"/><stop offset="0.773" stop-color="#c8c8c8"/><stop offset="0.776" stop-color="#cdcdcd"/><stop offset="0.782" stop-color="#d1d1d1"/><stop offset="0.791" stop-color="#cccccc"/><stop offset="0.797" stop-color="#bebebe"/><stop offset="0.803" stop-color="#a6a6a6"/><stop offset="0.815" stop-color="#6a6a6a"/><stop offset="0.821" stop-color="#525252"/><stop offset="0.827" stop-color="#414141"/><stop offset="0.836" stop-color="#343434"/><stop offset="0.845" stop-color="#303030"/><stop offset="0.867" stop-color="#2e2e2e"/><stop offset="1.000" stop-color="#2c2c2c"/></linearGradient><linearGradient id="h56"><stop offset="0.000" stop-color="#2c2c2c"/><stop offset="0.112" stop-color="#2d2d2d"/><stop offset="0.133" stop-color="#303030"/><stop offset="0.152" stop-color="#373737"/><stop offset="0.167" stop-color="#434343"/><stop offset="0.182" stop-color="#565656"/><stop offset="0.230" stop-color="#b2b2b2"/><stop offset="0.242" stop-color="#c0c0c0"/><stop offset="0.252" stop-color="#c2c2c2"/><stop offset="0.261" stop-color="#bebebe"/><stop offset="0.273" stop-color="#afafaf"/><stop offset="0.309" stop-color="#686868"/><stop offset="0.324" stop-color="#4f4f4f"/><stop offset="0.342" stop-color="#3c3c3c"/><stop offset="0.361" stop-color="#333333"/><stop offset="0.400" stop-color="#2d2d2d"/><stop offset="0.464" stop-color="#2f2f2f"/><stop offset="0.488" stop-color="#353535"/><stop offset="0.530" stop-color="#494949"/><stop offset="0.548" stop-color="#4e4e4e"/><stop offset="0.567" stop-color="#4a4a4a"/><stop offset="0.621" stop-color="#323232"/><stop offset="0.648" stop-color="#2f2f2f"/><stop offset="0.676" stop-color="#303030"/><stop offset="0.685" stop-color="#363636"/><stop offset="0.694" stop-color="#474747"/><stop offset="0.700" stop-color="#5a5a5a"/><stop offset="0.712" stop-color="#888888"/><stop offset="0.721" stop-color="#a0a0a0"/><stop offset="0.727" stop-color="#a7a7a7"/><stop offset="0.733" stop-color="#aaaaaa"/><stop offset="0.758" stop-color="#a6a6a6"/><stop offset="0.761" stop-color="#ababab"/><stop offset="0.773" stop-color="#cfcfcf"/><stop offset="0.776" stop-color="#d4d4d4"/><stop offset="0.782" stop-color="#d8d8d8"/><stop offset="0.791" stop-color="#d3d3d3"/><stop offset="0.797" stop-color="#c4c4c4"/><stop offset="0.803" stop-color="#ababab"/><stop offset="0.815" stop-color="#6d6d6d"/><stop offset="0.821" stop-color="#535353"/><stop offset="0.827" stop-color="#424242"/><stop offset="0.836" stop-color="#343434"/><stop offset="0.845" stop-color="#303030"/><stop offset="0.867" stop-color="#2e2e2e"/><stop offset="1.000" stop-color="#2c2c2c"/></linearGradient><linearGradient id="h57"><stop offset="0.000" stop-color="#2c2c2c"/><stop offset="0.112" stop-color="#2d2d2d"/><stop offset="0.133" stop-color="#313131"/><stop offset="0.152" stop-color="#383838"/><stop offset="0.167" stop-color="#444444"/><stop offset="0.182" stop-color="#575757"/><stop offset="0.230" stop-color="#b4b4b4"/><stop offset="0.242" stop-color="#c1c1c1"/><stop offset="0.252" stop-color="#c3c3c3"/><stop offset="0.261" stop-color="#bfbfbf"/><stop offset="0.273" stop-color="#b0b0b0"/><stop offset="0.309" stop-color="#686868"/><stop offset="0.324" stop-color="#4f4f4f"/><stop offset="0.342" stop-color="#3c3c3c"/><stop offset="0.361" stop-color="#333333"/><stop offset="0.400" stop-color="#2d2d2d"/><stop offset="0.464" stop-color="#2f2f2f"/><stop offset="0.488" stop-color="#353535"/><stop offset="0.530" stop-color="#494949"/><stop offset="0.548" stop-color="#4d4d4d"/><stop offset="0.567" stop-color="#494949"/><stop offset="0.621" stop-color="#323232"/><stop offset="0.648" stop-color="#2f2f2f"/><stop offset="0.676" stop-color="#313131"/><stop offset="0.685" stop-color="#363636"/><stop offset="0.694" stop-color="#474747"/><stop offset="0.700" stop-color="#5b5b5b"/><stop offset="0.712" stop-color="#898989"/><stop offset="0.721" stop-color="#a1a1a1"/><stop offset="0.727" stop-color="#a9a9a9"/><stop offset="0.733" stop-color="#ababab"/><stop offset="0.742" stop-color="#ababab"/><stop offset="0.755" stop-color="#a7a7a7"/><stop offset="0.758" stop-color="#a9a9a9"/><stop offset="0.761" stop-color="#afafaf"/><stop offset="0.773" stop-color="#d6d6d6"/><stop offset="0.776" stop-color="#dcdcdc"/><stop offset="0.782" stop-color="#e0e0e0"/><stop offset="0.791" stop-color="#dadada"/><stop offset="0.797" stop-color="#cbcbcb"/><stop offset="0.803" stop-color="#b1b1b1"/><stop offset="0.815" stop-color="#707070"/><stop offset="0.821" stop-color="#555555"/><stop offset="0.827" stop-color="#434343"/><stop offset="0.836" stop-color="#353535"/><stop offset="0.845" stop-color="#303030"/><stop offset="0.867" stop-color="#2e2e2e"/><stop offset="1.000" stop-color="#2c2c2c"/></linearGradient><linearGradient id="h58"><stop offset="0.000" stop-color="#2c2c2c"/><stop offset="0.112" stop-color="#2d2d2d"/><stop offset="0.133" stop-color="#313131"/><stop offset="0.152" stop-color="#383838"/><stop offset="0.167" stop-color="#444444"/><stop offset="0.179" stop-color="#545454"/><stop offset="0.194" stop-color="#6e6e6e"/><stop offset="0.227" stop-color="#b1b1b1"/><stop offset="0.239" stop-color="#c0c0c0"/><stop offset="0.248" stop-color="#c5c5c5"/><stop offset="0.258" stop-color="#c2c2c2"/><stop offset="0.270" stop-color="#b5b5b5"/><stop offset="0.282" stop-color="#a0a0a0"/><stop offset="0.309" stop-color="#676767"/><stop offset="0.324" stop-color="#4f4f4f"/><stop offset="0.342" stop-color="#3c3c3c"/><stop offset="0.361" stop-color="#323232"/><stop offset="0.400" stop-color="#2d2d2d"/><stop offset="0.464" stop-color="#2f2f2f"/><stop offset="0.488" stop-color="#343434"/><stop offset="0.530" stop-color="#484848"/><stop offset="0.548" stop-color="#4c4c4c"/><stop offset="0.567" stop-color="#484848"/><stop offset="0.621" stop-color="#323232"/><stop offset="0.648" stop-color="#2f2f2f"/><stop offset="0.676" stop-color="#313131"/><stop offset="0.685" stop-color="#363636"/><stop offset="0.694" stop-color="#484848"/><stop offset="0.700" stop-color="#5b5b5b"/><stop offset="0.712" stop-color="#8a8a8a"/><stop offset="0.721" stop-color="#a3a3a3"/><stop offset="0.727" stop-color="#aaaaaa"/><stop offset="0.733" stop-color="#adadad"/><stop offset="0.755" stop-color="#a9a9a9"/><stop offset="0.758" stop-color="#acacac"/><stop offset="0.761" stop-color="#b3b3b3"/><stop offset="0.773" stop-color="#dddddd"/><stop offset="0.776" stop-color="#e3e3e3"/><stop offset="0.782" stop-color="#e7e7e7"/><stop offset="0.791" stop-color="#e2e2e2"/><stop offset="0.797" stop-color="#d2d2d2"/><stop offset="0.803" stop-color="#b7b7b7"/><stop offset="0.815" stop-color="#737373"/><stop offset="0.821" stop-color="#575757"/><stop offset="0.827" stop-color="#444444"/><stop offset="0.836" stop-color="#353535"/><stop offset="0.845" stop-color="#313131"/><stop offset="0.867" stop-color="#2e2e2e"/><stop offset="1.000" stop-color="#2c2c2c"/></linearGradient><linearGradient id="h59"><stop offset="0.000" stop-color="#2c2c2c"/><stop offset="0.112" stop-color="#2d2d2d"/><stop offset="0.133" stop-color="#313131"/><stop offset="0.152" stop-color="#383838"/><stop offset="0.167" stop-color="#454545"/><stop offset="0.182" stop-color="#595959"/><stop offset="0.194" stop-color="#6f6f6f"/><stop offset="0.221" stop-color="#a8a8a8"/><stop offset="0.230" stop-color="#b7b7b7"/><stop offset="0.239" stop-color="#c2c2c2"/><stop offset="0.248" stop-color="#c6c6c6"/><stop offset="0.258" stop-color="#c3c3c3"/><stop offset="0.270" stop-color="#b6b6b6"/><stop offset="0.282" stop-color="#a0a0a0"/><stop offset="0.309" stop-color="#676767"/><stop offset="0.324" stop-color="#4f4f4f"/><stop offset="0.342" stop-color="#3c3c3c"/><stop offset="0.361" stop-color="#323232"/><stop offset="0.400" stop-color="#2d2d2d"/><stop offset="0.464" stop-color="#2f2f2f"/><stop offset="0.488" stop-color="#343434"/><stop offset="0.530" stop-color="#474747"/><stop offset="0.548" stop-color="#4b4b4b"/><stop offset="0.567" stop-color="#484848"/><stop offset="0.621" stop-color="#323232"/><stop offset="0.648" stop-color="#2f2f2f"/><stop offset="0.676" stop-color="#313131"/><stop offset="0.685" stop-color="#373737"/><stop offset="0.694" stop-color="#484848"/><stop offset="0.700" stop-color="#5c5c5c"/><stop offset="0.712" stop-color="#8b8b8b"/><stop offset="0.721" stop-color="#a4a4a4"/><stop offset="0.727" stop-color="#acacac"/><stop offset="0.733" stop-color="#afafaf"/><stop offset="0.755" stop-color="#acacac"/><stop offset="0.758" stop-color="#afafaf"/><stop offset="0.761" stop-color="#b8b8b8"/><stop offset="0.770" stop-color="#dbdbdb"/><stop offset="0.773" stop-color="#e4e4e4"/><stop offset="0.776" stop-color="#eaeaea"/><stop offset="0.782" stop-color="#efefef"/><stop offset="0.788" stop-color="#ededed"/><stop offset="0.791" stop-color="#e9e9e9"/><stop offset="0.797" stop-color="#d9d9d9"/><stop offset="0.803" stop-color="#bdbdbd"/><stop offset="0.815" stop-color="#767676"/><stop offset="0.821" stop-color="#595959"/><stop offset="0.827" stop-color="#454545"/><stop offset="0.836" stop-color="#363636"/><stop offset="0.845" stop-color="#313131"/><stop offset="0.867" stop-color="#2e2e2e"/><stop offset="1.000" stop-color="#2c2c2c"/></linearGradient><linearGradient id="h60"><stop offset="0.000" stop-color="#2c2c2c"/><stop offset="0.112" stop-color="#2e2e2e"/><stop offset="0.133" stop-color="#313131"/><stop offset="0.152" stop-color="#393939"/><stop offset="0.167" stop-color="#464646"/><stop offset="0.182" stop-color="#5a5a5a"/><stop offset="0.194" stop-color="#717171"/><stop offset="0.218" stop-color="#a4a4a4"/><stop offset="0.230" stop-color="#b9b9b9"/><stop offset="0.239" stop-color="#c3c3c3"/><stop offset="0.248" stop-color="#c7c7c7"/><stop offset="0.258" stop-color="#c4c4c4"/><stop offset="0.270" stop-color="#b7b7b7"/><stop offset="0.282" stop-color="#a0a0a0"/><stop offset="0.309" stop-color="#676767"/><stop offset="0.324" stop-color="#4f4f4f"/><stop offset="0.342" stop-color="#3c3c3c"/><stop offset="0.361" stop-color="#323232"/><stop offset="0.400" stop-color="#2d2d2d"/><stop offset="0.464" stop-color="#2f2f2f"/><stop offset="0.488" stop-color="#343434"/><stop offset="0.530" stop-color="#464646"/><stop offset="0.548" stop-color="#4a4a4a"/><stop offset="0.567" stop-color="#474747"/><stop offset="0.621" stop-color="#323232"/><stop offset="0.648" stop-color="#2f2f2f"/><stop offset="0.676" stop-color="#313131"/><stop offset="0.685" stop-color="#373737"/><stop offset="0.694" stop-color="#484848"/><stop offset="0.700" stop-color="#5d5d5d"/><stop offset="0.712" stop-color="#8d8d8d"/><stop offset="0.721" stop-color="#a6a6a6"/><stop offset="0.727" stop-color="#aeaeae"/><stop offset="0.733" stop-color="#b0b0b0"/><stop offset="0.755" stop-color="#aeaeae"/><stop offset="0.758" stop-color="#b3b3b3"/><stop offset="0.761" stop-color="#bcbcbc"/><stop offset="0.770" stop-color="#e1e1e1"/><stop offset="0.773" stop-color="#ebebeb"/><stop offset="0.776" stop-color="#f1f1f1"/><stop offset="0.782" stop-color="#f6f6f6"/><stop offset="0.788" stop-color="#f5f5f5"/><stop offset="0.791" stop-color="#f1f1f1"/><stop offset="0.797" stop-color="#dfdfdf"/><stop offset="0.803" stop-color="#c2c2c2"/><stop offset="0.815" stop-color="#797979"/><stop offset="0.821" stop-color="#5b5b5b"/><stop offset="0.827" stop-color="#464646"/><stop offset="0.836" stop-color="#363636"/><stop offset="0.845" stop-color="#313131"/><stop offset="0.867" stop-color="#2f2f2f"/><stop offset="1.000" stop-color="#2c2c2c"/></linearGradient><linearGradient id="h61"><stop offset="0.000" stop-color="#2c2c2c"/><stop offset="0.112" stop-color="#2e2e2e"/><stop offset="0.133" stop-color="#313131"/><stop offset="0.152" stop-color="#393939"/><stop offset="0.167" stop-color="#464646"/><stop offset="0.182" stop-color="#5b5b5b"/><stop offset="0.194" stop-color="#727272"/><stop offset="0.218" stop-color="#a5a5a5"/><stop offset="0.230" stop-color="#bababa"/><stop offset="0.239" stop-color="#c5c5c5"/><stop offset="0.248" stop-color="#c8c8c8"/><stop offset="0.258" stop-color="#c5c5c5"/><stop offset="0.270" stop-color="#b7b7b7"/><stop offset="0.282" stop-color="#a0a0a0"/><stop offset="0.309" stop-color="#676767"/><stop offset="0.324" stop-color="#4e4e4e"/><stop offset="0.342" stop-color="#3c3c3c"/><stop offset="0.361" stop-color="#323232"/><stop offset="0.397" stop-color="#2d2d2d"/><stop offset="0.464" stop-color="#2f2f2f"/><stop offset="0.488" stop-color="#333333"/><stop offset="0.530" stop-color="#454545"/><stop offset="0.548" stop-color="#494949"/><stop offset="0.567" stop-color="#464646"/><stop offset="0.621" stop-color="#323232"/><stop offset="0.648" stop-color="#2f2f2f"/><stop offset="0.676" stop-color="#313131"/><stop offset="0.685" stop-color="#373737"/><stop offset="0.694" stop-color="#494949"/><stop offset="0.700" stop-color="#5d5d5d"/><stop offset="0.712" stop-color="#8e8e8e"/><stop offset="0.721" stop-color="#a8a8a8"/><stop offset="0.730" stop-color="#b1b1b1"/><stop offset="0.755" stop-color="#b1b1b1"/><stop offset="0.758" stop-color="#b6b6b6"/><stop offset="0.761" stop-color="#c0c0c0"/><stop offset="0.770" stop-color="#e8e8e8"/><stop offset="0.773" stop-color="#f2f2f2"/><stop offset="0.776" stop-color="#f9f9f9"/><stop offset="0.782" stop-color="#fdfdfd"/><stop offset="0.788" stop-color="#fcfcfc"/><stop offset="0.791" stop-color="#f8f8f8"/><stop offset="0.797" stop-color="#e6e6e6"/><stop offset="0.803" stop-color="#c8c8c8"/><stop offset="0.815" stop-color="#7c7c7c"/><stop offset="0.821" stop-color="#5d5d5d"/><stop offset="0.827" stop-color="#474747"/><stop offset="0.836" stop-color="#363636"/><stop offset="0.845" stop-color="#313131"/><stop offset="0.867" stop-color="#2f2f2f"/><stop offset="1.000" stop-color="#2c2c2c"/></linearGradient><linearGradient id="h62"><stop offset="0.000" stop-color="#2c2c2c"/><stop offset="0.112" stop-color="#2e2e2e"/><stop offset="0.133" stop-color="#313131"/><stop offset="0.152" stop-color="#3a3a3a"/><stop offset="0.167" stop-color="#474747"/><stop offset="0.182" stop-color="#5d5d5d"/><stop offset="0.227" stop-color="#b9b9b9"/><stop offset="0.239" stop-color="#c7c7c7"/><stop offset="0.248" stop-color="#cacaca"/><stop offset="0.258" stop-color="#c6c6c6"/><stop offset="0.270" stop-color="#b7b7b7"/><stop offset="0.306" stop-color="#6c6c6c"/><stop offset="0.324" stop-color="#4e4e4e"/><stop offset="0.339" stop-color="#3e3e3e"/><stop offset="0.358" stop-color="#333333"/><stop offset="0.394" stop-color="#2d2d2d"/><stop offset="0.464" stop-color="#2e2e2e"/><stop offset="0.488" stop-color="#333333"/><stop offset="0.530" stop-color="#434343"/><stop offset="0.548" stop-color="#474747"/><stop offset="0.567" stop-color="#444444"/><stop offset="0.621" stop-color="#313131"/><stop offset="0.676" stop-color="#313131"/><stop offset="0.685" stop-color="#373737"/><stop offset="0.694" stop-color="#4a4a4a"/><stop offset="0.700" stop-color="#5e5e5e"/><stop offset="0.712" stop-color="#909090"/><stop offset="0.721" stop-color="#aaaaaa"/><stop offset="0.730" stop-color="#b4b4b4"/><stop offset="0.755" stop-color="#b4b4b4"/><stop offset="0.758" stop-color="#bababa"/><stop offset="0.761" stop-color="#c4c4c4"/><stop offset="0.770" stop-color="#ededed"/><stop offset="0.773" stop-color="#f8f8f8"/><stop offset="0.776" stop-color="#ffffff"/><stop offset="0.779" stop-color="#ffffff"/><stop offset="0.791" stop-color="#fefefe"/><stop offset="0.794" stop-color="#f7f7f7"/><stop offset="0.797" stop-color="#ececec"/><stop offset="0.803" stop-color="#cdcdcd"/><stop offset="0.815" stop-color="#7f7f7f"/><stop offset="0.821" stop-color="#5f5f5f"/><stop offset="0.827" stop-color="#484848"/><stop offset="0.836" stop-color="#373737"/><stop offset="0.845" stop-color="#313131"/><stop offset="0.864" stop-color="#2f2f2f"/><stop offset="1.000" stop-color="#2c2c2c"/></linearGradient><linearGradient id="h63"><stop offset="0.000" stop-color="#2c2c2c"/><stop offset="0.109" stop-color="#2e2e2e"/><stop offset="0.130" stop-color="#313131"/><stop offset="0.148" stop-color="#393939"/><stop offset="0.164" stop-color="#464646"/><stop offset="0.176" stop-color="#565656"/><stop offset="0.188" stop-color="#6c6c6c"/><stop offset="0.224" stop-color="#b8b8b8"/><stop offset="0.236" stop-color="#c8c8c8"/><stop offset="0.245" stop-color="#cccccc"/><stop offset="0.255" stop-color="#cacaca"/><stop offset="0.267" stop-color="#bcbcbc"/><stop offset="0.279" stop-color="#a6a6a6"/><stop offset="0.306" stop-color="#6b6b6b"/><stop offset="0.324" stop-color="#4d4d4d"/><stop offset="0.339" stop-color="#3d3d3d"/><stop offset="0.358" stop-color="#333333"/><stop offset="0.394" stop-color="#2d2d2d"/><stop offset="0.464" stop-color="#2e2e2e"/><stop offset="0.488" stop-color="#323232"/><stop offset="0.530" stop-color="#414141"/><stop offset="0.548" stop-color="#444444"/><stop offset="0.567" stop-color="#414141"/><stop offset="0.621" stop-color="#313131"/><stop offset="0.676" stop-color="#313131"/><stop offset="0.685" stop-color="#383838"/><stop offset="0.694" stop-color="#4a4a4a"/><stop offset="0.700" stop-color="#606060"/><stop offset="0.712" stop-color="#939393"/><stop offset="0.721" stop-color="#aeaeae"/><stop offset="0.727" stop-color="#b7b7b7"/><stop offset="0.733" stop-color="#bababa"/><stop offset="0.755" stop-color="#b7b7b7"/><stop offset="0.758" stop-color="#bcbcbc"/><stop offset="0.761" stop-color="#c6c6c6"/><stop offset="0.770" stop-color="#efefef"/><stop offset="0.773" stop-color="#f9f9f9"/><stop offset="0.776" stop-color="#ffffff"/><stop offset="0.791" stop-color="#ffffff"/><stop offset="0.794" stop-color="#f9f9f9"/><stop offset="0.797" stop-color="#eeeeee"/><stop offset="0.803" stop-color="#d0d0d0"/><stop offset="0.815" stop-color="#818181"/><stop offset="0.821" stop-color="#606060"/><stop offset="0.827" stop-color="#494949"/><stop offset="0.836" stop-color="#373737"/><stop offset="0.845" stop-color="#313131"/><stop offset="0.864" stop-color="#2f2f2f"/><stop offset="1.000" stop-color="#2c2c2c"/></linearGradient><linearGradient id="h64"><stop offset="0.000" stop-color="#2c2c2c"/><stop offset="0.109" stop-color="#2e2e2e"/><stop offset="0.130" stop-color="#323232"/><stop offset="0.148" stop-color="#3a3a3a"/><stop offset="0.164" stop-color="#484848"/><stop offset="0.179" stop-color="#5e5e5e"/><stop offset="0.191" stop-color="#757575"/><stop offset="0.215" stop-color="#ababab"/><stop offset="0.227" stop-color="#c1c1c1"/><stop offset="0.236" stop-color="#cbcbcb"/><stop offset="0.245" stop-color="#cfcfcf"/><stop offset="0.255" stop-color="#cbcbcb"/><stop offset="0.267" stop-color="#bcbcbc"/><stop offset="0.276" stop-color="#ababab"/><stop offset="0.306" stop-color="#696969"/><stop offset="0.321" stop-color="#505050"/><stop offset="0.339" stop-color="#3c3c3c"/><stop offset="0.358" stop-color="#333333"/><stop offset="0.394" stop-color="#2d2d2d"/><stop offset="0.464" stop-color="#2e2e2e"/><stop offset="0.488" stop-color="#313131"/><stop offset="0.548" stop-color="#414141"/><stop offset="0.621" stop-color="#303030"/><stop offset="0.676" stop-color="#313131"/><stop offset="0.685" stop-color="#383838"/><stop offset="0.694" stop-color="#4b4b4b"/><stop offset="0.700" stop-color="#616161"/><stop offset="0.712" stop-color="#969696"/><stop offset="0.721" stop-color="#b2b2b2"/><stop offset="0.730" stop-color="#bdbdbd"/><stop offset="0.742" stop-color="#bebebe"/><stop offset="0.755" stop-color="#bababa"/><stop offset="0.758" stop-color="#bebebe"/><stop offset="0.761" stop-color="#c7c7c7"/><stop offset="0.770" stop-color="#f0f0f0"/><stop offset="0.773" stop-color="#fbfbfb"/><stop offset="0.776" stop-color="#ffffff"/><stop offset="0.791" stop-color="#ffffff"/><stop offset="0.794" stop-color="#fbfbfb"/><stop offset="0.797" stop-color="#f1f1f1"/><stop offset="0.803" stop-color="#d2d2d2"/><stop offset="0.815" stop-color="#828282"/><stop offset="0.821" stop-color="#616161"/><stop offset="0.827" stop-color="#494949"/><stop offset="0.830" stop-color="#414141"/><stop offset="0.836" stop-color="#373737"/><stop offset="0.845" stop-color="#313131"/><stop offset="0.864" stop-color="#2f2f2f"/><stop offset="1.000" stop-color="#2c2c2c"/></linearGradient><linearGradient id="h65"><stop offset="0.000" stop-color="#2c2c2c"/><stop offset="0.106" stop-color="#2e2e2e"/><stop offset="0.127" stop-color="#313131"/><stop offset="0.145" stop-color="#393939"/><stop offset="0.161" stop-color="#464646"/><stop offset="0.176" stop-color="#5c5c5c"/><stop offset="0.188" stop-color="#737373"/><stop offset="0.215" stop-color="#afafaf"/><stop offset="0.224" stop-color="#c0c0c0"/><stop offset="0.236" stop-color="#cecece"/><stop offset="0.245" stop-color="#d1d1d1"/><stop offset="0.255" stop-color="#cccccc"/><stop offset="0.267" stop-color="#bcbcbc"/><stop offset="0.303" stop-color="#6e6e6e"/><stop offset="0.318" stop-color="#535353"/><stop offset="0.336" stop-color="#3e3e3e"/><stop offset="0.355" stop-color="#333333"/><stop offset="0.391" stop-color="#2d2d2d"/><stop offset="0.461" stop-color="#2e2e2e"/><stop offset="0.488" stop-color="#313131"/><stop offset="0.548" stop-color="#404040"/><stop offset="0.621" stop-color="#303030"/><stop offset="0.676" stop-color="#313131"/><stop offset="0.685" stop-color="#383838"/><stop offset="0.694" stop-color="#4c4c4c"/><stop offset="0.700" stop-color="#636363"/><stop offset="0.712" stop-color="#999999"/><stop offset="0.718" stop-color="#adadad"/><stop offset="0.721" stop-color="#b5b5b5"/><stop offset="0.727" stop-color="#bebebe"/><stop offset="0.733" stop-color="#c1c1c1"/><stop offset="0.742" stop-color="#c1c1c1"/><stop offset="0.755" stop-color="#bcbcbc"/><stop offset="0.758" stop-color="#c0c0c0"/><stop offset="0.761" stop-color="#c9c9c9"/><stop offset="0.770" stop-color="#f1f1f1"/><stop offset="0.773" stop-color="#fcfcfc"/><stop offset="0.776" stop-color="#ffffff"/><stop offset="0.794" stop-color="#fefefe"/><stop offset="0.797" stop-color="#f3f3f3"/><stop offset="0.803" stop-color="#d4d4d4"/><stop offset="0.815" stop-color="#848484"/><stop offset="0.821" stop-color="#626262"/><stop offset="0.827" stop-color="#4a4a4a"/><stop offset="0.830" stop-color="#424242"/><stop offset="0.836" stop-color="#373737"/><stop offset="0.845" stop-color="#313131"/><stop offset="0.864" stop-color="#2f2f2f"/><stop offset="1.000" stop-color="#2c2c2c"/></linearGradient><linearGradient id="h66"><stop offset="0.000" stop-color="#2c2c2c"/><stop offset="0.106" stop-color="#2e2e2e"/><stop offset="0.127" stop-color="#323232"/><stop offset="0.145" stop-color="#3a3a3a"/><stop offset="0.161" stop-color="#484848"/><stop offset="0.176" stop-color="#5e5e5e"/><stop offset="0.188" stop-color="#767676"/><stop offset="0.212" stop-color="#adadad"/><stop offset="0.224" stop-color="#c4c4c4"/><stop offset="0.233" stop-color="#cfcfcf"/><stop offset="0.242" stop-color="#d3d3d3"/><stop offset="0.252" stop-color="#d0d0d0"/><stop offset="0.264" stop-color="#c2c2c2"/><stop offset="0.276" stop-color="#aaaaaa"/><stop offset="0.303" stop-color="#6d6d6d"/><stop offset="0.318" stop-color="#525252"/><stop offset="0.336" stop-color="#3e3e3e"/><stop offset="0.355" stop-color="#333333"/><stop offset="0.391" stop-color="#2d2d2d"/><stop offset="0.461" stop-color="#2e2e2e"/><stop offset="0.488" stop-color="#313131"/><stop offset="0.548" stop-color="#3e3e3e"/><stop offset="0.618" stop-color="#303030"/><stop offset="0.676" stop-color="#313131"/><stop offset="0.685" stop-color="#383838"/><stop offset="0.694" stop-color="#4c4c4c"/><stop offset="0.700" stop-color="#636363"/><stop offset="0.712" stop-color="#9a9a9a"/><stop offset="0.718" stop-color="#afafaf"/><stop offset="0.721" stop-color="#b6b6b6"/><stop offset="0.727" stop-color="#bfbfbf"/><stop offset="0.733" stop-color="#c2c2c2"/><stop offset="0.742" stop-color="#c3c3c3"/><stop offset="0.755" stop-color="#bdbdbd"/><stop offset="0.758" stop-color="#c1c1c1"/><stop offset="0.761" stop-color="#c9c9c9"/><stop offset="0.773" stop-color="#fdfdfd"/><stop offset="0.776" stop-color="#ffffff"/><stop offset="0.794" stop-color="#ffffff"/><stop offset="0.800" stop-color="#e7e7e7"/><stop offset="0.806" stop-color="#c3c3c3"/><stop offset="0.818" stop-color="#737373"/><stop offset="0.824" stop-color="#555555"/><stop offset="0.830" stop-color="#424242"/><stop offset="0.839" stop-color="#353535"/><stop offset="0.852" stop-color="#303030"/><stop offset="0.879" stop-color="#2e2e2e"/><stop offset="1.000" stop-color="#2c2c2c"/></linearGradient><linearGradient id="h67"><stop offset="0.000" stop-color="#2c2c2c"/><stop offset="0.106" stop-color="#2e2e2e"/><stop offset="0.127" stop-color="#323232"/><stop offset="0.145" stop-color="#3b3b3b"/><stop offset="0.161" stop-color="#4a4a4a"/><stop offset="0.176" stop-color="#616161"/><stop offset="0.188" stop-color="#7a7a7a"/><stop offset="0.212" stop-color="#b1b1b1"/><stop offset="0.224" stop-color="#c8c8c8"/><stop offset="0.233" stop-color="#d3d3d3"/><stop offset="0.242" stop-color="#d6d6d6"/><stop offset="0.252" stop-color="#d3d3d3"/><stop offset="0.264" stop-color="#c3c3c3"/><stop offset="0.276" stop-color="#ababab"/><stop offset="0.303" stop-color="#6d6d6d"/><stop offset="0.318" stop-color="#525252"/><stop offset="0.336" stop-color="#3d3d3d"/><stop offset="0.355" stop-color="#333333"/><stop offset="0.391" stop-color="#2d2d2d"/><stop offset="0.461" stop-color="#2d2d2d"/><stop offset="0.491" stop-color="#313131"/><stop offset="0.548" stop-color="#3d3d3d"/><stop offset="0.618" stop-color="#303030"/><stop offset="0.676" stop-color="#313131"/><stop offset="0.685" stop-color="#383838"/><stop offset="0.694" stop-color="#4c4c4c"/><stop offset="0.700" stop-color="#636363"/><stop offset="0.712" stop-color="#9b9b9b"/><stop offset="0.718" stop-color="#b0b0b0"/><stop offset="0.721" stop-color="#b8b8b8"/><stop offset="0.727" stop-color="#c1c1c1"/><stop offset="0.733" stop-color="#c4c4c4"/><stop offset="0.742" stop-color="#c4c4c4"/><stop offset="0.755" stop-color="#bebebe"/><stop offset="0.758" stop-color="#c1c1c1"/><stop offset="0.761" stop-color="#cacaca"/><stop offset="0.773" stop-color="#fefefe"/><stop offset="0.776" stop-color="#ffffff"/><stop offset="0.794" stop-color="#ffffff"/><stop offset="0.797" stop-color="#f6f6f6"/><stop offset="0.803" stop-color="#d7d7d7"/><stop offset="0.815" stop-color="#868686"/><stop offset="0.821" stop-color="#636363"/><stop offset="0.824" stop-color="#565656"/><stop offset="0.830" stop-color="#424242"/><stop offset="0.839" stop-color="#353535"/><stop offset="0.852" stop-color="#303030"/><stop offset="0.879" stop-color="#2e2e2e"/><stop offset="1.000" stop-color="#2c2c2c"/></linearGradient><linearGradient id="h68"><stop offset="0.000" stop-color="#2c2c2c"/><stop offset="0.103" stop-color="#2e2e2e"/><stop offset="0.124" stop-color="#313131"/><stop offset="0.142" stop-color="#3a3a3a"/><stop offset="0.158" stop-color="#484848"/><stop offset="0.173" stop-color="#5e5e5e"/><stop offset="0.185" stop-color="#767676"/><stop offset="0.212" stop-color="#b6b6b6"/><stop offset="0.221" stop-color="#c8c8c8"/><stop offset="0.233" stop-color="#d7d7d7"/><stop offset="0.242" stop-color="#dadada"/><stop offset="0.252" stop-color="#d5d5d5"/><stop offset="0.264" stop-color="#c5c5c5"/><stop offset="0.273" stop-color="#b2b2b2"/><stop offset="0.300" stop-color="#737373"/><stop offset="0.318" stop-color="#515151"/><stop offset="0.333" stop-color="#404040"/><stop offset="0.352" stop-color="#343434"/><stop offset="0.385" stop-color="#2d2d2d"/><stop offset="0.455" stop-color="#2d2d2d"/><stop offset="0.488" stop-color="#303030"/><stop offset="0.552" stop-color="#3c3c3c"/><stop offset="0.618" stop-color="#303030"/><stop offset="0.676" stop-color="#313131"/><stop offset="0.685" stop-color="#383838"/><stop offset="0.694" stop-color="#4d4d4d"/><stop offset="0.700" stop-color="#646464"/><stop offset="0.712" stop-color="#9c9c9c"/><stop offset="0.718" stop-color="#b1b1b1"/><stop offset="0.721" stop-color="#b9b9b9"/><stop offset="0.727" stop-color="#c2c2c2"/><stop offset="0.733" stop-color="#c5c5c5"/><stop offset="0.742" stop-color="#c5c5c5"/><stop offset="0.755" stop-color="#bfbfbf"/><stop offset="0.758" stop-color="#c2c2c2"/><stop offset="0.761" stop-color="#cbcbcb"/><stop offset="0.770" stop-color="#f4f4f4"/><stop offset="0.773" stop-color="#ffffff"/><stop offset="0.776" stop-color="#ffffff"/><stop offset="0.794" stop-color="#ffffff"/><stop offset="0.797" stop-color="#f8f8f8"/><stop offset="0.803" stop-color="#d9d9d9"/><stop offset="0.815" stop-color="#878787"/><stop offset="0.821" stop-color="#646464"/><stop offset="0.824" stop-color="#565656"/><stop offset="0.830" stop-color="#434343"/><stop offset="0.839" stop-color="#353535"/><stop offset="0.852" stop-color="#303030"/><stop offset="0.879" stop-color="#2e2e2e"/><stop offset="1.000" stop-color="#2c2c2c"/></linearGradient><linearGradient id="h69"><stop offset="0.000" stop-color="#2c2c2c"/><stop offset="0.103" stop-color="#2e2e2e"/><stop offset="0.124" stop-color="#323232"/><stop offset="0.142" stop-color="#3b3b3b"/><stop offset="0.158" stop-color="#494949"/><stop offset="0.170" stop-color="#5b5b5b"/><stop offset="0.182" stop-color="#727272"/><stop offset="0.218" stop-color="#c6c6c6"/><stop offset="0.230" stop-color="#d7d7d7"/><stop offset="0.239" stop-color="#dcdcdc"/><stop offset="0.252" stop-color="#d7d7d7"/><stop offset="0.264" stop-color="#c6c6c6"/><stop offset="0.300" stop-color="#727272"/><stop offset="0.318" stop-color="#515151"/><stop offset="0.333" stop-color="#3f3f3f"/><stop offset="0.352" stop-color="#343434"/><stop offset="0.385" stop-color="#2d2d2d"/><stop offset="0.455" stop-color="#2d2d2d"/><stop offset="0.488" stop-color="#303030"/><stop offset="0.552" stop-color="#3b3b3b"/><stop offset="0.618" stop-color="#303030"/><stop offset="0.676" stop-color="#313131"/><stop offset="0.685" stop-color="#383838"/><stop offset="0.694" stop-color="#4d4d4d"/><stop offset="0.700" stop-color="#646464"/><stop offset="0.712" stop-color="#9c9c9c"/><stop offset="0.718" stop-color="#b2b2b2"/><stop offset="0.721" stop-color="#bababa"/><stop offset="0.727" stop-color="#c3c3c3"/><stop offset="0.733" stop-color="#c6c6c6"/><stop offset="0.742" stop-color="#c6c6c6"/><stop offset="0.755" stop-color="#c0c0c0"/><stop offset="0.758" stop-color="#c3c3c3"/><stop offset="0.761" stop-color="#cbcbcb"/><stop offset="0.770" stop-color="#f5f5f5"/><stop offset="0.773" stop-color="#ffffff"/><stop offset="0.794" stop-color="#ffffff"/><stop offset="0.797" stop-color="#f9f9f9"/><stop offset="0.803" stop-color="#dadada"/><stop offset="0.815" stop-color="#888888"/><stop offset="0.821" stop-color="#656565"/><stop offset="0.824" stop-color="#575757"/><stop offset="0.830" stop-color="#434343"/><stop offset="0.839" stop-color="#353535"/><stop offset="0.852" stop-color="#303030"/><stop offset="0.879" stop-color="#2e2e2e"/><stop offset="1.000" stop-color="#2c2c2c"/></linearGradient><linearGradient id="skw"><stop offset="0" stop-color="#fff" stop-opacity="0"/><stop offset="0.5" stop-color="#fff"/><stop offset="1" stop-color="#fff" stop-opacity="0"/></linearGradient><linearGradient id="skb"><stop offset="0" stop-color="#000" stop-opacity="0"/><stop offset="0.5" stop-color="#000"/><stop offset="1" stop-color="#000" stop-opacity="0"/></linearGradient><filter id="cm" x="142.25" y="426.6" width="331.35" height="295.70" filterUnits="userSpaceOnUse" color-interpolation-filters="sRGB"><feComponentTransfer><feFuncR type="table" tableValues="0.569 0.543 0.517 0.491 0.465 0.439 0.413 0.387 0.361 0.340 0.326 0.312 0.298 0.284 0.271 0.257 0.237 0.212 0.188 0.164 0.144 0.126 0.108 0.090 0.072 0.057 0.045 0.034 0.022 0.011 0.000 0.000 0.000 0.000 0.000 0.000 0.000 0.000 0.000 0.000 0.000 0.000 0.000 0.000 0.000 0.000 0.000 0.000 0.000 0.000 0.000 0.000 0.000 0.000 0.000 0.033 0.125 0.218 0.310 0.402 0.494 0.580 0.646 0.711 0.777 0.842 0.895 0.947 0.999 1.000 1.000 1.000 1.000 1.000 1.000 1.000 1.000 1.000 1.000 1.000 1.000 1.000 1.000 1.000 1.000 1.000 1.000 1.000 1.000 1.000 1.000 1.000 1.000 1.000 1.000 1.000"/><feFuncG type="table" tableValues="0.000 0.000 0.000 0.000 0.000 0.000 0.000 0.000 0.000 0.002 0.006 0.011 0.016 0.020 0.025 0.029 0.065 0.122 0.179 0.235 0.268 0.293 0.317 0.341 0.365 0.394 0.429 0.463 0.498 0.533 0.568 0.610 0.652 0.694 0.736 0.778 0.817 0.855 0.893 0.931 0.969 0.999 0.992 0.985 0.978 0.971 0.965 0.958 0.951 0.944 0.941 0.941 0.941 0.941 0.941 0.941 0.941 0.941 0.941 0.941 0.941 0.941 0.941 0.941 0.941 0.941 0.931 0.921 0.910 0.857 0.803 0.748 0.694 0.640 0.602 0.569 0.536 0.502 0.469 0.436 0.401 0.367 0.332 0.297 0.268 0.244 0.219 0.194 0.170 0.145 0.120 0.096 0.072 0.048 0.024 0.000"/><feFuncB type="table" tableValues="1.000 1.000 1.000 1.000 1.000 1.000 1.000 1.000 1.000 1.000 1.000 1.000 1.000 1.000 1.000 1.000 1.000 1.000 1.000 1.000 1.000 1.000 1.000 1.000 1.000 1.000 1.000 1.000 1.000 1.000 1.000 1.000 1.000 1.000 1.000 1.000 1.000 1.000 1.000 1.000 1.000 0.988 0.923 0.858 0.792 0.727 0.662 0.597 0.532 0.467 0.391 0.307 0.223 0.138 0.054 0.000 0.000 0.000 0.000 0.000 0.000 0.000 0.000 0.000 0.000 0.000 0.000 0.000 0.000 0.000 0.000 0.000 0.000 0.000 0.000 0.000 0.000 0.000 0.000 0.000 0.000 0.000 0.000 0.000 0.000 0.000 0.000 0.000 0.000 0.000 0.000 0.000 0.000 0.000 0.000 0.000"/></feComponentTransfer></filter><linearGradient id="cbar" x1="0" y1="0" x2="0" y2="1"><stop offset="-0.0026" stop-color="#ff0000"/><stop offset="0.0144" stop-color="#ff0a00"/><stop offset="0.0315" stop-color="#ff1400"/><stop offset="0.0485" stop-color="#ff1e00"/><stop offset="0.0655" stop-color="#ff2800"/><stop offset="0.0826" stop-color="#ff3200"/><stop offset="0.0996" stop-color="#ff3c00"/><stop offset="0.1167" stop-color="#ff4600"/><stop offset="0.1337" stop-color="#ff5400"/><stop offset="0.1507" stop-color="#ff6200"/><stop offset="0.1678" stop-color="#ff7000"/><stop offset="0.1848" stop-color="#ff7e00"/><stop offset="0.2019" stop-color="#ff8b00"/><stop offset="0.2189" stop-color="#ff9900"/><stop offset="0.2359" stop-color="#ffab00"/><stop offset="0.2530" stop-color="#ffc100"/><stop offset="0.2700" stop-color="#ffd700"/><stop offset="0.2870" stop-color="#fae900"/><stop offset="0.3041" stop-color="#e5ed00"/><stop offset="0.3211" stop-color="#cdf000"/><stop offset="0.3382" stop-color="#b2f000"/><stop offset="0.3552" stop-color="#97f000"/><stop offset="0.3722" stop-color="#74f000"/><stop offset="0.3893" stop-color="#4ef000"/><stop offset="0.4063" stop-color="#28f000"/><stop offset="0.4234" stop-color="#02f000"/><stop offset="0.4404" stop-color="#00f020"/><stop offset="0.4574" stop-color="#00f043"/><stop offset="0.4745" stop-color="#00f066"/><stop offset="0.4915" stop-color="#00f283"/><stop offset="0.5085" stop-color="#00f59d"/><stop offset="0.5256" stop-color="#00f8b8"/><stop offset="0.5426" stop-color="#00fad3"/><stop offset="0.5597" stop-color="#00fdee"/><stop offset="0.5767" stop-color="#00faff"/><stop offset="0.5937" stop-color="#00eaff"/><stop offset="0.6108" stop-color="#00daff"/><stop offset="0.6278" stop-color="#00cbff"/><stop offset="0.6448" stop-color="#00baff"/><stop offset="0.6619" stop-color="#00a8ff"/><stop offset="0.6789" stop-color="#0097ff"/><stop offset="0.6960" stop-color="#0388ff"/><stop offset="0.7130" stop-color="#0879ff"/><stop offset="0.7300" stop-color="#0c6bff"/><stop offset="0.7471" stop-color="#125eff"/><stop offset="0.7641" stop-color="#1954ff"/><stop offset="0.7812" stop-color="#204aff"/><stop offset="0.7982" stop-color="#2840ff"/><stop offset="0.8152" stop-color="#3229ff"/><stop offset="0.8323" stop-color="#3c12ff"/><stop offset="0.8493" stop-color="#4307ff"/><stop offset="0.8663" stop-color="#4905ff"/><stop offset="0.8834" stop-color="#4f03ff"/><stop offset="0.9004" stop-color="#5401ff"/><stop offset="0.9175" stop-color="#5c00ff"/><stop offset="0.9345" stop-color="#6600ff"/><stop offset="0.9515" stop-color="#7100ff"/><stop offset="0.9686" stop-color="#7c00ff"/><stop offset="0.9856" stop-color="#8600ff"/><stop offset="1.0027" stop-color="#9100ff"/></linearGradient><clipPath id="clipE"><rect x="158.1" y="806.0" width="425.9" height="295.1"/></clipPath></defs><g><line x1="83.5" y1="44.2" x2="241.5" y2="44.2" stroke="#9a9a9a" stroke-width="1.0"/><line x1="162.5" y1="90.2" x2="320.2" y2="90.2" stroke="#9a9a9a" stroke-width="1.0"/><line x1="83.5" y1="44.2" x2="162.5" y2="90.2" stroke="#9a9a9a" stroke-width="1.0"/><line x1="241.5" y1="44.2" x2="320.2" y2="90.2" stroke="#9a9a9a" stroke-width="1.0"/><line x1="84.0" y1="290.6" x2="242.0" y2="290.6" stroke="#9a9a9a" stroke-width="1.0"/><line x1="162.5" y1="337.3" x2="320.2" y2="337.3" stroke="#9a9a9a" stroke-width="1.0"/><line x1="84.0" y1="290.6" x2="162.5" y2="337.3" stroke="#9a9a9a" stroke-width="1.0"/><line x1="242.0" y1="290.6" x2="320.2" y2="337.3" stroke="#9a9a9a" stroke-width="1.0"/><line x1="83.5" y1="44.2" x2="84.0" y2="290.6" stroke="#9a9a9a" stroke-width="1.0"/><line x1="162.5" y1="90.2" x2="162.5" y2="337.3" stroke="#9a9a9a" stroke-width="1.0"/><line x1="241.5" y1="44.2" x2="242.0" y2="290.6" stroke="#9a9a9a" stroke-width="1.0"/><line x1="320.2" y1="90.2" x2="320.2" y2="337.3" stroke="#9a9a9a" stroke-width="1.0"/></g>
<g stroke-linecap="butt"><line x1="84.2" y1="167.3" x2="123.6" y2="167.3" stroke="#7cc7a2" stroke-width="2.6"/><line x1="123.6" y1="167.3" x2="162.9" y2="167.3" stroke="#f9c766" stroke-width="2.6"/><line x1="162.9" y1="167.3" x2="202.5" y2="167.3" stroke="#f9c766" stroke-width="2.6"/><line x1="202.5" y1="167.3" x2="242.1" y2="167.3" stroke="#7cc7a2" stroke-width="2.6"/><line x1="162.3" y1="213.9" x2="201.9" y2="213.9" stroke="#7cc7a2" stroke-width="2.6"/><line x1="201.9" y1="213.9" x2="241.5" y2="213.9" stroke="#f9c766" stroke-width="2.6"/><line x1="241.5" y1="213.9" x2="280.9" y2="213.9" stroke="#f9c766" stroke-width="2.6"/><line x1="280.9" y1="213.9" x2="320.2" y2="213.9" stroke="#7cc7a2" stroke-width="2.6"/><line x1="84.2" y1="167.3" x2="103.8" y2="178.8" stroke="#7cc7a2" stroke-width="2.6"/><line x1="103.8" y1="178.8" x2="123.3" y2="190.3" stroke="#f9c766" stroke-width="2.6"/><line x1="123.3" y1="190.3" x2="142.8" y2="202.1" stroke="#f9c766" stroke-width="2.6"/><line x1="142.8" y1="202.1" x2="162.3" y2="213.9" stroke="#7cc7a2" stroke-width="2.6"/><line x1="202.3" y1="190.3" x2="222.2" y2="178.8" stroke="#f9c766" stroke-width="2.6"/><line x1="222.2" y1="178.8" x2="242.1" y2="167.3" stroke="#7cc7a2" stroke-width="2.6"/><line x1="202.3" y1="190.3" x2="182.3" y2="202.1" stroke="#f9c766" stroke-width="2.6"/><line x1="182.3" y1="202.1" x2="162.3" y2="213.9" stroke="#7cc7a2" stroke-width="2.6"/><line x1="281.1" y1="190.3" x2="261.6" y2="178.8" stroke="#f9c766" stroke-width="2.6"/><line x1="261.6" y1="178.8" x2="242.1" y2="167.3" stroke="#7cc7a2" stroke-width="2.6"/><line x1="281.1" y1="190.3" x2="300.6" y2="202.1" stroke="#f9c766" stroke-width="2.6"/><line x1="300.6" y1="202.1" x2="320.2" y2="213.9" stroke="#7cc7a2" stroke-width="2.6"/><line x1="162.7" y1="120.5" x2="143.0" y2="155.4" stroke="#7fa5ee" stroke-width="2.6"/><line x1="143.0" y1="155.4" x2="123.3" y2="190.3" stroke="#f9c766" stroke-width="2.6"/><line x1="162.7" y1="120.5" x2="162.8" y2="143.9" stroke="#7fa5ee" stroke-width="2.6"/><line x1="162.8" y1="143.9" x2="162.9" y2="167.3" stroke="#f9c766" stroke-width="2.6"/><line x1="162.7" y1="120.5" x2="182.5" y2="155.4" stroke="#7fa5ee" stroke-width="2.6"/><line x1="182.5" y1="155.4" x2="202.3" y2="190.3" stroke="#f9c766" stroke-width="2.6"/><line x1="162.7" y1="245.4" x2="143.0" y2="217.9" stroke="#7fa5ee" stroke-width="2.6"/><line x1="143.0" y1="217.9" x2="123.3" y2="190.3" stroke="#f9c766" stroke-width="2.6"/><line x1="162.7" y1="245.4" x2="162.8" y2="206.4" stroke="#7fa5ee" stroke-width="2.6"/><line x1="162.8" y1="206.4" x2="162.9" y2="167.3" stroke="#f9c766" stroke-width="2.6"/><line x1="162.7" y1="245.4" x2="182.5" y2="217.9" stroke="#7fa5ee" stroke-width="2.6"/><line x1="182.5" y1="217.9" x2="202.3" y2="190.3" stroke="#f9c766" stroke-width="2.6"/><line x1="241.5" y1="135.8" x2="221.9" y2="163.1" stroke="#7fa5ee" stroke-width="2.6"/><line x1="221.9" y1="163.1" x2="202.3" y2="190.3" stroke="#f9c766" stroke-width="2.6"/><line x1="241.5" y1="135.8" x2="241.5" y2="174.9" stroke="#7fa5ee" stroke-width="2.6"/><line x1="241.5" y1="174.9" x2="241.5" y2="213.9" stroke="#f9c766" stroke-width="2.6"/><line x1="241.5" y1="135.8" x2="261.3" y2="163.1" stroke="#7fa5ee" stroke-width="2.6"/><line x1="261.3" y1="163.1" x2="281.1" y2="190.3" stroke="#f9c766" stroke-width="2.6"/><line x1="241.5" y1="261.1" x2="221.9" y2="225.7" stroke="#7fa5ee" stroke-width="2.6"/><line x1="221.9" y1="225.7" x2="202.3" y2="190.3" stroke="#f9c766" stroke-width="2.6"/><line x1="241.5" y1="261.1" x2="241.5" y2="237.5" stroke="#7fa5ee" stroke-width="2.6"/><line x1="241.5" y1="237.5" x2="241.5" y2="213.9" stroke="#f9c766" stroke-width="2.6"/><line x1="241.5" y1="261.1" x2="261.3" y2="225.7" stroke="#7fa5ee" stroke-width="2.6"/><line x1="261.3" y1="225.7" x2="281.1" y2="190.3" stroke="#f9c766" stroke-width="2.6"/><line x1="123.3" y1="190.3" x2="162.9" y2="167.3" stroke="#c0703a" stroke-width="2.6"/><line x1="162.9" y1="167.3" x2="202.3" y2="190.3" stroke="#c0703a" stroke-width="2.6"/><line x1="123.3" y1="190.3" x2="202.3" y2="190.3" stroke="#c0703a" stroke-width="2.6"/><line x1="202.3" y1="190.3" x2="281.1" y2="190.3" stroke="#c0703a" stroke-width="2.6"/><line x1="202.3" y1="190.3" x2="241.5" y2="213.9" stroke="#c0703a" stroke-width="2.6"/><line x1="241.5" y1="213.9" x2="281.1" y2="190.3" stroke="#c0703a" stroke-width="2.6"/></g>
<g><circle cx="83.5" cy="44.2" r="8.3" fill="url(#gCs)"/><circle cx="241.5" cy="44.2" r="8.3" fill="url(#gCs)"/><circle cx="162.5" cy="90.2" r="8.3" fill="url(#gCs)"/><circle cx="320.2" cy="90.2" r="8.3" fill="url(#gCs)"/><circle cx="84.0" cy="290.6" r="8.3" fill="url(#gCs)"/><circle cx="242.0" cy="290.6" r="8.3" fill="url(#gCs)"/><circle cx="162.5" cy="337.3" r="8.3" fill="url(#gCs)"/><circle cx="320.2" cy="337.3" r="8.3" fill="url(#gCs)"/><circle cx="162.7" cy="120.5" r="14.2" fill="url(#gB)"/><circle cx="241.5" cy="135.8" r="14.2" fill="url(#gB)"/><circle cx="162.7" cy="245.4" r="14.2" fill="url(#gB)"/><circle cx="241.5" cy="261.1" r="14.2" fill="url(#gB)"/><circle cx="84.2" cy="167.3" r="14.1" fill="url(#gG)"/><circle cx="242.1" cy="167.3" r="14.1" fill="url(#gG)"/><circle cx="162.3" cy="213.9" r="14.1" fill="url(#gG)"/><circle cx="320.2" cy="213.9" r="14.1" fill="url(#gG)"/><circle cx="162.9" cy="167.3" r="10.9" fill="url(#gO)"/><circle cx="123.3" cy="190.3" r="10.9" fill="url(#gO)"/><circle cx="202.3" cy="190.3" r="10.9" fill="url(#gO)"/><circle cx="281.1" cy="190.3" r="10.9" fill="url(#gO)"/><circle cx="241.5" cy="213.9" r="10.9" fill="url(#gO)"/></g>
<g stroke-linecap="butt" opacity="0.3"><line x1="84.2" y1="167.3" x2="123.6" y2="167.3" stroke="#7cc7a2" stroke-width="2.6"/><line x1="123.6" y1="167.3" x2="162.9" y2="167.3" stroke="#f9c766" stroke-width="2.6"/><line x1="162.9" y1="167.3" x2="202.5" y2="167.3" stroke="#f9c766" stroke-width="2.6"/><line x1="202.5" y1="167.3" x2="242.1" y2="167.3" stroke="#7cc7a2" stroke-width="2.6"/><line x1="162.3" y1="213.9" x2="201.9" y2="213.9" stroke="#7cc7a2" stroke-width="2.6"/><line x1="201.9" y1="213.9" x2="241.5" y2="213.9" stroke="#f9c766" stroke-width="2.6"/><line x1="241.5" y1="213.9" x2="280.9" y2="213.9" stroke="#f9c766" stroke-width="2.6"/><line x1="280.9" y1="213.9" x2="320.2" y2="213.9" stroke="#7cc7a2" stroke-width="2.6"/><line x1="84.2" y1="167.3" x2="103.8" y2="178.8" stroke="#7cc7a2" stroke-width="2.6"/><line x1="103.8" y1="178.8" x2="123.3" y2="190.3" stroke="#f9c766" stroke-width="2.6"/><line x1="123.3" y1="190.3" x2="142.8" y2="202.1" stroke="#f9c766" stroke-width="2.6"/><line x1="142.8" y1="202.1" x2="162.3" y2="213.9" stroke="#7cc7a2" stroke-width="2.6"/><line x1="202.3" y1="190.3" x2="222.2" y2="178.8" stroke="#f9c766" stroke-width="2.6"/><line x1="222.2" y1="178.8" x2="242.1" y2="167.3" stroke="#7cc7a2" stroke-width="2.6"/><line x1="202.3" y1="190.3" x2="182.3" y2="202.1" stroke="#f9c766" stroke-width="2.6"/><line x1="182.3" y1="202.1" x2="162.3" y2="213.9" stroke="#7cc7a2" stroke-width="2.6"/><line x1="281.1" y1="190.3" x2="261.6" y2="178.8" stroke="#f9c766" stroke-width="2.6"/><line x1="261.6" y1="178.8" x2="242.1" y2="167.3" stroke="#7cc7a2" stroke-width="2.6"/><line x1="281.1" y1="190.3" x2="300.6" y2="202.1" stroke="#f9c766" stroke-width="2.6"/><line x1="300.6" y1="202.1" x2="320.2" y2="213.9" stroke="#7cc7a2" stroke-width="2.6"/><line x1="143.0" y1="155.4" x2="123.3" y2="190.3" stroke="#f9c766" stroke-width="2.6"/><line x1="162.8" y1="143.9" x2="162.9" y2="167.3" stroke="#f9c766" stroke-width="2.6"/><line x1="182.5" y1="155.4" x2="202.3" y2="190.3" stroke="#f9c766" stroke-width="2.6"/><line x1="143.0" y1="217.9" x2="123.3" y2="190.3" stroke="#f9c766" stroke-width="2.6"/><line x1="162.8" y1="206.4" x2="162.9" y2="167.3" stroke="#f9c766" stroke-width="2.6"/><line x1="182.5" y1="217.9" x2="202.3" y2="190.3" stroke="#f9c766" stroke-width="2.6"/><line x1="221.9" y1="163.1" x2="202.3" y2="190.3" stroke="#f9c766" stroke-width="2.6"/><line x1="241.5" y1="174.9" x2="241.5" y2="213.9" stroke="#f9c766" stroke-width="2.6"/><line x1="261.3" y1="163.1" x2="281.1" y2="190.3" stroke="#f9c766" stroke-width="2.6"/><line x1="221.9" y1="225.7" x2="202.3" y2="190.3" stroke="#f9c766" stroke-width="2.6"/><line x1="241.5" y1="237.5" x2="241.5" y2="213.9" stroke="#f9c766" stroke-width="2.6"/><line x1="261.3" y1="225.7" x2="281.1" y2="190.3" stroke="#f9c766" stroke-width="2.6"/><line x1="123.3" y1="190.3" x2="162.9" y2="167.3" stroke="#c0703a" stroke-width="2.6"/><line x1="162.9" y1="167.3" x2="202.3" y2="190.3" stroke="#c0703a" stroke-width="2.6"/><line x1="123.3" y1="190.3" x2="202.3" y2="190.3" stroke="#c0703a" stroke-width="2.6"/><line x1="202.3" y1="190.3" x2="281.1" y2="190.3" stroke="#c0703a" stroke-width="2.6"/><line x1="202.3" y1="190.3" x2="241.5" y2="213.9" stroke="#c0703a" stroke-width="2.6"/><line x1="241.5" y1="213.9" x2="281.1" y2="190.3" stroke="#c0703a" stroke-width="2.6"/></g>
<g stroke="#5a5a5a" stroke-width="0.9" opacity="0.55"><line x1="162.5" y1="99" x2="162.5" y2="329"/><line x1="241.5" y1="52" x2="241.5" y2="282"/></g>
<text x="17.4" y="27.0" font-size="37" fill="#000" text-anchor="start" >(a)</text>
<text x="100.0" y="30.3" font-size="36" fill="#404040" text-anchor="start" >Cs</text>
<text x="-1.8" y="176.2" font-size="36" fill="#0a8c5a" text-anchor="start" >Sb1</text>
<text x="87.5" y="279.6" font-size="36" fill="#0a6ab0" text-anchor="start" >Sb2</text>
<text x="279.2" y="160.8" font-size="36" fill="#e5b020" text-anchor="start" >V</text>
<g stroke="#000" stroke-width="0.9" fill="none"><line x1="65.2" y1="347.2" x2="65.2" y2="331"/><line x1="65.2" y1="347.2" x2="84" y2="347.2"/><line x1="65.2" y1="347.2" x2="56" y2="342" stroke-dasharray="1.5,1"/></g>
<path d="M65.2,326.5 L62.8,333 L67.6,333 Z" fill="#000"/>
<path d="M88.5,347.2 L82,344.8 L82,349.6 Z" fill="#000"/>
<text x="60.5" y="326.5" font-size="14.5" fill="#000" text-anchor="start" >c</text>
<text x="41.5" y="344.3" font-size="14.5" fill="#000" text-anchor="start" >b</text>
<text x="92.2" y="352.0" font-size="14.5" fill="#000" text-anchor="start" >a</text>
<polyline points="411.0,166.9 412.4,156.3 413.9,167.3 415.3,161.9 416.8,165.1 418.2,163.1 419.7,165.7 421.1,161.6 422.6,166.9 424.0,159.1 425.5,162.2 426.9,159.2 428.4,163.2 429.8,161.6 431.3,164.3 432.7,160.3 434.2,164.8 435.6,159.1 437.1,165.1 438.5,161.7 440.0,164.4 441.4,159.4 442.9,163.8 444.3,161.0 445.8,164.2 447.2,162.3 448.7,169.6 450.1,160.0 451.6,161.5 453.0,159.1 454.5,165.5 455.9,161.9 457.4,166.7 458.8,159.4 460.3,163.1 461.7,162.1 463.2,167.1 464.6,161.2 466.1,164.6 467.5,159.2 469.0,164.8 470.4,160.1 471.9,164.8 473.3,157.7 474.8,163.3 476.2,160.4 477.7,164.5 479.1,161.1 480.6,162.6 482.0,157.9 483.5,161.7 484.9,157.8 486.4,162.8 487.8,156.4 489.3,160.7 490.7,154.1 492.2,154.1 493.6,145.1 495.1,145.3 496.5,137.4 498.0,131.7 499.4,124.8 500.9,121.8 502.3,116.7 502.3,119.3 503.8,119.3 505.2,125.9 506.7,128.6 508.1,139.4 509.6,142.6 511.0,150.2 512.5,147.9 513.9,161.4 515.4,153.3 516.8,161.6 518.3,155.9 519.7,167.3 521.2,158.7 522.6,162.8 524.1,156.8 525.5,169.5 527.0,158.2 528.4,166.8 529.9,158.9 531.3,163.8 532.8,162.4 534.2,164.4 535.7,161.7 537.1,165.2 538.6,160.4 540.0,162.9 541.5,160.7 542.9,164.4 544.4,161.2 545.8,164.9 547.3,159.1 548.7,163.5 550.2,158.4 551.6,163.5 553.1,161.1 554.5,163.4 556.0,160.5 557.4,163.9 558.9,160.1 560.3,164.4 561.8,163.3 563.2,164.8 564.7,161.9 566.1,164.1 567.6,157.3 569.0,165.0 570.5,159.0 571.9,164.5 573.4,160.2 574.8,165.3 576.3,162.2 577.7,168.4 579.2,157.7 580.6,165.2 582.1,156.8 583.5,165.0 585.0,158.9 586.4,163.9 587.9,162.3 589.3,166.1 590.8,161.4 592.2,162.0 593.7,156.7 595.1,160.3 596.6,152.0 598.0,145.9 599.5,134.5 600.9,122.5 602.4,108.3 603.8,99.8 605.0,94.5 605.3,95.9 606.7,100.4 608.2,114.8 609.6,127.3 611.1,140.1 612.5,147.0 614.0,155.3 615.4,156.6 616.9,159.8 618.3,156.6 619.8,163.3 621.2,156.1 622.7,162.8 624.1,159.2 625.6,163.4 627.0,161.5 628.5,163.7 629.9,154.6 631.4,163.6 632.8,160.5 634.3,165.5 635.7,158.0 637.2,163.2 638.6,161.3 640.1,166.6 641.5,160.0 643.0,161.7 644.4,162.5 645.9,161.0 647.3,157.8 648.8,170.9 650.2,160.2 651.7,165.6 653.1,159.1 654.6,168.6 656.0,156.8 657.5,166.6 658.9,160.4 660.4,165.5 661.8,161.5 663.3,161.4 664.7,156.8 666.2,165.3 667.6,154.6 669.1,167.1 670.5,156.5 672.0,163.7 673.4,158.2 674.9,162.7 676.3,157.8 677.8,164.9 679.2,158.1 680.7,163.1 682.1,156.4 683.6,162.3 685.0,158.5 686.5,162.1 687.9,157.2 689.4,165.9 690.8,154.9 692.3,161.7 693.7,154.2 695.2,160.4 696.6,154.5 698.1,161.5 699.5,154.2 701.0,154.1 702.4,145.1 703.9,132.0 705.3,107.7 706.8,85.8 708.2,72.1 708.3,73.0 709.7,81.7 711.1,107.4 712.6,129.7 714.0,146.4 715.5,152.5 716.9,160.5 718.4,158.2 719.8,161.2 721.3,159.0 722.7,163.0 724.2,160.5 725.6,167.2 727.1,161.5 728.5,164.3 730.0,160.5 731.4,165.1 732.9,158.4 734.3,164.1 735.8,162.6 737.2,164.6 738.7,162.3 740.1,163.1 741.6,159.0 743.0,164.9 744.5,162.9 745.9,162.6 747.4,161.2 748.8,164.5 750.3,161.5 751.7,164.9 753.2,160.3 754.6,164.5 756.1,160.9 757.5,166.2 759.0,158.2 760.4,161.1 761.9,159.0 763.3,161.7 764.8,157.6 766.2,165.4 767.7,161.3 769.1,164.4 770.6,161.6 772.0,168.6 773.5,159.6 774.9,166.2 776.4,161.9 777.8,165.0 779.3,161.7 780.7,165.5 782.2,162.0 783.6,162.4 785.1,159.5 786.5,162.9 788.0,161.0 789.4,163.4 790.9,160.3 792.3,163.2 793.8,161.1 795.2,164.7 796.7,160.0 798.1,164.4 799.6,160.1 801.0,163.4 802.5,156.8 803.9,155.7 805.4,147.7 806.8,122.6 808.3,70.3 809.7,28.2 810.0,26.0 811.2,52.7 812.6,106.0 814.1,143.6 815.5,154.1 817.0,159.2 818.4,156.4 819.9,162.9 821.3,157.0 822.8,163.3 824.2,159.8 825.7,164.6 827.1,159.0 828.6,166.7 830.0,162.0 831.5,168.3 832.9,162.5 834.4,166.5 835.8,162.4 837.3,167.4 838.7,161.9 840.2,165.8 841.6,161.2 843.1,165.9 844.5,162.8 846.0,166.5 847.4,160.1 848.9,165.7 850.3,162.7 851.8,166.6 853.2,162.2 854.7,167.1 856.1,163.7 857.6,168.3 859.0,162.6 860.5,163.7 861.9,160.0 863.4,165.2 864.8,163.4 866.3,165.0 867.7,163.2 869.2,164.5 870.6,160.8 872.1,166.3 873.5,160.5 875.0,165.6 876.4,159.3 877.9,165.3 879.3,160.1 880.8,164.4 882.2,157.4 883.7,163.9 885.1,160.3 886.6,164.7 888.0,161.0 889.5,163.0 890.9,159.3 892.4,162.5 893.8,158.0 895.3,161.1 896.7,158.1 898.2,164.3 899.6,159.5 901.1,162.2 902.5,157.0 904.0,161.4 905.4,155.4 906.9,152.6 908.3,140.7 909.8,125.7 911.2,107.6 912.7,95.1 913.3,92.7 914.1,96.1 915.6,108.7 917.0,129.7 918.5,140.8 919.9,154.0 921.4,152.9 922.8,164.1 924.3,158.7 925.7,161.2 927.2,157.9 928.6,165.8 930.1,159.0 931.5,169.1 933.0,161.5 934.4,167.2 935.9,158.9 937.3,163.0 938.8,158.5 940.2,161.8 941.7,155.3 943.1,164.6 944.6,157.5 946.0,166.6 947.5,159.9 948.9,164.0 950.4,155.8 951.8,165.8 953.3,159.8 954.7,164.5 956.2,161.6 957.6,166.9 959.1,161.6 960.5,167.6 962.0,163.0 963.4,171.0 964.9,157.8 966.3,170.0 967.8,158.2 969.2,168.0 970.7,158.9 972.1,166.4 973.6,161.2 975.0,166.7 976.5,162.6 977.9,167.8 979.4,157.6 980.8,165.5 982.3,162.4 983.7,168.6 985.2,161.1 986.6,166.9 988.1,160.6 989.5,164.7 991.0,156.7 992.4,169.7 993.9,158.7 995.3,165.5 996.8,157.5 998.2,167.3 999.7,162.5 1001.1,165.2 1002.6,158.5 1004.0,161.8 1005.5,157.5 1006.9,162.3 1008.4,150.0 1009.8,147.3 1011.3,135.7 1012.7,127.1 1014.2,116.0 1015.6,113.7 1015.7,111.4 1017.1,117.1 1018.5,123.4 1020.0,136.4 1021.4,145.7 1022.9,153.3 1024.3,154.7 1025.8,162.3 1027.2,158.1 1028.7,167.8 1030.1,161.1 1031.6,167.2 1033.0,157.9 1034.5,163.4 1035.9,159.4 1037.4,165.4 1038.8,160.1 1040.3,163.6 1041.7,163.7 1043.2,164.5 1044.6,159.5 1046.1,165.3 1047.5,161.7 1049.0,164.6 1050.4,157.7 1051.9,162.6 1053.3,161.7 1054.8,162.2 1056.2,158.9 1057.7,161.5 1059.1,161.5 1060.6,163.7 1062.0,159.1 1063.5,164.0 1064.9,160.3 1066.4,162.3 1067.8,161.2 1069.3,163.4 1070.7,161.4 1072.2,163.3 1073.6,159.7 1075.1,160.9 1076.5,157.1 1078.0,142.9 1079.4,79.9 1080.7,28.7 1080.9,29.0 1082.3,103.2 1083.8,147.7 1085.2,157.8 1086.7,159.2 1088.1,162.6 1089.6,159.3 1091.0,164.9 1092.5,159.7 1093.9,160.8 1095.4,159.3 1096.8,163.5 1098.3,160.8 1099.7,166.3 1101.2,158.1 1102.6,164.6 1104.1,162.3 1105.5,168.4 1107.0,160.1 1108.4,164.5 1109.9,158.0 1111.3,162.3 1112.8,154.9 1114.2,157.8 1115.7,148.0 1117.1,149.2 1118.3,143.9 1118.6,148.9 1120.0,146.7 1121.5,157.0 1122.9,154.1 1124.4,158.4 1125.8,151.9 1127.3,165.4 1128.7,160.2 1130.2,163.5 1131.6,159.8 1133.1,166.3 1134.5,163.6 1136.0,166.7 1137.4,162.8 1138.9,166.8 1140.3,160.9 1141.8,166.1 1143.2,158.1 1144.7,167.2 1146.1,161.0 1147.6,163.2 1149.0,161.7 1150.5,167.6 1151.9,162.1 1153.4,165.1 1154.8,157.5 1156.3,162.8 1157.7,158.7 1159.2,165.2 1160.6,155.5 1162.1,165.9 1163.5,160.5 1165.0,162.3 1166.4,159.8 1167.9,166.4 1169.3,160.0 1170.8,165.6 1172.2,161.7 1173.7,164.3 1175.1,159.5 1176.6,164.8 1178.0,160.3 1179.5,164.0 1180.9,159.9 1182.4,165.9 1183.8,158.8 1185.3,167.7 1186.7,159.7 1188.2,165.4 1189.6,159.2 1191.1,166.4 1192.5,162.0 1194.0,162.4 1195.4,157.3 1196.9,168.9 1198.3,160.9" fill="none" stroke="#000" stroke-width="1.4" stroke-linejoin="round"/>
<polyline points="411.0,349.8 412.4,348.5 413.9,350.1 415.3,346.8 416.8,349.7 418.2,348.4 419.7,349.7 421.1,348.0 422.6,348.6 424.0,348.4 425.5,349.0 426.9,347.4 428.4,348.4 429.8,347.5 431.3,348.0 432.7,347.3 434.2,348.9 435.6,347.3 437.1,348.4 438.5,347.4 440.0,348.5 441.4,346.7 442.9,347.4 444.3,346.5 445.8,346.8 447.2,346.5 448.7,347.7 450.1,345.6 451.6,347.1 453.0,345.7 454.5,347.1 455.9,345.9 457.4,347.5 458.8,345.7 460.3,346.7 461.7,344.5 463.2,345.0 464.6,342.4 466.1,341.4 467.5,339.1 469.0,336.5 470.4,333.1 471.9,330.5 473.3,327.9 474.8,327.3 475.0,326.4 476.2,327.4 477.7,329.6 479.1,333.4 480.6,335.1 482.0,339.3 483.5,340.5 484.9,343.7 486.4,342.6 487.8,345.3 489.3,344.2 490.7,344.2 492.2,341.8 493.6,339.6 495.1,333.6 496.5,327.9 498.0,321.6 499.4,316.6 500.7,314.5 500.9,315.2 502.3,317.3 503.8,323.3 505.2,328.3 506.7,335.3 508.1,338.8 509.6,343.1 511.0,343.5 512.5,345.7 513.9,345.3 515.4,347.6 516.8,346.5 518.3,348.7 519.7,346.1 521.2,348.1 522.6,346.6 524.1,349.0 525.5,346.8 527.0,350.1 528.4,348.4 529.9,350.0 531.3,347.8 532.8,350.5 534.2,348.8 535.7,351.6 537.1,348.1 538.6,349.7 540.0,348.4 541.5,350.0 542.9,348.9 544.4,350.0 545.8,348.0 547.3,350.1 548.7,348.7 550.2,350.8 551.6,347.3 553.1,349.3 554.5,348.4 556.0,350.2 557.4,348.2 558.9,349.9 560.3,348.0 561.8,350.1 563.2,347.5 564.7,348.3 566.1,347.3 567.6,348.4 569.0,345.8 570.5,346.7 571.9,344.2 573.4,344.6 574.8,339.4 576.3,335.8 577.7,327.3 579.2,319.9 580.6,311.7 581.7,310.9 582.1,310.0 583.5,315.6 585.0,322.4 586.4,332.7 587.9,337.4 589.3,343.6 590.8,342.9 592.2,347.3 593.7,345.0 595.1,346.4 596.6,343.6 598.0,345.3 599.5,342.9 600.9,341.0 602.4,330.8 603.8,320.3 605.3,305.1 606.7,292.5 607.7,288.9 608.2,291.3 609.6,300.5 611.1,316.2 612.5,328.6 614.0,339.5 615.4,342.7 616.9,347.0 618.3,346.7 619.8,347.6 621.2,347.8 622.7,348.8 624.1,348.3 625.6,350.0 627.0,348.3 628.5,349.1 629.9,349.1 631.4,350.2 632.8,347.8 634.3,350.0 635.7,347.9 637.2,348.5 638.6,348.4 640.1,349.9 641.5,347.4 643.0,350.0 644.4,347.0 645.9,349.0 647.3,345.9 648.8,347.6 650.2,346.6 651.7,349.0 653.1,345.2 654.6,348.5 656.0,345.6 657.5,348.7 658.9,345.4 660.4,348.1 661.8,345.8 663.3,346.9 664.7,344.7 666.2,344.4 667.6,342.2 669.1,342.4 670.5,340.5 671.0,341.1 672.0,340.4 673.4,341.9 674.9,343.2 676.3,345.0 677.8,344.6 679.2,345.3 680.7,342.5 682.1,340.1 683.6,333.3 685.0,323.8 686.5,311.5 687.9,301.3 689.2,297.2 689.4,297.4 690.8,303.4 692.3,315.2 693.7,326.3 695.2,335.2 696.6,340.0 698.1,343.2 699.5,343.8 701.0,345.6 702.4,343.9 703.9,344.5 705.3,343.4 706.8,343.4 708.2,339.7 709.7,333.3 711.1,315.6 712.6,288.8 714.0,260.6 715.0,254.0 715.5,255.3 716.9,280.1 718.4,308.9 719.8,329.6 721.3,339.1 722.7,344.4 724.2,344.3 725.6,346.4 727.1,345.1 728.5,347.4 730.0,346.5 731.4,348.5 732.9,347.1 734.3,348.0 735.8,345.0 737.2,347.2 738.7,345.5 740.1,348.1 741.6,345.9 743.0,347.7 744.5,345.6 745.9,347.5 747.4,345.2 748.8,348.0 750.3,346.1 751.7,348.3 753.2,346.9 754.6,348.9 756.1,346.2 757.5,348.2 759.0,346.0 760.4,348.0 761.9,346.3 763.3,350.1 764.8,347.2 766.2,348.7 767.7,348.6 769.1,349.1 770.6,346.8 772.0,348.6 773.5,347.4 774.9,348.2 776.4,347.0 777.8,348.0 779.3,345.9 780.7,347.4 782.2,345.5 783.6,347.0 785.1,345.6 786.5,346.9 788.0,340.8 789.4,337.3 790.9,321.0 792.3,292.4 793.8,255.5 795.0,241.8 795.2,241.7 796.7,268.1 798.1,303.5 799.6,327.9 801.0,337.6 802.5,343.0 803.9,344.1 805.4,345.5 806.8,344.7 808.3,343.2 809.7,338.9 810.8,338.2 811.2,336.8 812.6,339.0 814.1,335.3 815.5,323.7 817.0,308.3 817.0,308.9 818.4,295.0 819.9,260.0 821.3,224.4 821.5,224.2 822.8,253.9 824.2,305.7 825.7,332.5 827.1,341.4 828.6,343.8 830.0,346.3 831.5,343.9 832.9,346.3 834.4,345.6 835.8,348.0 837.3,345.2 838.7,346.9 840.2,346.4 841.6,347.9 843.1,346.1 844.5,348.5 846.0,347.0 847.4,349.1 848.9,347.2 850.3,349.4 851.8,348.7 853.2,350.0 854.7,348.2 856.1,349.3 857.6,348.6 859.0,348.9 860.5,348.0 861.9,350.2 863.4,348.2 864.8,349.3 866.3,348.6 867.7,349.2 869.2,347.8 870.6,349.5 872.1,347.0 873.5,349.2 875.0,348.5 876.4,348.6 877.9,347.8 879.3,349.5 880.8,346.8 882.2,349.5 883.7,346.4 885.1,350.0 886.6,347.7 888.0,350.0 889.5,346.3 890.9,349.8 892.4,345.9 893.8,346.5 895.3,341.9 896.7,336.1 898.2,323.4 899.6,305.5 901.1,285.1 902.3,278.9 902.5,278.3 904.0,291.6 905.4,311.4 906.9,328.6 908.3,337.7 909.8,343.3 911.2,342.4 912.7,346.8 914.1,345.2 915.6,346.6 917.0,342.7 918.5,345.7 919.9,339.5 921.4,334.8 922.8,321.5 924.3,307.5 925.7,291.4 926.7,290.0 927.2,289.4 928.6,301.3 930.1,317.0 931.5,331.7 933.0,338.5 934.4,344.8 935.9,344.4 937.3,347.7 938.8,345.9 940.2,349.1 941.7,347.8 943.1,348.6 944.6,347.2 946.0,349.1 947.5,347.1 948.9,349.4 950.4,347.6 951.8,350.0 953.3,347.7 954.7,349.0 956.2,348.3 957.6,349.1 959.1,348.1 960.5,350.1 962.0,346.9 963.4,350.7 964.9,347.6 966.3,349.3 967.8,347.0 969.2,350.4 970.7,347.4 972.1,347.1 973.6,346.1 975.0,348.1 976.5,345.9 977.9,347.8 979.4,345.3 980.8,347.7 982.3,346.2 983.7,347.7 985.2,346.1 986.6,347.1 988.1,346.2 989.5,346.9 991.0,346.3 992.4,346.5 993.9,344.3 995.3,347.3 996.8,343.6 998.2,344.6 999.7,339.9 1001.1,337.8 1002.6,330.4 1004.0,324.0 1005.5,314.9 1006.9,310.4 1007.7,308.2 1008.4,309.5 1009.8,314.0 1011.3,323.1 1012.7,330.0 1014.2,337.0 1015.6,340.5 1017.1,344.2 1018.5,343.7 1020.0,345.9 1021.4,343.7 1022.9,345.0 1024.3,342.0 1025.8,341.1 1027.2,336.4 1028.7,331.4 1030.1,325.1 1031.6,319.8 1033.0,316.9 1033.3,317.6 1034.5,318.5 1035.9,324.0 1037.4,330.1 1038.8,336.4 1040.3,340.5 1041.7,344.1 1043.2,344.9 1044.6,346.9 1046.1,346.3 1047.5,347.8 1049.0,347.6 1050.4,347.9 1051.9,347.6 1053.3,348.0 1054.8,346.8 1056.2,347.9 1057.7,347.0 1059.1,347.8 1060.6,347.2 1062.0,348.5 1063.5,346.2 1064.9,348.2 1066.4,346.3 1067.8,347.8 1069.3,346.1 1070.7,346.6 1072.2,345.3 1073.6,345.8 1075.1,342.6 1076.5,336.8 1078.0,297.2 1079.4,204.1 1080.0,187.6 1080.9,226.7 1082.3,313.6 1083.8,340.8 1085.2,343.9 1086.7,346.9 1088.1,346.8 1089.6,349.0 1091.0,346.3 1092.5,349.4 1093.9,345.8 1095.4,348.4 1096.8,347.2 1098.3,348.2 1099.7,345.1 1101.2,346.2 1102.6,343.7 1104.1,344.2 1105.5,339.6 1107.0,340.1 1108.4,338.3 1109.9,339.1 1110.0,337.3 1111.3,338.3 1112.8,337.8 1114.2,340.7 1115.7,340.3 1117.1,344.1 1118.6,343.7 1120.0,346.3 1121.5,345.9 1122.9,347.9 1124.4,345.9 1125.8,347.4 1127.3,346.5 1128.7,346.5 1130.2,344.5 1131.6,344.2 1133.1,342.0 1134.5,342.4 1136.0,340.1 1137.4,340.1 1138.0,339.9 1138.9,340.7 1140.3,340.7 1141.8,342.6 1143.2,343.3 1144.7,345.4 1146.1,345.5 1147.6,347.0 1149.0,347.1 1150.5,348.3 1151.9,347.7 1153.4,348.1 1154.8,347.4 1156.3,348.2 1157.7,348.0 1159.2,348.6 1160.6,348.4 1162.1,348.7 1163.5,347.1 1165.0,347.9 1166.4,347.3 1167.9,348.1 1169.3,347.7 1170.8,347.9 1172.2,347.1 1173.7,347.9 1175.1,346.6 1176.6,348.1 1178.0,346.4 1179.5,347.6 1180.9,346.1 1182.4,348.1 1183.8,346.9 1185.3,348.1 1186.7,347.5 1188.2,348.7 1189.6,346.7 1191.1,349.5 1192.5,347.9 1194.0,349.2 1195.4,348.0 1196.9,349.8 1198.3,347.5" fill="none" stroke="#ff0000" stroke-width="1.3" stroke-linejoin="round"/>
<rect x="410.6" y="0.35" width="788.6" height="355.4" fill="none" stroke="#000" stroke-width="1.5"/>
<g stroke="#000" stroke-width="1.5"><line x1="440.6" y1="355.8" x2="440.6" y2="350.3"/><line x1="501.3" y1="355.8" x2="501.3" y2="350.3"/><line x1="562.0" y1="355.8" x2="562.0" y2="346.3"/><line x1="622.7" y1="355.8" x2="622.7" y2="350.3"/><line x1="683.4" y1="355.8" x2="683.4" y2="350.3"/><line x1="744.1" y1="355.8" x2="744.1" y2="350.3"/><line x1="804.8" y1="355.8" x2="804.8" y2="350.3"/><line x1="865.5" y1="355.8" x2="865.5" y2="346.3"/><line x1="926.2" y1="355.8" x2="926.2" y2="350.3"/><line x1="986.9" y1="355.8" x2="986.9" y2="350.3"/><line x1="1047.6" y1="355.8" x2="1047.6" y2="350.3"/><line x1="1108.3" y1="355.8" x2="1108.3" y2="350.3"/><line x1="1169.0" y1="355.8" x2="1169.0" y2="346.3"/></g>
<text x="562.0" y="378.8" font-size="19.3" fill="#000" text-anchor="middle" >134</text>
<text x="865.5" y="378.8" font-size="19.3" fill="#000" text-anchor="middle" >135</text>
<text x="1169.0" y="378.8" font-size="19.3" fill="#000" text-anchor="middle" >136</text>
<text x="805.0" y="407.2" font-size="26.8" fill="#000" text-anchor="middle" >frequency (MHz)</text>
<text transform="translate(393.9,325.0) rotate(-90)" font-size="27.75">V-NMR Intensity (a. u.)</text>
<text transform="translate(382.8,345.6) rotate(-90)" font-size="18">51</text>
<text x="450.1" y="81.7" font-size="22.3"><tspan font-style="italic">T</tspan> = 101.7 K</text>
<text x="456.3" y="259.0" font-size="22.2" fill="#ff0000"><tspan font-style="italic">T</tspan> = 90.3 K</text>
<text x="919.4" y="30.8" font-size="31.5">CsV<tspan font-size="19.5" dy="5.4">3</tspan><tspan dy="-5.4">Sb</tspan><tspan font-size="19.5" dy="5.4">5</tspan></text>
<text x="913.5" y="63.6" font-size="22"><tspan font-style="italic">B</tspan><tspan font-size="15" dy="5.4">0</tspan><tspan dy="-5.4"> = 11.997 T</tspan></text>
<text x="952.0" y="94.7" font-size="21.5"><tspan font-style="italic">B</tspan><tspan font-size="15" dy="5.4">0</tspan><tspan dy="-5.4"> || </tspan><tspan font-style="italic">c</tspan></text>
<text x="1105.0" y="86.7" font-size="25.5" fill="#000" text-anchor="start" >Cu coil</text>
<line x1="1127.7" y1="92.1" x2="1094" y2="110.6" stroke="#000" stroke-width="1.2"/>
<path d="M1089.2,113.4 L1093.6,106.6 L1097.9,113.4 Z" fill="#000"/>
<text x="763.8" y="249.6" font-size="32" font-style="italic">I</text>
<text x="771.2" y="258.3" font-size="22">1</text>
<text x="839.4" y="250.1" font-size="32" font-style="italic">I</text>
<text x="846.0" y="259.2" font-size="22">2</text>
<text x="346.7" y="27.0" font-size="37" fill="#000" text-anchor="start" >(b)</text>
<g filter="url(#cm)"><g shape-rendering="crispEdges"><rect x="142.25" y="426.6" width="331.35" height="10.3" fill="url(#h0)"/><rect x="142.25" y="436.6" width="331.35" height="10.3" fill="url(#h1)"/><rect x="142.25" y="446.6" width="331.35" height="10.3" fill="url(#h2)"/><rect x="142.25" y="456.6" width="331.35" height="10.3" fill="url(#h3)"/><rect x="142.25" y="466.6" width="331.35" height="10.3" fill="url(#h4)"/><rect x="142.25" y="476.6" width="331.35" height="10.3" fill="url(#h5)"/><rect x="142.25" y="486.6" width="331.35" height="10.3" fill="url(#h6)"/><rect x="142.25" y="496.6" width="331.35" height="7.3" fill="url(#h7)"/><rect x="142.25" y="503.6" width="331.35" height="6.3" fill="url(#h8)"/><rect x="142.25" y="509.6" width="331.35" height="4.3" fill="url(#h9)"/><rect x="142.25" y="513.6" width="331.35" height="4.3" fill="url(#h10)"/><rect x="142.25" y="517.6" width="331.35" height="4.3" fill="url(#h11)"/><rect x="142.25" y="521.6" width="331.35" height="4.3" fill="url(#h12)"/><rect x="142.25" y="525.6" width="331.35" height="5.3" fill="url(#h13)"/><rect x="142.25" y="530.6" width="331.35" height="4.3" fill="url(#h14)"/><rect x="142.25" y="534.6" width="331.35" height="4.3" fill="url(#h15)"/><rect x="142.25" y="538.6" width="331.35" height="4.3" fill="url(#h16)"/><rect x="142.25" y="542.6" width="331.35" height="2.3" fill="url(#h17)"/><rect x="142.25" y="544.6" width="331.35" height="2.3" fill="url(#h18)"/><rect x="142.25" y="546.6" width="331.35" height="2.3" fill="url(#h19)"/><rect x="142.25" y="548.6" width="331.35" height="2.3" fill="url(#h20)"/><rect x="142.25" y="550.6" width="331.35" height="3.3" fill="url(#h21)"/><rect x="142.25" y="553.6" width="331.35" height="3.3" fill="url(#h22)"/><rect x="142.25" y="556.6" width="331.35" height="3.3" fill="url(#h23)"/><rect x="142.25" y="559.6" width="331.35" height="4.3" fill="url(#h24)"/><rect x="142.25" y="563.6" width="331.35" height="4.3" fill="url(#h25)"/><rect x="142.25" y="567.6" width="331.35" height="4.3" fill="url(#h26)"/><rect x="142.25" y="571.6" width="331.35" height="3.3" fill="url(#h27)"/><rect x="142.25" y="574.6" width="331.35" height="2.3" fill="url(#h28)"/><rect x="142.25" y="576.6" width="331.35" height="2.3" fill="url(#h29)"/><rect x="142.25" y="578.6" width="331.35" height="2.3" fill="url(#h30)"/><rect x="142.25" y="580.6" width="331.35" height="2.3" fill="url(#h31)"/><rect x="142.25" y="582.6" width="331.35" height="3.3" fill="url(#h32)"/><rect x="142.25" y="585.6" width="331.35" height="3.3" fill="url(#h33)"/><rect x="142.25" y="588.6" width="331.35" height="3.3" fill="url(#h34)"/><rect x="142.25" y="591.6" width="331.35" height="3.3" fill="url(#h35)"/><rect x="142.25" y="594.6" width="331.35" height="3.3" fill="url(#h36)"/><rect x="142.25" y="597.6" width="331.35" height="4.3" fill="url(#h37)"/><rect x="142.25" y="601.6" width="331.35" height="4.3" fill="url(#h38)"/><rect x="142.25" y="605.6" width="331.35" height="4.3" fill="url(#h39)"/><rect x="142.25" y="609.6" width="331.35" height="4.3" fill="url(#h40)"/><rect x="142.25" y="613.6" width="331.35" height="2.3" fill="url(#h41)"/><rect x="142.25" y="615.6" width="331.35" height="2.3" fill="url(#h42)"/><rect x="142.25" y="617.6" width="331.35" height="2.3" fill="url(#h43)"/><rect x="142.25" y="619.6" width="331.35" height="2.3" fill="url(#h44)"/><rect x="142.25" y="621.6" width="331.35" height="4.3" fill="url(#h45)"/><rect x="142.25" y="625.6" width="331.35" height="5.3" fill="url(#h46)"/><rect x="142.25" y="630.6" width="331.35" height="5.3" fill="url(#h47)"/><rect x="142.25" y="635.6" width="331.35" height="5.3" fill="url(#h48)"/><rect x="142.25" y="640.6" width="331.35" height="5.3" fill="url(#h49)"/><rect x="142.25" y="645.6" width="331.35" height="4.3" fill="url(#h50)"/><rect x="142.25" y="649.6" width="331.35" height="4.3" fill="url(#h51)"/><rect x="142.25" y="653.6" width="331.35" height="4.3" fill="url(#h52)"/><rect x="142.25" y="657.6" width="331.35" height="4.3" fill="url(#h53)"/><rect x="142.25" y="661.6" width="331.35" height="2.3" fill="url(#h54)"/><rect x="142.25" y="663.6" width="331.35" height="2.3" fill="url(#h55)"/><rect x="142.25" y="665.6" width="331.35" height="2.3" fill="url(#h56)"/><rect x="142.25" y="667.6" width="331.35" height="2.3" fill="url(#h57)"/><rect x="142.25" y="669.6" width="331.35" height="2.3" fill="url(#h58)"/><rect x="142.25" y="671.6" width="331.35" height="2.3" fill="url(#h59)"/><rect x="142.25" y="673.6" width="331.35" height="2.3" fill="url(#h60)"/><rect x="142.25" y="675.6" width="331.35" height="2.3" fill="url(#h61)"/><rect x="142.25" y="677.6" width="331.35" height="7.3" fill="url(#h62)"/><rect x="142.25" y="684.6" width="331.35" height="7.3" fill="url(#h63)"/><rect x="142.25" y="691.6" width="331.35" height="7.3" fill="url(#h64)"/><rect x="142.25" y="698.6" width="331.35" height="7.3" fill="url(#h65)"/><rect x="142.25" y="705.6" width="331.35" height="5.3" fill="url(#h66)"/><rect x="142.25" y="710.6" width="331.35" height="5.3" fill="url(#h67)"/><rect x="142.25" y="715.6" width="331.35" height="5.3" fill="url(#h68)"/><rect x="142.25" y="720.6" width="331.35" height="2.3" fill="url(#h69)"/></g><rect x="139.2" y="426.6" width="11.4" height="295.7" fill="url(#skb)" opacity="0.056"/><rect x="145.5" y="426.6" width="5.4" height="295.7" fill="url(#skw)" opacity="0.015"/><rect x="148.1" y="426.6" width="5.4" height="295.7" fill="url(#skb)" opacity="0.063"/><rect x="150.9" y="426.6" width="8.5" height="295.7" fill="url(#skb)" opacity="0.075"/><rect x="157.3" y="426.6" width="8.1" height="295.7" fill="url(#skw)" opacity="0.020"/><rect x="161.1" y="426.6" width="9.4" height="295.7" fill="url(#skw)" opacity="0.023"/><rect x="165.6" y="426.6" width="10.4" height="295.7" fill="url(#skb)" opacity="0.041"/><rect x="173.5" y="426.6" width="12.0" height="295.7" fill="url(#skw)" opacity="0.020"/><rect x="178.9" y="426.6" width="9.0" height="295.7" fill="url(#skw)" opacity="0.011"/><rect x="184.0" y="426.6" width="11.4" height="295.7" fill="url(#skw)" opacity="0.011"/><rect x="192.0" y="426.6" width="8.6" height="295.7" fill="url(#skb)" opacity="0.042"/><rect x="196.8" y="426.6" width="11.4" height="295.7" fill="url(#skb)" opacity="0.055"/><rect x="202.9" y="426.6" width="5.1" height="295.7" fill="url(#skb)" opacity="0.034"/><rect x="206.7" y="426.6" width="7.9" height="295.7" fill="url(#skb)" opacity="0.050"/><rect x="212.9" y="426.6" width="9.4" height="295.7" fill="url(#skw)" opacity="0.021"/><rect x="219.3" y="426.6" width="10.5" height="295.7" fill="url(#skw)" opacity="0.012"/><rect x="226.4" y="426.6" width="5.9" height="295.7" fill="url(#skb)" opacity="0.062"/><rect x="229.8" y="426.6" width="11.4" height="295.7" fill="url(#skw)" opacity="0.015"/><rect x="238.1" y="426.6" width="8.0" height="295.7" fill="url(#skb)" opacity="0.061"/><rect x="244.4" y="426.6" width="12.9" height="295.7" fill="url(#skb)" opacity="0.070"/><rect x="250.9" y="426.6" width="10.7" height="295.7" fill="url(#skb)" opacity="0.050"/><rect x="257.8" y="426.6" width="8.8" height="295.7" fill="url(#skb)" opacity="0.046"/><rect x="263.0" y="426.6" width="5.0" height="295.7" fill="url(#skw)" opacity="0.019"/><rect x="266.9" y="426.6" width="12.4" height="295.7" fill="url(#skw)" opacity="0.025"/><rect x="273.3" y="426.6" width="11.6" height="295.7" fill="url(#skw)" opacity="0.015"/><rect x="278.8" y="426.6" width="11.9" height="295.7" fill="url(#skb)" opacity="0.037"/><rect x="286.3" y="426.6" width="7.1" height="295.7" fill="url(#skw)" opacity="0.017"/><rect x="289.8" y="426.6" width="11.9" height="295.7" fill="url(#skw)" opacity="0.016"/><rect x="295.4" y="426.6" width="5.0" height="295.7" fill="url(#skw)" opacity="0.014"/><rect x="299.3" y="426.6" width="12.1" height="295.7" fill="url(#skw)" opacity="0.016"/><rect x="307.5" y="426.6" width="11.9" height="295.7" fill="url(#skw)" opacity="0.021"/><rect x="314.5" y="426.6" width="9.8" height="295.7" fill="url(#skb)" opacity="0.055"/><rect x="321.3" y="426.6" width="10.6" height="295.7" fill="url(#skw)" opacity="0.009"/><rect x="326.6" y="426.6" width="6.7" height="295.7" fill="url(#skw)" opacity="0.009"/><rect x="330.1" y="426.6" width="9.8" height="295.7" fill="url(#skb)" opacity="0.047"/><rect x="335.8" y="426.6" width="8.3" height="295.7" fill="url(#skb)" opacity="0.069"/><rect x="342.3" y="426.6" width="8.0" height="295.7" fill="url(#skb)" opacity="0.047"/><rect x="348.2" y="426.6" width="6.8" height="295.7" fill="url(#skb)" opacity="0.055"/><rect x="353.0" y="426.6" width="9.3" height="295.7" fill="url(#skw)" opacity="0.016"/><rect x="357.4" y="426.6" width="5.3" height="295.7" fill="url(#skb)" opacity="0.054"/><rect x="361.3" y="426.6" width="5.2" height="295.7" fill="url(#skb)" opacity="0.055"/><rect x="364.7" y="426.6" width="10.8" height="295.7" fill="url(#skb)" opacity="0.058"/><rect x="371.5" y="426.6" width="9.9" height="295.7" fill="url(#skw)" opacity="0.017"/><rect x="378.3" y="426.6" width="6.5" height="295.7" fill="url(#skb)" opacity="0.067"/><rect x="383.4" y="426.6" width="7.4" height="295.7" fill="url(#skw)" opacity="0.012"/><rect x="386.8" y="426.6" width="5.1" height="295.7" fill="url(#skw)" opacity="0.023"/><rect x="389.4" y="426.6" width="10.5" height="295.7" fill="url(#skw)" opacity="0.009"/><rect x="394.9" y="426.6" width="10.4" height="295.7" fill="url(#skb)" opacity="0.057"/><rect x="401.2" y="426.6" width="7.2" height="295.7" fill="url(#skw)" opacity="0.024"/><rect x="404.9" y="426.6" width="10.9" height="295.7" fill="url(#skw)" opacity="0.011"/><rect x="411.1" y="426.6" width="5.7" height="295.7" fill="url(#skb)" opacity="0.048"/><rect x="414.0" y="426.6" width="5.0" height="295.7" fill="url(#skw)" opacity="0.012"/><rect x="417.0" y="426.6" width="9.8" height="295.7" fill="url(#skb)" opacity="0.075"/><rect x="422.2" y="426.6" width="9.9" height="295.7" fill="url(#skb)" opacity="0.035"/><rect x="429.6" y="426.6" width="8.2" height="295.7" fill="url(#skb)" opacity="0.046"/><rect x="435.1" y="426.6" width="9.1" height="295.7" fill="url(#skw)" opacity="0.021"/><rect x="441.8" y="426.6" width="8.9" height="295.7" fill="url(#skw)" opacity="0.024"/><rect x="446.9" y="426.6" width="12.0" height="295.7" fill="url(#skw)" opacity="0.014"/><rect x="453.9" y="426.6" width="5.5" height="295.7" fill="url(#skw)" opacity="0.012"/><rect x="456.5" y="426.6" width="9.3" height="295.7" fill="url(#skw)" opacity="0.008"/><rect x="461.2" y="426.6" width="12.3" height="295.7" fill="url(#skw)" opacity="0.014"/><rect x="470.8" y="426.6" width="5.9" height="295.7" fill="url(#skw)" opacity="0.022"/><rect x="473.5" y="426.6" width="5.5" height="295.7" fill="url(#skb)" opacity="0.064"/></g>
<line x1="142.25" y1="485.9" x2="473.6" y2="485.9" stroke="#ff1a1a" stroke-width="2.5" stroke-dasharray="7,5.5"/>
<text x="161.8" y="475.0" font-size="33.7" font-style="italic" fill="#ff0000">T</text>
<text x="179.8" y="483.7" font-size="22.8" fill="#ff0000">CDW</text>
<rect x="142.25" y="426.6" width="331.35" height="295.70" fill="none" stroke="#000" stroke-width="1.3"/>
<g stroke="#000" stroke-width="1.3"><line x1="142.25" y1="722.4" x2="133.9" y2="722.4"/><line x1="142.25" y1="692.8" x2="138.1" y2="692.8"/><line x1="142.25" y1="663.3" x2="133.9" y2="663.3"/><line x1="142.25" y1="633.8" x2="138.1" y2="633.8"/><line x1="142.25" y1="604.2" x2="133.9" y2="604.2"/><line x1="142.25" y1="574.6" x2="138.1" y2="574.6"/><line x1="142.25" y1="545.1" x2="133.9" y2="545.1"/><line x1="142.25" y1="515.5" x2="138.1" y2="515.5"/><line x1="142.25" y1="486.0" x2="133.9" y2="486.0"/><line x1="142.25" y1="456.4" x2="138.1" y2="456.4"/><line x1="142.25" y1="426.9" x2="133.9" y2="426.9"/><line x1="142.0" y1="722.3" x2="142.0" y2="727.3"/><line x1="162.7" y1="722.3" x2="162.7" y2="727.3"/><line x1="183.4" y1="722.3" x2="183.4" y2="730.8"/><line x1="204.1" y1="722.3" x2="204.1" y2="727.3"/><line x1="224.8" y1="722.3" x2="224.8" y2="727.3"/><line x1="245.5" y1="722.3" x2="245.5" y2="727.3"/><line x1="266.2" y1="722.3" x2="266.2" y2="727.3"/><line x1="286.9" y1="722.3" x2="286.9" y2="730.8"/><line x1="307.6" y1="722.3" x2="307.6" y2="727.3"/><line x1="328.3" y1="722.3" x2="328.3" y2="727.3"/><line x1="349.0" y1="722.3" x2="349.0" y2="727.3"/><line x1="369.7" y1="722.3" x2="369.7" y2="727.3"/><line x1="390.4" y1="722.3" x2="390.4" y2="730.8"/><line x1="411.1" y1="722.3" x2="411.1" y2="727.3"/><line x1="431.8" y1="722.3" x2="431.8" y2="727.3"/><line x1="452.5" y1="722.3" x2="452.5" y2="727.3"/><line x1="473.2" y1="722.3" x2="473.2" y2="727.3"/></g>
<text x="126.8" y="729.0" font-size="19" fill="#000" text-anchor="end" >90</text>
<text x="126.8" y="669.9" font-size="19" fill="#000" text-anchor="end" >92</text>
<text x="126.8" y="610.8" font-size="19" fill="#000" text-anchor="end" >94</text>
<text x="126.8" y="551.7" font-size="19" fill="#000" text-anchor="end" >96</text>
<text x="126.8" y="492.6" font-size="19" fill="#000" text-anchor="end" >98</text>
<text x="126.8" y="433.5" font-size="19" fill="#000" text-anchor="end" >100</text>
<text x="184.0" y="752.2" font-size="19" fill="#000" text-anchor="middle" >134.75</text>
<text x="287.5" y="752.2" font-size="19" fill="#000" text-anchor="middle" >134.80</text>
<text x="391.0" y="752.2" font-size="19" fill="#000" text-anchor="middle" >134.85</text>
<text x="308.3" y="791.7" font-size="27.8" text-anchor="middle"><tspan font-style="italic">f</tspan> (MHz)</text>
<text transform="translate(83.6,574.9) rotate(-90)" font-size="28.2" text-anchor="middle">Temperature (K)</text>
<rect x="532.2" y="463.3" width="35.5" height="243.0" fill="url(#cbar)" stroke="#111" stroke-width="1.2"/>
<line x1="567.7" y1="667.3" x2="575.9" y2="667.3" stroke="#000" stroke-width="1.2"/>
<text x="581.0" y="672.6" font-size="15" fill="#000" text-anchor="start" >0</text>
<line x1="567.7" y1="609.0" x2="575.9" y2="609.0" stroke="#000" stroke-width="1.2"/>
<text x="581.0" y="614.3" font-size="15" fill="#000" text-anchor="start" >1</text>
<line x1="567.7" y1="550.7" x2="575.9" y2="550.7" stroke="#000" stroke-width="1.2"/>
<text x="581.0" y="556.0" font-size="15" fill="#000" text-anchor="start" >2</text>
<line x1="567.7" y1="492.4" x2="575.9" y2="492.4" stroke="#000" stroke-width="1.2"/>
<text x="581.0" y="497.7" font-size="15" fill="#000" text-anchor="start" >3</text>
<text x="465.3" y="421.5" font-size="14">51</text>
<text x="482.3" y="430.8" font-size="21.5" letter-spacing="0.8">V-NMR Intensity</text>
<text x="530.0" y="457.0" font-size="20" letter-spacing="1.4">(a. u.)</text>
<text x="17.6" y="441.0" font-size="37" fill="#000" text-anchor="start" >(c)</text>
<polyline points="763.9,603.0 784.5,602.1 798.3,600.4 812.0,590.0 825.8,583.0 839.5,571.7 867.0,550.9 880.8,542.3 894.5,535.3 908.3,531.0 922.1,529.3 935.8,526.7 949.6,522.9 973.0,517.3 993.6,511.2 1012.8,506.4 1032.1,500.8 1067.9,493.9 1100.9,485.7 1133.9,476.6 1169.7,466.8" fill="none" stroke="#808080" stroke-width="2.6" stroke-dasharray="7.5,5"/>
<g fill="#fff" stroke="#404040" stroke-width="2.4"><rect x="889.9" y="529.0" width="11.8" height="11.8"/><rect x="903.6" y="524.3" width="11.8" height="11.8"/><rect x="916.0" y="524.3" width="11.8" height="11.8"/><rect x="930.6" y="520.7" width="11.8" height="11.8"/><rect x="944.9" y="516.6" width="11.8" height="11.8"/><rect x="967.7" y="511.1" width="11.8" height="11.8"/><rect x="988.3" y="505.1" width="11.8" height="11.8"/><rect x="1007.6" y="500.1" width="11.8" height="11.8"/><rect x="1027.4" y="494.6" width="11.8" height="11.8"/><rect x="1062.6" y="487.7" width="11.8" height="11.8"/><rect x="1095.6" y="479.5" width="11.8" height="11.8"/><rect x="1130.0" y="470.4" width="11.8" height="11.8"/><rect x="1163.5" y="462.1" width="11.8" height="11.8"/><rect x="1167.6" y="458.3" width="11.8" height="11.8"/></g>
<g fill="#fff" stroke="#404040" stroke-width="2.3"><circle cx="764.6" cy="602.8" r="5.9"/><circle cx="784.5" cy="602.0" r="5.9"/><circle cx="799.1" cy="600.2" r="5.9"/><circle cx="812.1" cy="590.0" r="5.9"/><circle cx="826.7" cy="582.3" r="5.9"/><circle cx="840.0" cy="572.1" r="5.9"/><circle cx="867.3" cy="551.6" r="5.9"/></g>
<g fill="#404040" stroke="#404040" stroke-width="2.3"><circle cx="880.0" cy="544.5" r="5.9"/><circle cx="883.0" cy="543.0" r="5.9"/><circle cx="885.5" cy="541.5" r="5.9"/></g>
<circle cx="890.6" cy="541.6" r="5.9" fill="#fff" stroke="#404040" stroke-width="2.3"/>
<g fill="#ef4040"><circle cx="764.6" cy="691.5" r="7.8"/><circle cx="784.5" cy="690.2" r="7.8"/><circle cx="799.1" cy="687.1" r="7.8"/><circle cx="812.1" cy="673.8" r="7.8"/><circle cx="826.7" cy="661.6" r="7.8"/><circle cx="840.0" cy="646.2" r="7.8"/><circle cx="867.3" cy="616.3" r="7.8"/><circle cx="881.6" cy="598.9" r="7.8"/><circle cx="884.5" cy="594.0" r="7.8"/><circle cx="886.8" cy="590.8" r="7.8"/><circle cx="891.4" cy="591.8" r="7.8"/></g>
<g fill="#1d6fdc"><path d="M764.6,502.7 L773.8,518.8 L755.4,518.8 Z"/><path d="M784.5,502.0 L793.7,518.1 L775.3,518.1 Z"/><path d="M799.0,502.7 L808.2,518.8 L789.8,518.8 Z"/><path d="M812.1,495.9 L821.3,512.0 L802.9,512.0 Z"/><path d="M826.7,492.0 L835.9,508.1 L817.5,508.1 Z"/><path d="M840.0,486.7 L849.2,502.8 L830.8,502.8 Z"/><path d="M867.6,475.4 L876.8,491.5 L858.4,491.5 Z"/><path d="M882.2,475.4 L891.4,491.5 L873.0,491.5 Z"/><path d="M885.5,476.4 L894.7,492.5 L876.3,492.5 Z"/><path d="M889.3,478.0 L898.5,494.1 L880.1,494.1 Z"/></g>
<rect x="757.0" y="427.0" width="426.4" height="295.0" fill="none" stroke="#000" stroke-width="1.5"/>
<g stroke="#000" stroke-width="1.5"><line x1="757.0" y1="704.4" x2="767.0" y2="704.4"/><line x1="757.0" y1="687.1" x2="762.5" y2="687.1"/><line x1="757.0" y1="669.7" x2="762.5" y2="669.7"/><line x1="757.0" y1="652.4" x2="762.5" y2="652.4"/><line x1="757.0" y1="635.0" x2="762.5" y2="635.0"/><line x1="757.0" y1="617.7" x2="767.0" y2="617.7"/><line x1="757.0" y1="600.4" x2="762.5" y2="600.4"/><line x1="757.0" y1="583.0" x2="762.5" y2="583.0"/><line x1="757.0" y1="565.7" x2="762.5" y2="565.7"/><line x1="757.0" y1="548.3" x2="762.5" y2="548.3"/><line x1="757.0" y1="531.0" x2="767.0" y2="531.0"/><line x1="757.0" y1="513.7" x2="762.5" y2="513.7"/><line x1="757.0" y1="496.3" x2="762.5" y2="496.3"/><line x1="757.0" y1="479.0" x2="762.5" y2="479.0"/><line x1="757.0" y1="461.6" x2="762.5" y2="461.6"/><line x1="757.0" y1="444.3" x2="767.0" y2="444.3"/><line x1="757.0" y1="722.0" x2="757.0" y2="712.0"/><line x1="784.5" y1="722.0" x2="784.5" y2="716.5"/><line x1="812.0" y1="722.0" x2="812.0" y2="716.5"/><line x1="839.5" y1="722.0" x2="839.5" y2="716.5"/><line x1="867.0" y1="722.0" x2="867.0" y2="716.5"/><line x1="894.5" y1="722.0" x2="894.5" y2="712.0"/><line x1="922.1" y1="722.0" x2="922.1" y2="716.5"/><line x1="949.6" y1="722.0" x2="949.6" y2="716.5"/><line x1="977.1" y1="722.0" x2="977.1" y2="716.5"/><line x1="1004.6" y1="722.0" x2="1004.6" y2="716.5"/><line x1="1032.1" y1="722.0" x2="1032.1" y2="712.0"/><line x1="1059.6" y1="722.0" x2="1059.6" y2="716.5"/><line x1="1087.1" y1="722.0" x2="1087.1" y2="716.5"/><line x1="1114.6" y1="722.0" x2="1114.6" y2="716.5"/><line x1="1142.1" y1="722.0" x2="1142.1" y2="716.5"/><line x1="1169.7" y1="722.0" x2="1169.7" y2="712.0"/></g>
<text x="746.6" y="710.8" font-size="22.3" fill="#000" text-anchor="end" >0.30</text>
<text x="746.6" y="624.1" font-size="22.3" fill="#000" text-anchor="end" >0.35</text>
<text x="746.6" y="537.4" font-size="22.3" fill="#000" text-anchor="end" >0.40</text>
<text x="746.6" y="450.7" font-size="22.3" fill="#000" text-anchor="end" >0.45</text>
<text x="757.8" y="750.5" font-size="22.3" fill="#000" text-anchor="middle" >0</text>
<text x="895.3" y="750.5" font-size="22.3" fill="#000" text-anchor="middle" >100</text>
<text x="1032.9" y="750.5" font-size="22.3" fill="#000" text-anchor="middle" >200</text>
<text x="1170.5" y="750.5" font-size="22.3" fill="#000" text-anchor="middle" >300</text>
<text x="972.3" y="782.8" font-size="31" text-anchor="middle"><tspan font-style="italic">T</tspan> (K)</text>
<text transform="translate(684.4,630.0) rotate(-90)" font-size="31"><tspan font-size="21" dy="-12.4">51</tspan><tspan font-style="italic" dy="12.4">K</tspan><tspan font-size="21" font-style="italic" dy="8.0">c</tspan><tspan dy="-8.0"> (%)</tspan></text>
<text x="654.3" y="440.8" font-size="37" fill="#000" text-anchor="start" >(d)</text>
<rect x="970.0" y="580.6" width="12.8" height="12.8" fill="none" stroke="#404040" stroke-width="2.2"/>
<circle cx="976.4" cy="619.4" r="8.2" fill="#ef4040"/>
<path d="M976.4,642.4 L986.0,659.0 L966.8,659.0 Z" fill="#1d6fdc"/>
<circle cx="976.4" cy="688.0" r="7.3" fill="none" stroke="#404040" stroke-width="2.4"/>
<text x="1009.3" y="594.4" font-size="21.5"><tspan font-style="italic">B</tspan><tspan font-size="15" dy="6.5">0</tspan><tspan dy="-6.5" letter-spacing="1.2"> || </tspan><tspan font-style="italic">c</tspan></text>
<text x="1009.3" y="695.4" font-size="21.5"><tspan font-style="italic">B</tspan><tspan font-size="15" dy="6.5">0</tspan><tspan dy="-6.5" letter-spacing="1.2"> || </tspan><tspan font-style="italic">c</tspan><tspan letter-spacing="0.9"> (average)</tspan></text>
<text x="1009.3" y="627.0" font-size="21.5" font-style="italic">I</text><text x="1015.0" y="633.6" font-size="15">1</text>
<text x="1009.3" y="661.0" font-size="21.5" font-style="italic">I</text><text x="1015.0" y="667.6" font-size="15">2</text>
<polyline points="175.5,848.3 179.2,848.4 182.9,848.5 186.6,848.7 190.3,848.8 194.0,849.0 197.7,849.2 201.4,849.5 205.1,849.7 208.8,850.0 212.5,850.3 216.2,850.6 219.9,850.9 223.5,851.3 227.2,851.7 230.9,852.1 234.6,852.6 238.3,853.0 242.0,853.5 245.7,854.0 249.4,854.6 253.1,855.1 256.8,855.7 260.5,856.4 264.2,857.0 267.9,857.7 271.6,858.4 275.3,859.1 279.0,859.8 282.7,860.6 286.4,861.4 290.1,862.2 293.8,863.1 297.5,864.0 301.2,864.9 304.9,865.8 308.6,866.8 312.3,867.8 316.0,868.8 319.7,869.8 323.4,870.9 327.1,872.0 330.8,873.1 334.5,874.3 338.1,875.5 341.8,876.7 345.5,877.9 349.2,879.2 352.9,880.5 356.6,881.8 360.3,883.2 364.0,884.6 367.7,886.0 371.4,887.4 375.1,888.9 378.8,890.4 382.5,891.9 386.2,893.4 389.9,895.0 393.6,896.6 397.3,898.3 401.0,899.9 404.7,901.6 408.4,903.4 412.1,905.1 415.8,906.9 419.5,908.7 423.2,910.5 426.9,912.4 430.6,914.3 434.3,916.2 438.0,918.2 441.7,920.2 445.4,922.2 449.1,924.3 452.7,926.3 456.4,928.4 460.1,930.6 463.8,932.8 467.5,935.0 471.2,937.2 474.9,939.4 478.6,941.7 482.3,944.0 486.0,946.4 489.7,948.8 493.4,951.2 497.1,953.6 500.8,956.1 504.5,958.6" fill="none" stroke="#000" stroke-width="1.9"/>
<g fill="#ff0000" stroke="#000" stroke-width="2.6" clip-path="url(#clipE)"><circle cx="175.5" cy="849.7" r="7.65"/><circle cx="228.4" cy="849.6" r="7.65"/><circle cx="266.0" cy="853.5" r="7.65"/><circle cx="300.5" cy="864.0" r="7.65"/><circle cx="337.6" cy="875.0" r="7.65"/><circle cx="371.3" cy="890.0" r="7.65"/><circle cx="441.6" cy="916.3" r="7.65"/><circle cx="477.4" cy="941.0" r="7.65"/><circle cx="481.6" cy="944.8" r="7.65"/><circle cx="487.8" cy="948.0" r="7.65"/><circle cx="490.2" cy="953.4" r="7.65"/><circle cx="495.2" cy="955.4" r="7.65"/><circle cx="499.6" cy="957.1" r="7.65"/><circle cx="503.8" cy="957.8" r="7.65"/><circle cx="507.5" cy="1100.9" r="7.65"/><circle cx="519.4" cy="1100.9" r="7.65"/><circle cx="551.9" cy="1100.9" r="7.65"/><circle cx="583.5" cy="1100.9" r="7.65"/></g>
<line x1="504.0" y1="957.5" x2="504.0" y2="1093" stroke="#000" stroke-width="2" stroke-dasharray="8.5,5.6"/>
<rect x="158.1" y="806.0" width="425.9" height="295.1" fill="none" stroke="#000" stroke-width="1.5"/>
<g stroke="#000" stroke-width="1.5"><line x1="158.1" y1="1101.5" x2="167.5" y2="1101.5"/><line x1="158.1" y1="1076.8" x2="163.1" y2="1076.8"/><line x1="158.1" y1="1052.1" x2="163.1" y2="1052.1"/><line x1="158.1" y1="1027.4" x2="163.1" y2="1027.4"/><line x1="158.1" y1="1002.7" x2="163.1" y2="1002.7"/><line x1="158.1" y1="978.0" x2="167.5" y2="978.0"/><line x1="158.1" y1="953.3" x2="163.1" y2="953.3"/><line x1="158.1" y1="928.6" x2="163.1" y2="928.6"/><line x1="158.1" y1="903.9" x2="163.1" y2="903.9"/><line x1="158.1" y1="879.2" x2="163.1" y2="879.2"/><line x1="158.1" y1="854.5" x2="167.5" y2="854.5"/><line x1="158.1" y1="829.8" x2="163.1" y2="829.8"/><line x1="158.1" y1="1101.1" x2="158.1" y2="1091.7"/><line x1="193.6" y1="1101.1" x2="193.6" y2="1096.1"/><line x1="229.1" y1="1101.1" x2="229.1" y2="1091.7"/><line x1="264.6" y1="1101.1" x2="264.6" y2="1096.1"/><line x1="300.1" y1="1101.1" x2="300.1" y2="1091.7"/><line x1="335.6" y1="1101.1" x2="335.6" y2="1096.1"/><line x1="371.1" y1="1101.1" x2="371.1" y2="1091.7"/><line x1="406.5" y1="1101.1" x2="406.5" y2="1096.1"/><line x1="442.0" y1="1101.1" x2="442.0" y2="1091.7"/><line x1="477.5" y1="1101.1" x2="477.5" y2="1096.1"/><line x1="513.0" y1="1101.1" x2="513.0" y2="1091.7"/><line x1="548.5" y1="1101.1" x2="548.5" y2="1096.1"/><line x1="584.0" y1="1101.1" x2="584.0" y2="1091.7"/></g>
<text x="147.6" y="1108.2" font-size="22.3" fill="#000" text-anchor="end" >0.00</text>
<text x="147.6" y="984.7" font-size="22.3" fill="#000" text-anchor="end" >0.05</text>
<text x="147.6" y="861.2" font-size="22.3" fill="#000" text-anchor="end" >0.10</text>
<text x="158.9" y="1130.5" font-size="22.3" fill="#000" text-anchor="middle" >0</text>
<text x="229.9" y="1130.5" font-size="22.3" fill="#000" text-anchor="middle" >20</text>
<text x="300.9" y="1130.5" font-size="22.3" fill="#000" text-anchor="middle" >40</text>
<text x="371.9" y="1130.5" font-size="22.3" fill="#000" text-anchor="middle" >60</text>
<text x="442.8" y="1130.5" font-size="22.3" fill="#000" text-anchor="middle" >80</text>
<text x="513.8" y="1130.5" font-size="22.3" fill="#000" text-anchor="middle" >100</text>
<text x="584.8" y="1130.5" font-size="22.3" fill="#000" text-anchor="middle" >120</text>
<text x="372.6" y="1166.6" font-size="31" text-anchor="middle"><tspan font-style="italic">T</tspan> (K)</text>
<text transform="translate(90.9,952.8) rotate(-90)" font-size="31" text-anchor="middle"><tspan font-style="italic">ΔK</tspan> (%)</text>
<text x="17.6" y="817.8" font-size="37" fill="#000" text-anchor="start" >(e)</text>
<polyline points="927.6,879.4 944.0,900.0 960.0,916.0 977.5,930.0 998.3,940.0 1016.7,952.0 1040.0,961.0 1074.0,958.5 1109.4,949.5 1142.0,936.0 1176.5,928.0" fill="none" stroke="#000" stroke-width="2.3" stroke-dasharray="6,4.7"/>
<g stroke="#404040" stroke-width="2.2"><line x1="895.6" y1="845.3" x2="895.6" y2="868.0"/><line x1="888.4" y1="845.3" x2="902.8" y2="845.3"/><line x1="888.4" y1="868.0" x2="902.8" y2="868.0"/><line x1="912.4" y1="857.5" x2="912.4" y2="878.2"/><line x1="905.2" y1="857.5" x2="919.6" y2="857.5"/><line x1="905.2" y1="878.2" x2="919.6" y2="878.2"/><line x1="927.6" y1="868.0" x2="927.6" y2="890.8"/><line x1="920.4" y1="868.0" x2="934.8" y2="868.0"/><line x1="920.4" y1="890.8" x2="934.8" y2="890.8"/><line x1="940.8" y1="873.3" x2="940.8" y2="910.9"/><line x1="933.6" y1="873.3" x2="948.0" y2="873.3"/><line x1="933.6" y1="910.9" x2="948.0" y2="910.9"/><line x1="954.2" y1="890.0" x2="954.2" y2="901.0"/><line x1="947.0" y1="890.0" x2="961.4" y2="890.0"/><line x1="947.0" y1="901.0" x2="961.4" y2="901.0"/><line x1="959.8" y1="918.0" x2="959.8" y2="931.0"/><line x1="952.6" y1="918.0" x2="967.0" y2="918.0"/><line x1="952.6" y1="931.0" x2="967.0" y2="931.0"/><line x1="977.5" y1="918.5" x2="977.5" y2="936.3"/><line x1="970.3" y1="918.5" x2="984.7" y2="918.5"/><line x1="970.3" y1="936.3" x2="984.7" y2="936.3"/><line x1="998.3" y1="915.4" x2="998.3" y2="947.0"/><line x1="991.1" y1="915.4" x2="1005.5" y2="915.4"/><line x1="991.1" y1="947.0" x2="1005.5" y2="947.0"/><line x1="1016.7" y1="935.8" x2="1016.7" y2="960.8"/><line x1="1009.5" y1="935.8" x2="1023.9" y2="935.8"/><line x1="1009.5" y1="960.8" x2="1023.9" y2="960.8"/><line x1="1040.0" y1="957.0" x2="1040.0" y2="975.4"/><line x1="1032.8" y1="957.0" x2="1047.2" y2="957.0"/><line x1="1032.8" y1="975.4" x2="1047.2" y2="975.4"/><line x1="1074.0" y1="950.8" x2="1074.0" y2="968.5"/><line x1="1066.8" y1="950.8" x2="1081.2" y2="950.8"/><line x1="1066.8" y1="968.5" x2="1081.2" y2="968.5"/><line x1="1109.4" y1="933.1" x2="1109.4" y2="958.1"/><line x1="1102.2" y1="933.1" x2="1116.6" y2="933.1"/><line x1="1102.2" y1="958.1" x2="1116.6" y2="958.1"/><line x1="1142.0" y1="930.0" x2="1142.0" y2="939.0"/><line x1="1134.8" y1="930.0" x2="1149.2" y2="930.0"/><line x1="1134.8" y1="939.0" x2="1149.2" y2="939.0"/><line x1="1176.5" y1="925.0" x2="1176.5" y2="934.0"/><line x1="1169.3" y1="925.0" x2="1183.7" y2="925.0"/><line x1="1169.3" y1="934.0" x2="1183.7" y2="934.0"/></g>
<g fill="#404040"><rect x="888.6" y="849.6" width="14" height="14"/><rect x="905.4" y="861.0" width="14" height="14"/><rect x="920.6" y="872.4" width="14" height="14"/><rect x="933.8" y="885.2" width="14" height="14"/><rect x="947.2" y="888.6" width="14" height="14"/><rect x="952.8" y="917.8" width="14" height="14"/><rect x="970.5" y="920.5" width="14" height="14"/><rect x="991.3" y="924.0" width="14" height="14"/><rect x="1009.7" y="940.7" width="14" height="14"/><rect x="1033.0" y="958.4" width="14" height="14"/><rect x="1067.0" y="952.2" width="14" height="14"/><rect x="1102.4" y="938.6" width="14" height="14"/><rect x="1135.0" y="927.6" width="14" height="14"/><rect x="1169.5" y="922.6" width="14" height="14"/></g>
<g stroke="#ef4040" stroke-width="2.2"><line x1="764.9" y1="918.2" x2="764.9" y2="937.7"/><line x1="757.7" y1="918.2" x2="772.1" y2="918.2"/><line x1="757.7" y1="937.7" x2="772.1" y2="937.7"/><line x1="785.0" y1="914.7" x2="785.0" y2="930.7"/><line x1="777.8" y1="914.7" x2="792.2" y2="914.7"/><line x1="777.8" y1="930.7" x2="792.2" y2="930.7"/><line x1="813.4" y1="910.5" x2="813.4" y2="927.0"/><line x1="806.1" y1="910.5" x2="820.6" y2="910.5"/><line x1="806.1" y1="927.0" x2="820.6" y2="927.0"/><line x1="841.4" y1="897.8" x2="841.4" y2="919.6"/><line x1="834.1" y1="897.8" x2="848.6" y2="897.8"/><line x1="834.1" y1="919.6" x2="848.6" y2="919.6"/><line x1="869.0" y1="895.0" x2="869.0" y2="904.0"/><line x1="861.8" y1="895.0" x2="876.2" y2="895.0"/><line x1="861.8" y1="904.0" x2="876.2" y2="904.0"/><line x1="883.9" y1="889.5" x2="883.9" y2="898.5"/><line x1="876.7" y1="889.5" x2="891.1" y2="889.5"/><line x1="876.7" y1="898.5" x2="891.1" y2="898.5"/></g>
<g fill="#ef4040"><circle cx="764.9" cy="928.4" r="7.9"/><circle cx="785.0" cy="922.6" r="7.9"/><circle cx="813.4" cy="918.8" r="7.9"/><circle cx="841.4" cy="908.8" r="7.9"/><circle cx="869.0" cy="899.5" r="7.9"/><circle cx="883.9" cy="893.9" r="7.9"/></g>
<g stroke="#1d6fdc" stroke-width="2.2"><line x1="764.9" y1="999.6" x2="764.9" y2="1018.5"/><line x1="757.7" y1="999.6" x2="772.1" y2="999.6"/><line x1="757.7" y1="1018.5" x2="772.1" y2="1018.5"/><line x1="785.0" y1="989.5" x2="785.0" y2="1001.0"/><line x1="777.8" y1="989.5" x2="792.2" y2="989.5"/><line x1="777.8" y1="1001.0" x2="792.2" y2="1001.0"/><line x1="813.4" y1="982.0" x2="813.4" y2="995.0"/><line x1="806.1" y1="982.0" x2="820.6" y2="982.0"/><line x1="806.1" y1="995.0" x2="820.6" y2="995.0"/><line x1="841.4" y1="964.5" x2="841.4" y2="972.0"/><line x1="834.1" y1="964.5" x2="848.6" y2="964.5"/><line x1="834.1" y1="972.0" x2="848.6" y2="972.0"/><line x1="869.0" y1="958.5" x2="869.0" y2="967.0"/><line x1="861.8" y1="958.5" x2="876.2" y2="958.5"/><line x1="861.8" y1="967.0" x2="876.2" y2="967.0"/><line x1="883.5" y1="946.5" x2="883.5" y2="957.0"/><line x1="876.3" y1="946.5" x2="890.7" y2="946.5"/><line x1="876.3" y1="957.0" x2="890.7" y2="957.0"/></g>
<g fill="#1d6fdc"><path d="M764.9,998.4 L773.8,1014.8 L756.0,1014.8 Z"/><path d="M785.0,985.8 L793.9,1002.2 L776.1,1002.2 Z"/><path d="M813.4,977.4 L822.2,993.8 L804.5,993.8 Z"/><path d="M841.4,958.7 L850.2,975.1 L832.5,975.1 Z"/><path d="M869.0,953.8 L877.9,970.1 L860.1,970.1 Z"/><path d="M883.5,941.5 L892.4,957.9 L874.6,957.9 Z"/></g>
<rect x="757.3" y="805.4" width="426.0" height="294.9" fill="none" stroke="#000" stroke-width="1.5"/>
<g stroke="#000" stroke-width="1.5"><line x1="757.3" y1="1100.3" x2="767.1" y2="1100.3"/><line x1="757.3" y1="1085.6" x2="762.2" y2="1085.6"/><line x1="757.3" y1="1070.8" x2="762.2" y2="1070.8"/><line x1="757.3" y1="1056.1" x2="762.2" y2="1056.1"/><line x1="757.3" y1="1041.3" x2="762.2" y2="1041.3"/><line x1="757.3" y1="1026.6" x2="767.1" y2="1026.6"/><line x1="757.3" y1="1011.8" x2="762.2" y2="1011.8"/><line x1="757.3" y1="997.1" x2="762.2" y2="997.1"/><line x1="757.3" y1="982.3" x2="762.2" y2="982.3"/><line x1="757.3" y1="967.6" x2="762.2" y2="967.6"/><line x1="757.3" y1="952.8" x2="767.1" y2="952.8"/><line x1="757.3" y1="938.1" x2="762.2" y2="938.1"/><line x1="757.3" y1="923.4" x2="762.2" y2="923.4"/><line x1="757.3" y1="908.6" x2="762.2" y2="908.6"/><line x1="757.3" y1="893.9" x2="762.2" y2="893.9"/><line x1="757.3" y1="879.1" x2="767.1" y2="879.1"/><line x1="757.3" y1="864.4" x2="762.2" y2="864.4"/><line x1="757.3" y1="849.6" x2="762.2" y2="849.6"/><line x1="757.3" y1="834.9" x2="762.2" y2="834.9"/><line x1="757.3" y1="820.1" x2="762.2" y2="820.1"/><line x1="757.3" y1="805.4" x2="767.1" y2="805.4"/><line x1="757.2" y1="1100.3" x2="757.2" y2="1090.5"/><line x1="785.1" y1="1100.3" x2="785.1" y2="1095.4"/><line x1="813.1" y1="1100.3" x2="813.1" y2="1095.4"/><line x1="841.0" y1="1100.3" x2="841.0" y2="1095.4"/><line x1="869.0" y1="1100.3" x2="869.0" y2="1095.4"/><line x1="896.9" y1="1100.3" x2="896.9" y2="1090.5"/><line x1="924.8" y1="1100.3" x2="924.8" y2="1095.4"/><line x1="952.8" y1="1100.3" x2="952.8" y2="1095.4"/><line x1="980.7" y1="1100.3" x2="980.7" y2="1095.4"/><line x1="1008.7" y1="1100.3" x2="1008.7" y2="1095.4"/><line x1="1036.6" y1="1100.3" x2="1036.6" y2="1090.5"/><line x1="1064.5" y1="1100.3" x2="1064.5" y2="1095.4"/><line x1="1092.5" y1="1100.3" x2="1092.5" y2="1095.4"/><line x1="1120.4" y1="1100.3" x2="1120.4" y2="1095.4"/><line x1="1148.4" y1="1100.3" x2="1148.4" y2="1095.4"/><line x1="1176.3" y1="1100.3" x2="1176.3" y2="1090.5"/></g>
<text x="746.4" y="1106.6" font-size="22.3" fill="#000" text-anchor="end" >0.0</text>
<text x="746.4" y="1032.9" font-size="22.3" fill="#000" text-anchor="end" >0.5</text>
<text x="746.4" y="959.1" font-size="22.3" fill="#000" text-anchor="end" >1.0</text>
<text x="746.4" y="885.4" font-size="22.3" fill="#000" text-anchor="end" >1.5</text>
<text x="746.4" y="811.7" font-size="22.3" fill="#000" text-anchor="end" >2.0</text>
<text x="758.0" y="1130.5" font-size="22.3" fill="#000" text-anchor="middle" >0</text>
<text x="897.7" y="1130.5" font-size="22.3" fill="#000" text-anchor="middle" >100</text>
<text x="1037.4" y="1130.5" font-size="22.3" fill="#000" text-anchor="middle" >200</text>
<text x="1177.1" y="1130.5" font-size="22.3" fill="#000" text-anchor="middle" >300</text>
<text x="972.3" y="1166.6" font-size="31" text-anchor="middle"><tspan font-style="italic">T</tspan> (K)</text>
<text transform="translate(685.5,1045.5) rotate(-90)" font-size="31.6">1/<tspan font-style="italic">T</tspan><tspan font-size="20" dy="7">1</tspan><tspan font-style="italic" dy="-7">T</tspan> (s<tspan font-size="20" dy="-9">-1</tspan><tspan dy="9"> K</tspan><tspan font-size="20" dy="-9">-1</tspan><tspan dy="9">)</tspan></text>
<text x="654.1" y="817.8" font-size="37" fill="#000" text-anchor="start" >(f)</text>
<text x="1016.5" y="842.7" font-size="22.2"><tspan font-style="italic">B</tspan><tspan font-size="15.5" dy="7">0</tspan><tspan dy="-7" letter-spacing="2.1"> = 11.997 T</tspan></text>
<text x="1062.0" y="879.6" font-size="22.2"><tspan font-style="italic">B</tspan><tspan font-size="15.5" dy="7">0</tspan><tspan dy="-7" letter-spacing="1.8"> || </tspan><tspan font-style="italic">c</tspan></text>
<text x="794.3" y="888.5" font-size="36" font-style="italic" fill="#ef4040">I</text><text x="803.0" y="894.5" font-size="24" fill="#ef4040">1</text>
<text x="812.0" y="1034.8" font-size="36" font-style="italic" fill="#1d6fdc">I</text><text x="819.5" y="1040.5" font-size="24" fill="#1d6fdc">2</text></svg></body></html>
